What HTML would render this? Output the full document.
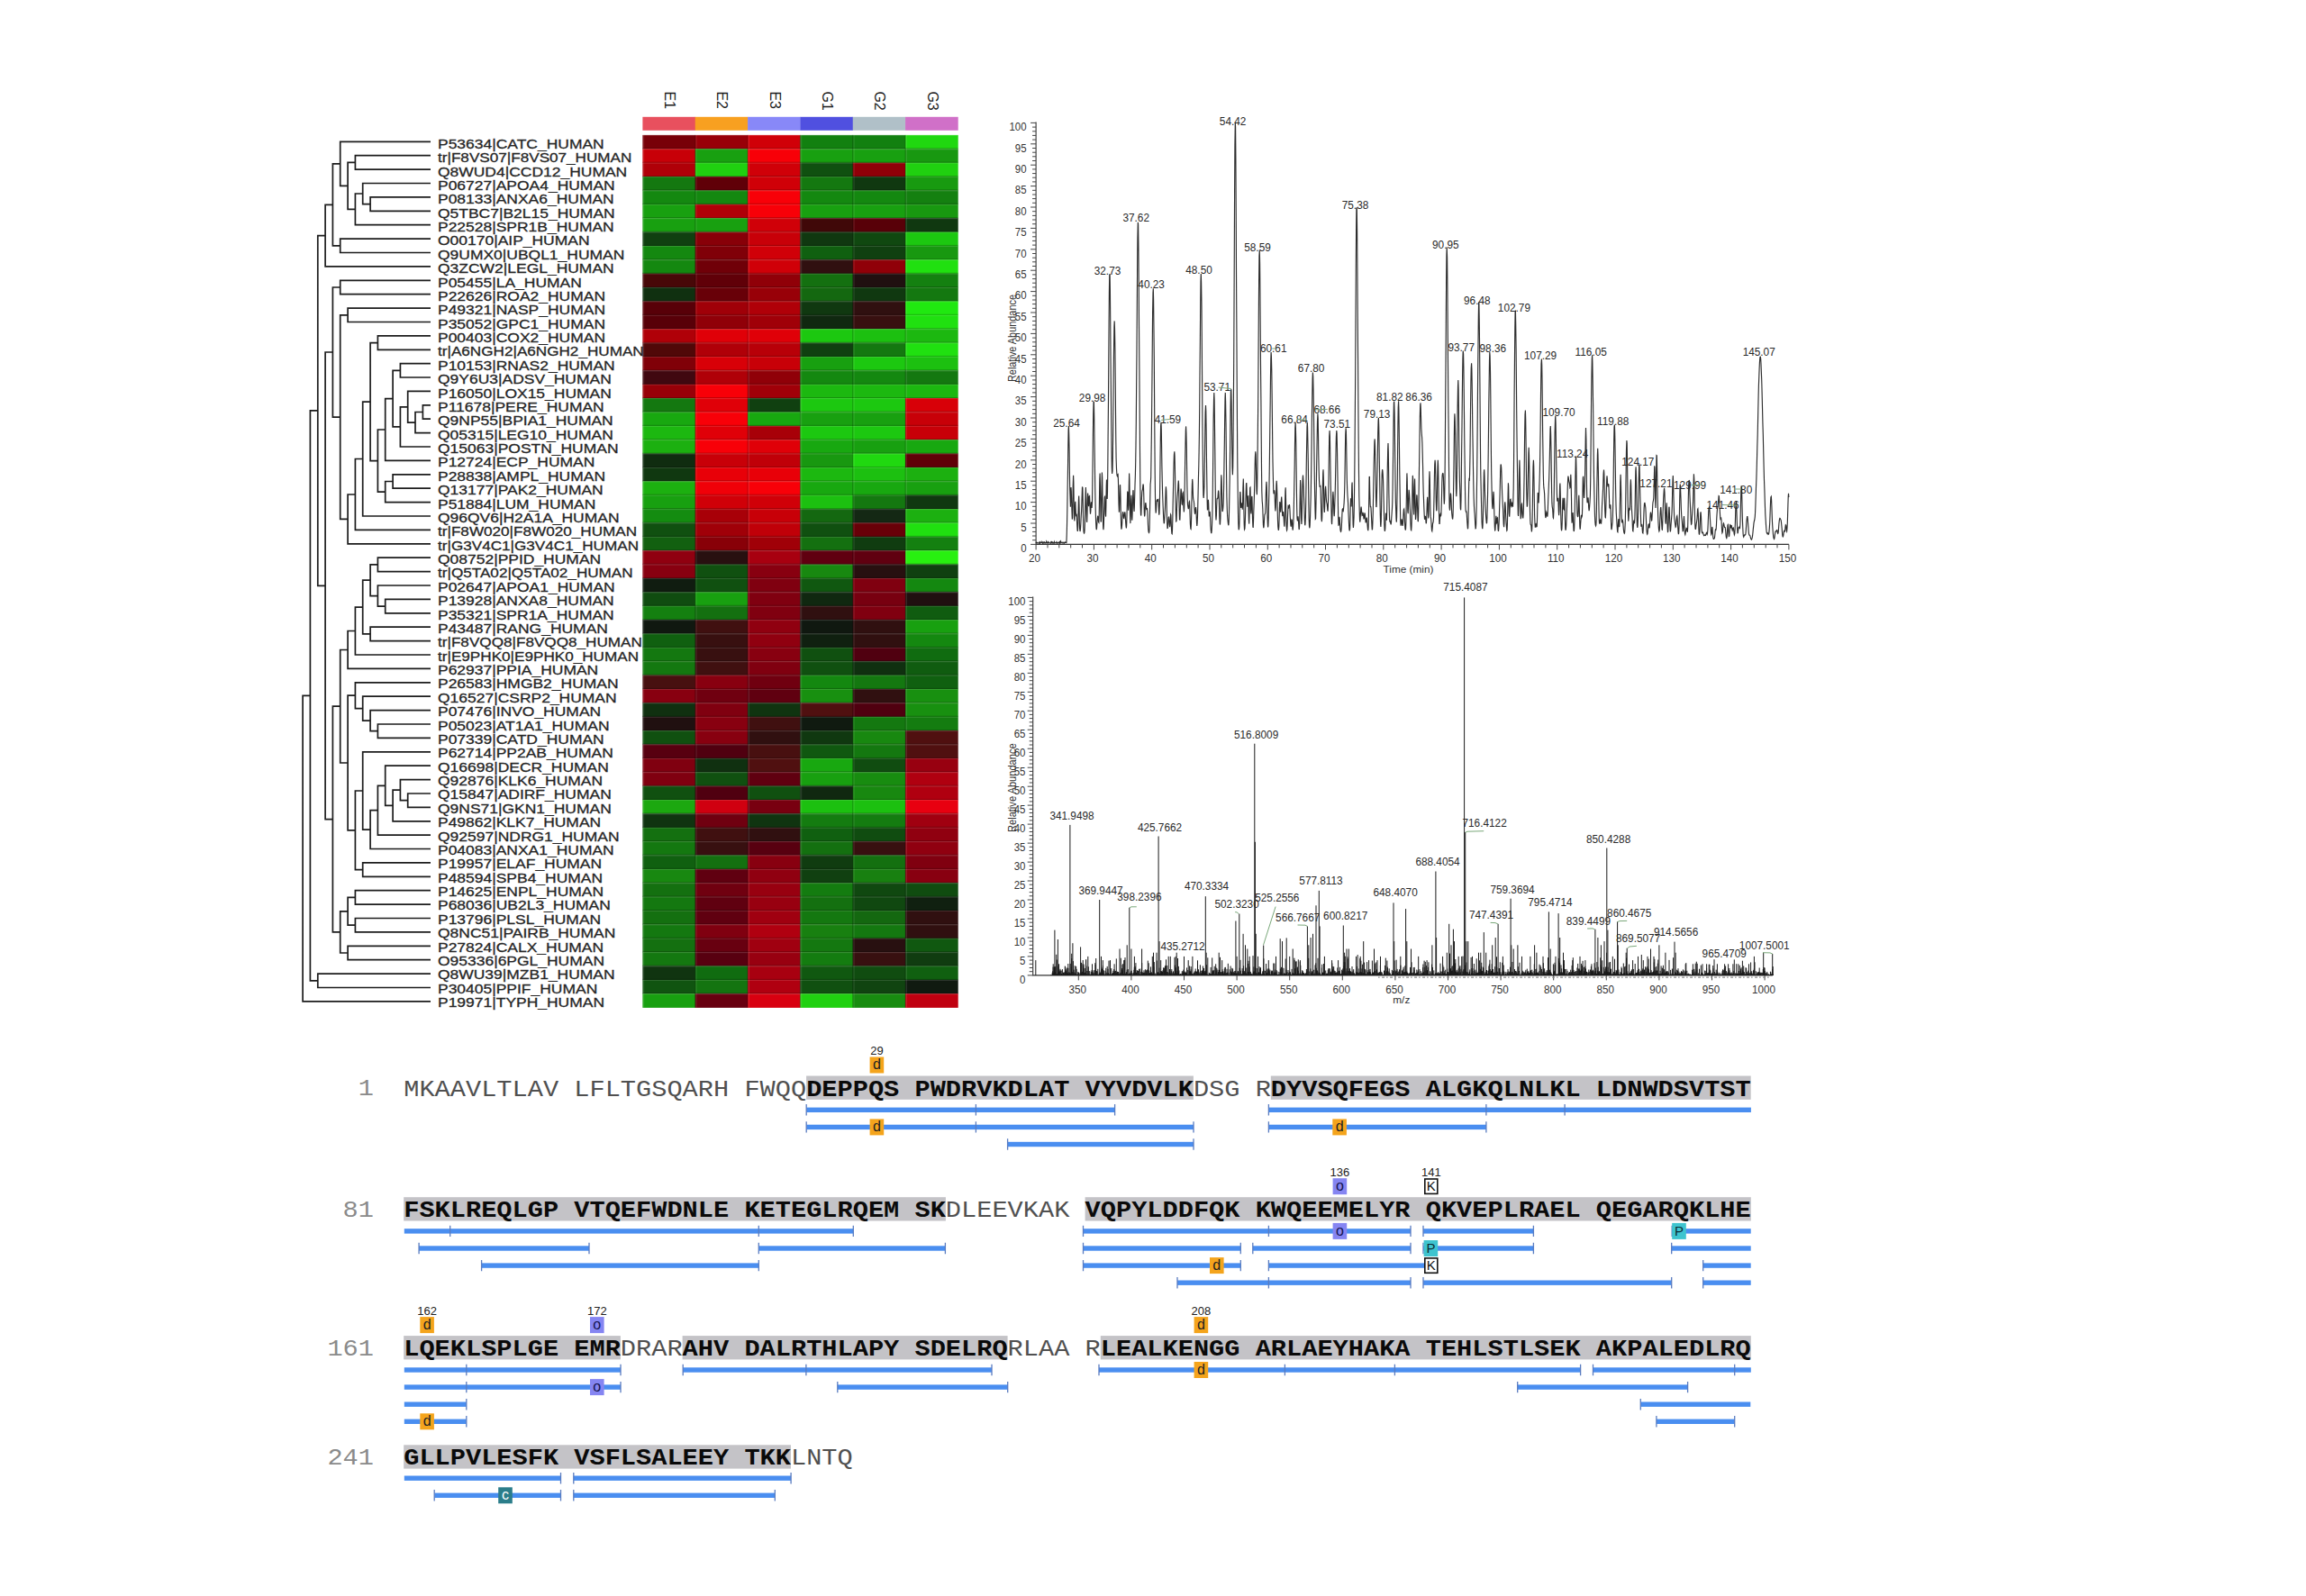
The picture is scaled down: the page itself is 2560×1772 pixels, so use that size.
<!DOCTYPE html>
<html><head><meta charset="utf-8"><title>Proteomics figure</title>
<style>html,body{margin:0;padding:0;background:#fff;}svg{display:block;}</style></head>
<body><svg width="2560" height="1772" viewBox="0 0 2560 1772">
<rect width="2560" height="1772" fill="#fff"/>
<rect x="713.40" y="129.8" width="58.63" height="15" fill="#e8505e"/>
<rect x="771.73" y="129.8" width="58.63" height="15" fill="#f8a020"/>
<rect x="830.07" y="129.8" width="58.63" height="15" fill="#8888f8"/>
<rect x="888.40" y="129.8" width="58.63" height="15" fill="#5050e0"/>
<rect x="946.73" y="129.8" width="58.63" height="15" fill="#b0c0c8"/>
<rect x="1005.07" y="129.8" width="58.63" height="15" fill="#d070c8"/>
<rect x="713.40" y="149.90" width="58.63" height="15.68" fill="#780008"/>
<rect x="771.73" y="149.90" width="58.63" height="15.68" fill="#980008"/>
<rect x="830.07" y="149.90" width="58.63" height="15.68" fill="#d00008"/>
<rect x="888.40" y="149.90" width="58.63" height="15.68" fill="#128010"/>
<rect x="946.73" y="149.90" width="58.63" height="15.68" fill="#128010"/>
<rect x="1005.07" y="149.90" width="58.63" height="15.68" fill="#20d810"/>
<rect x="713.40" y="165.28" width="58.63" height="15.68" fill="#c80008"/>
<rect x="771.73" y="165.28" width="58.63" height="15.68" fill="#18a010"/>
<rect x="830.07" y="165.28" width="58.63" height="15.68" fill="#f80008"/>
<rect x="888.40" y="165.28" width="58.63" height="15.68" fill="#18a010"/>
<rect x="946.73" y="165.28" width="58.63" height="15.68" fill="#18a010"/>
<rect x="1005.07" y="165.28" width="58.63" height="15.68" fill="#189810"/>
<rect x="713.40" y="180.65" width="58.63" height="15.68" fill="#b00008"/>
<rect x="771.73" y="180.65" width="58.63" height="15.68" fill="#20d010"/>
<rect x="830.07" y="180.65" width="58.63" height="15.68" fill="#d00008"/>
<rect x="888.40" y="180.65" width="58.63" height="15.68" fill="#105010"/>
<rect x="946.73" y="180.65" width="58.63" height="15.68" fill="#900008"/>
<rect x="1005.07" y="180.65" width="58.63" height="15.68" fill="#20d010"/>
<rect x="713.40" y="196.03" width="58.63" height="15.68" fill="#147810"/>
<rect x="771.73" y="196.03" width="58.63" height="15.68" fill="#600008"/>
<rect x="830.07" y="196.03" width="58.63" height="15.68" fill="#d00008"/>
<rect x="888.40" y="196.03" width="58.63" height="15.68" fill="#147810"/>
<rect x="946.73" y="196.03" width="58.63" height="15.68" fill="#103810"/>
<rect x="1005.07" y="196.03" width="58.63" height="15.68" fill="#189a10"/>
<rect x="713.40" y="211.40" width="58.63" height="15.68" fill="#148810"/>
<rect x="771.73" y="211.40" width="58.63" height="15.68" fill="#148810"/>
<rect x="830.07" y="211.40" width="58.63" height="15.68" fill="#f80008"/>
<rect x="888.40" y="211.40" width="58.63" height="15.68" fill="#148810"/>
<rect x="946.73" y="211.40" width="58.63" height="15.68" fill="#148810"/>
<rect x="1005.07" y="211.40" width="58.63" height="15.68" fill="#148010"/>
<rect x="713.40" y="226.78" width="58.63" height="15.68" fill="#18a010"/>
<rect x="771.73" y="226.78" width="58.63" height="15.68" fill="#b00008"/>
<rect x="830.07" y="226.78" width="58.63" height="15.68" fill="#f80008"/>
<rect x="888.40" y="226.78" width="58.63" height="15.68" fill="#18a010"/>
<rect x="946.73" y="226.78" width="58.63" height="15.68" fill="#18a010"/>
<rect x="1005.07" y="226.78" width="58.63" height="15.68" fill="#189810"/>
<rect x="713.40" y="242.16" width="58.63" height="15.68" fill="#18a010"/>
<rect x="771.73" y="242.16" width="58.63" height="15.68" fill="#18a010"/>
<rect x="830.07" y="242.16" width="58.63" height="15.68" fill="#d00008"/>
<rect x="888.40" y="242.16" width="58.63" height="15.68" fill="#400808"/>
<rect x="946.73" y="242.16" width="58.63" height="15.68" fill="#580008"/>
<rect x="1005.07" y="242.16" width="58.63" height="15.68" fill="#103810"/>
<rect x="713.40" y="257.53" width="58.63" height="15.68" fill="#104010"/>
<rect x="771.73" y="257.53" width="58.63" height="15.68" fill="#880008"/>
<rect x="830.07" y="257.53" width="58.63" height="15.68" fill="#c80008"/>
<rect x="888.40" y="257.53" width="58.63" height="15.68" fill="#103810"/>
<rect x="946.73" y="257.53" width="58.63" height="15.68" fill="#104810"/>
<rect x="1005.07" y="257.53" width="58.63" height="15.68" fill="#1cc810"/>
<rect x="713.40" y="272.91" width="58.63" height="15.68" fill="#148810"/>
<rect x="771.73" y="272.91" width="58.63" height="15.68" fill="#800008"/>
<rect x="830.07" y="272.91" width="58.63" height="15.68" fill="#d00008"/>
<rect x="888.40" y="272.91" width="58.63" height="15.68" fill="#106010"/>
<rect x="946.73" y="272.91" width="58.63" height="15.68" fill="#104010"/>
<rect x="1005.07" y="272.91" width="58.63" height="15.68" fill="#189810"/>
<rect x="713.40" y="288.29" width="58.63" height="15.68" fill="#148810"/>
<rect x="771.73" y="288.29" width="58.63" height="15.68" fill="#700008"/>
<rect x="830.07" y="288.29" width="58.63" height="15.68" fill="#d00008"/>
<rect x="888.40" y="288.29" width="58.63" height="15.68" fill="#301010"/>
<rect x="946.73" y="288.29" width="58.63" height="15.68" fill="#900008"/>
<rect x="1005.07" y="288.29" width="58.63" height="15.68" fill="#20e010"/>
<rect x="713.40" y="303.66" width="58.63" height="15.68" fill="#480808"/>
<rect x="771.73" y="303.66" width="58.63" height="15.68" fill="#600008"/>
<rect x="830.07" y="303.66" width="58.63" height="15.68" fill="#900008"/>
<rect x="888.40" y="303.66" width="58.63" height="15.68" fill="#147010"/>
<rect x="946.73" y="303.66" width="58.63" height="15.68" fill="#201010"/>
<rect x="1005.07" y="303.66" width="58.63" height="15.68" fill="#148010"/>
<rect x="713.40" y="319.04" width="58.63" height="15.68" fill="#103010"/>
<rect x="771.73" y="319.04" width="58.63" height="15.68" fill="#680008"/>
<rect x="830.07" y="319.04" width="58.63" height="15.68" fill="#980008"/>
<rect x="888.40" y="319.04" width="58.63" height="15.68" fill="#146810"/>
<rect x="946.73" y="319.04" width="58.63" height="15.68" fill="#103810"/>
<rect x="1005.07" y="319.04" width="58.63" height="15.68" fill="#147810"/>
<rect x="713.40" y="334.41" width="58.63" height="15.68" fill="#580008"/>
<rect x="771.73" y="334.41" width="58.63" height="15.68" fill="#a00008"/>
<rect x="830.07" y="334.41" width="58.63" height="15.68" fill="#b00008"/>
<rect x="888.40" y="334.41" width="58.63" height="15.68" fill="#103810"/>
<rect x="946.73" y="334.41" width="58.63" height="15.68" fill="#301010"/>
<rect x="1005.07" y="334.41" width="58.63" height="15.68" fill="#20e810"/>
<rect x="713.40" y="349.79" width="58.63" height="15.68" fill="#580008"/>
<rect x="771.73" y="349.79" width="58.63" height="15.68" fill="#900008"/>
<rect x="830.07" y="349.79" width="58.63" height="15.68" fill="#a00008"/>
<rect x="888.40" y="349.79" width="58.63" height="15.68" fill="#102810"/>
<rect x="946.73" y="349.79" width="58.63" height="15.68" fill="#381010"/>
<rect x="1005.07" y="349.79" width="58.63" height="15.68" fill="#20e010"/>
<rect x="713.40" y="365.17" width="58.63" height="15.68" fill="#b00008"/>
<rect x="771.73" y="365.17" width="58.63" height="15.68" fill="#e00008"/>
<rect x="830.07" y="365.17" width="58.63" height="15.68" fill="#e00008"/>
<rect x="888.40" y="365.17" width="58.63" height="15.68" fill="#1cc810"/>
<rect x="946.73" y="365.17" width="58.63" height="15.68" fill="#1cc010"/>
<rect x="1005.07" y="365.17" width="58.63" height="15.68" fill="#1cb810"/>
<rect x="713.40" y="380.54" width="58.63" height="15.68" fill="#500808"/>
<rect x="771.73" y="380.54" width="58.63" height="15.68" fill="#b00008"/>
<rect x="830.07" y="380.54" width="58.63" height="15.68" fill="#b80008"/>
<rect x="888.40" y="380.54" width="58.63" height="15.68" fill="#104010"/>
<rect x="946.73" y="380.54" width="58.63" height="15.68" fill="#147810"/>
<rect x="1005.07" y="380.54" width="58.63" height="15.68" fill="#20e010"/>
<rect x="713.40" y="395.92" width="58.63" height="15.68" fill="#800008"/>
<rect x="771.73" y="395.92" width="58.63" height="15.68" fill="#d80008"/>
<rect x="830.07" y="395.92" width="58.63" height="15.68" fill="#c80008"/>
<rect x="888.40" y="395.92" width="58.63" height="15.68" fill="#18a010"/>
<rect x="946.73" y="395.92" width="58.63" height="15.68" fill="#1cc810"/>
<rect x="1005.07" y="395.92" width="58.63" height="15.68" fill="#1cc010"/>
<rect x="713.40" y="411.30" width="58.63" height="15.68" fill="#400810"/>
<rect x="771.73" y="411.30" width="58.63" height="15.68" fill="#b00008"/>
<rect x="830.07" y="411.30" width="58.63" height="15.68" fill="#900008"/>
<rect x="888.40" y="411.30" width="58.63" height="15.68" fill="#148810"/>
<rect x="946.73" y="411.30" width="58.63" height="15.68" fill="#148810"/>
<rect x="1005.07" y="411.30" width="58.63" height="15.68" fill="#147810"/>
<rect x="713.40" y="426.67" width="58.63" height="15.68" fill="#980008"/>
<rect x="771.73" y="426.67" width="58.63" height="15.68" fill="#f80008"/>
<rect x="830.07" y="426.67" width="58.63" height="15.68" fill="#a00008"/>
<rect x="888.40" y="426.67" width="58.63" height="15.68" fill="#1cb810"/>
<rect x="946.73" y="426.67" width="58.63" height="15.68" fill="#1cb810"/>
<rect x="1005.07" y="426.67" width="58.63" height="15.68" fill="#1cb810"/>
<rect x="713.40" y="442.05" width="58.63" height="15.68" fill="#147810"/>
<rect x="771.73" y="442.05" width="58.63" height="15.68" fill="#e00008"/>
<rect x="830.07" y="442.05" width="58.63" height="15.68" fill="#104010"/>
<rect x="888.40" y="442.05" width="58.63" height="15.68" fill="#1cc810"/>
<rect x="946.73" y="442.05" width="58.63" height="15.68" fill="#1cc810"/>
<rect x="1005.07" y="442.05" width="58.63" height="15.68" fill="#d80008"/>
<rect x="713.40" y="457.42" width="58.63" height="15.68" fill="#18a810"/>
<rect x="771.73" y="457.42" width="58.63" height="15.68" fill="#f80008"/>
<rect x="830.07" y="457.42" width="58.63" height="15.68" fill="#18a810"/>
<rect x="888.40" y="457.42" width="58.63" height="15.68" fill="#18a010"/>
<rect x="946.73" y="457.42" width="58.63" height="15.68" fill="#18a010"/>
<rect x="1005.07" y="457.42" width="58.63" height="15.68" fill="#c80008"/>
<rect x="713.40" y="472.80" width="58.63" height="15.68" fill="#1cb810"/>
<rect x="771.73" y="472.80" width="58.63" height="15.68" fill="#e00008"/>
<rect x="830.07" y="472.80" width="58.63" height="15.68" fill="#a80008"/>
<rect x="888.40" y="472.80" width="58.63" height="15.68" fill="#1cc810"/>
<rect x="946.73" y="472.80" width="58.63" height="15.68" fill="#1cc810"/>
<rect x="1005.07" y="472.80" width="58.63" height="15.68" fill="#c80008"/>
<rect x="713.40" y="488.18" width="58.63" height="15.68" fill="#1cb010"/>
<rect x="771.73" y="488.18" width="58.63" height="15.68" fill="#f80008"/>
<rect x="830.07" y="488.18" width="58.63" height="15.68" fill="#e00008"/>
<rect x="888.40" y="488.18" width="58.63" height="15.68" fill="#18a810"/>
<rect x="946.73" y="488.18" width="58.63" height="15.68" fill="#18a010"/>
<rect x="1005.07" y="488.18" width="58.63" height="15.68" fill="#18a810"/>
<rect x="713.40" y="503.55" width="58.63" height="15.68" fill="#102c10"/>
<rect x="771.73" y="503.55" width="58.63" height="15.68" fill="#c80008"/>
<rect x="830.07" y="503.55" width="58.63" height="15.68" fill="#c00008"/>
<rect x="888.40" y="503.55" width="58.63" height="15.68" fill="#189810"/>
<rect x="946.73" y="503.55" width="58.63" height="15.68" fill="#20d810"/>
<rect x="1005.07" y="503.55" width="58.63" height="15.68" fill="#600008"/>
<rect x="713.40" y="518.93" width="58.63" height="15.68" fill="#103810"/>
<rect x="771.73" y="518.93" width="58.63" height="15.68" fill="#e80008"/>
<rect x="830.07" y="518.93" width="58.63" height="15.68" fill="#e80008"/>
<rect x="888.40" y="518.93" width="58.63" height="15.68" fill="#1cb810"/>
<rect x="946.73" y="518.93" width="58.63" height="15.68" fill="#1cc010"/>
<rect x="1005.07" y="518.93" width="58.63" height="15.68" fill="#1cb010"/>
<rect x="713.40" y="534.30" width="58.63" height="15.68" fill="#1cb010"/>
<rect x="771.73" y="534.30" width="58.63" height="15.68" fill="#f00008"/>
<rect x="830.07" y="534.30" width="58.63" height="15.68" fill="#f80008"/>
<rect x="888.40" y="534.30" width="58.63" height="15.68" fill="#18a810"/>
<rect x="946.73" y="534.30" width="58.63" height="15.68" fill="#18a810"/>
<rect x="1005.07" y="534.30" width="58.63" height="15.68" fill="#18a010"/>
<rect x="713.40" y="549.68" width="58.63" height="15.68" fill="#18a010"/>
<rect x="771.73" y="549.68" width="58.63" height="15.68" fill="#d00008"/>
<rect x="830.07" y="549.68" width="58.63" height="15.68" fill="#d00008"/>
<rect x="888.40" y="549.68" width="58.63" height="15.68" fill="#1cc010"/>
<rect x="946.73" y="549.68" width="58.63" height="15.68" fill="#147810"/>
<rect x="1005.07" y="549.68" width="58.63" height="15.68" fill="#103810"/>
<rect x="713.40" y="565.06" width="58.63" height="15.68" fill="#148c10"/>
<rect x="771.73" y="565.06" width="58.63" height="15.68" fill="#a80008"/>
<rect x="830.07" y="565.06" width="58.63" height="15.68" fill="#c80008"/>
<rect x="888.40" y="565.06" width="58.63" height="15.68" fill="#146810"/>
<rect x="946.73" y="565.06" width="58.63" height="15.68" fill="#142814"/>
<rect x="1005.07" y="565.06" width="58.63" height="15.68" fill="#1cb010"/>
<rect x="713.40" y="580.43" width="58.63" height="15.68" fill="#105010"/>
<rect x="771.73" y="580.43" width="58.63" height="15.68" fill="#a00008"/>
<rect x="830.07" y="580.43" width="58.63" height="15.68" fill="#c00008"/>
<rect x="888.40" y="580.43" width="58.63" height="15.68" fill="#105010"/>
<rect x="946.73" y="580.43" width="58.63" height="15.68" fill="#680008"/>
<rect x="1005.07" y="580.43" width="58.63" height="15.68" fill="#20e010"/>
<rect x="713.40" y="595.81" width="58.63" height="15.68" fill="#126010"/>
<rect x="771.73" y="595.81" width="58.63" height="15.68" fill="#880008"/>
<rect x="830.07" y="595.81" width="58.63" height="15.68" fill="#a00008"/>
<rect x="888.40" y="595.81" width="58.63" height="15.68" fill="#147010"/>
<rect x="946.73" y="595.81" width="58.63" height="15.68" fill="#103c10"/>
<rect x="1005.07" y="595.81" width="58.63" height="15.68" fill="#148010"/>
<rect x="713.40" y="611.19" width="58.63" height="15.68" fill="#900010"/>
<rect x="771.73" y="611.19" width="58.63" height="15.68" fill="#281010"/>
<rect x="830.07" y="611.19" width="58.63" height="15.68" fill="#a80010"/>
<rect x="888.40" y="611.19" width="58.63" height="15.68" fill="#600010"/>
<rect x="946.73" y="611.19" width="58.63" height="15.68" fill="#600010"/>
<rect x="1005.07" y="611.19" width="58.63" height="15.68" fill="#28f010"/>
<rect x="713.40" y="626.56" width="58.63" height="15.68" fill="#880010"/>
<rect x="771.73" y="626.56" width="58.63" height="15.68" fill="#105010"/>
<rect x="830.07" y="626.56" width="58.63" height="15.68" fill="#880010"/>
<rect x="888.40" y="626.56" width="58.63" height="15.68" fill="#188810"/>
<rect x="946.73" y="626.56" width="58.63" height="15.68" fill="#281010"/>
<rect x="1005.07" y="626.56" width="58.63" height="15.68" fill="#104010"/>
<rect x="713.40" y="641.94" width="58.63" height="15.68" fill="#101c10"/>
<rect x="771.73" y="641.94" width="58.63" height="15.68" fill="#105010"/>
<rect x="830.07" y="641.94" width="58.63" height="15.68" fill="#800010"/>
<rect x="888.40" y="641.94" width="58.63" height="15.68" fill="#105810"/>
<rect x="946.73" y="641.94" width="58.63" height="15.68" fill="#800010"/>
<rect x="1005.07" y="641.94" width="58.63" height="15.68" fill="#148810"/>
<rect x="713.40" y="657.31" width="58.63" height="15.68" fill="#104c10"/>
<rect x="771.73" y="657.31" width="58.63" height="15.68" fill="#18a010"/>
<rect x="830.07" y="657.31" width="58.63" height="15.68" fill="#800010"/>
<rect x="888.40" y="657.31" width="58.63" height="15.68" fill="#102810"/>
<rect x="946.73" y="657.31" width="58.63" height="15.68" fill="#780010"/>
<rect x="1005.07" y="657.31" width="58.63" height="15.68" fill="#201010"/>
<rect x="713.40" y="672.69" width="58.63" height="15.68" fill="#148010"/>
<rect x="771.73" y="672.69" width="58.63" height="15.68" fill="#147010"/>
<rect x="830.07" y="672.69" width="58.63" height="15.68" fill="#800010"/>
<rect x="888.40" y="672.69" width="58.63" height="15.68" fill="#301010"/>
<rect x="946.73" y="672.69" width="58.63" height="15.68" fill="#800010"/>
<rect x="1005.07" y="672.69" width="58.63" height="15.68" fill="#105c10"/>
<rect x="713.40" y="688.07" width="58.63" height="15.68" fill="#101810"/>
<rect x="771.73" y="688.07" width="58.63" height="15.68" fill="#401010"/>
<rect x="830.07" y="688.07" width="58.63" height="15.68" fill="#900010"/>
<rect x="888.40" y="688.07" width="58.63" height="15.68" fill="#101810"/>
<rect x="946.73" y="688.07" width="58.63" height="15.68" fill="#301010"/>
<rect x="1005.07" y="688.07" width="58.63" height="15.68" fill="#18a010"/>
<rect x="713.40" y="703.44" width="58.63" height="15.68" fill="#106010"/>
<rect x="771.73" y="703.44" width="58.63" height="15.68" fill="#381010"/>
<rect x="830.07" y="703.44" width="58.63" height="15.68" fill="#900010"/>
<rect x="888.40" y="703.44" width="58.63" height="15.68" fill="#102010"/>
<rect x="946.73" y="703.44" width="58.63" height="15.68" fill="#301010"/>
<rect x="1005.07" y="703.44" width="58.63" height="15.68" fill="#148810"/>
<rect x="713.40" y="718.82" width="58.63" height="15.68" fill="#147810"/>
<rect x="771.73" y="718.82" width="58.63" height="15.68" fill="#381010"/>
<rect x="830.07" y="718.82" width="58.63" height="15.68" fill="#880010"/>
<rect x="888.40" y="718.82" width="58.63" height="15.68" fill="#105010"/>
<rect x="946.73" y="718.82" width="58.63" height="15.68" fill="#500010"/>
<rect x="1005.07" y="718.82" width="58.63" height="15.68" fill="#106c10"/>
<rect x="713.40" y="734.20" width="58.63" height="15.68" fill="#147810"/>
<rect x="771.73" y="734.20" width="58.63" height="15.68" fill="#401010"/>
<rect x="830.07" y="734.20" width="58.63" height="15.68" fill="#800010"/>
<rect x="888.40" y="734.20" width="58.63" height="15.68" fill="#105010"/>
<rect x="946.73" y="734.20" width="58.63" height="15.68" fill="#103010"/>
<rect x="1005.07" y="734.20" width="58.63" height="15.68" fill="#105c10"/>
<rect x="713.40" y="749.57" width="58.63" height="15.68" fill="#481010"/>
<rect x="771.73" y="749.57" width="58.63" height="15.68" fill="#880010"/>
<rect x="830.07" y="749.57" width="58.63" height="15.68" fill="#700010"/>
<rect x="888.40" y="749.57" width="58.63" height="15.68" fill="#148810"/>
<rect x="946.73" y="749.57" width="58.63" height="15.68" fill="#147810"/>
<rect x="1005.07" y="749.57" width="58.63" height="15.68" fill="#106010"/>
<rect x="713.40" y="764.95" width="58.63" height="15.68" fill="#880010"/>
<rect x="771.73" y="764.95" width="58.63" height="15.68" fill="#700010"/>
<rect x="830.07" y="764.95" width="58.63" height="15.68" fill="#600010"/>
<rect x="888.40" y="764.95" width="58.63" height="15.68" fill="#189010"/>
<rect x="946.73" y="764.95" width="58.63" height="15.68" fill="#301010"/>
<rect x="1005.07" y="764.95" width="58.63" height="15.68" fill="#189010"/>
<rect x="713.40" y="780.32" width="58.63" height="15.68" fill="#103010"/>
<rect x="771.73" y="780.32" width="58.63" height="15.68" fill="#800010"/>
<rect x="830.07" y="780.32" width="58.63" height="15.68" fill="#103410"/>
<rect x="888.40" y="780.32" width="58.63" height="15.68" fill="#501010"/>
<rect x="946.73" y="780.32" width="58.63" height="15.68" fill="#500010"/>
<rect x="1005.07" y="780.32" width="58.63" height="15.68" fill="#189010"/>
<rect x="713.40" y="795.70" width="58.63" height="15.68" fill="#201010"/>
<rect x="771.73" y="795.70" width="58.63" height="15.68" fill="#880010"/>
<rect x="830.07" y="795.70" width="58.63" height="15.68" fill="#401010"/>
<rect x="888.40" y="795.70" width="58.63" height="15.68" fill="#101a10"/>
<rect x="946.73" y="795.70" width="58.63" height="15.68" fill="#147810"/>
<rect x="1005.07" y="795.70" width="58.63" height="15.68" fill="#147c10"/>
<rect x="713.40" y="811.08" width="58.63" height="15.68" fill="#105010"/>
<rect x="771.73" y="811.08" width="58.63" height="15.68" fill="#880010"/>
<rect x="830.07" y="811.08" width="58.63" height="15.68" fill="#301010"/>
<rect x="888.40" y="811.08" width="58.63" height="15.68" fill="#103810"/>
<rect x="946.73" y="811.08" width="58.63" height="15.68" fill="#188810"/>
<rect x="1005.07" y="811.08" width="58.63" height="15.68" fill="#501010"/>
<rect x="713.40" y="826.45" width="58.63" height="15.68" fill="#580010"/>
<rect x="771.73" y="826.45" width="58.63" height="15.68" fill="#500010"/>
<rect x="830.07" y="826.45" width="58.63" height="15.68" fill="#481010"/>
<rect x="888.40" y="826.45" width="58.63" height="15.68" fill="#105810"/>
<rect x="946.73" y="826.45" width="58.63" height="15.68" fill="#147810"/>
<rect x="1005.07" y="826.45" width="58.63" height="15.68" fill="#501010"/>
<rect x="713.40" y="841.83" width="58.63" height="15.68" fill="#800010"/>
<rect x="771.73" y="841.83" width="58.63" height="15.68" fill="#103010"/>
<rect x="830.07" y="841.83" width="58.63" height="15.68" fill="#501010"/>
<rect x="888.40" y="841.83" width="58.63" height="15.68" fill="#18a810"/>
<rect x="946.73" y="841.83" width="58.63" height="15.68" fill="#104c10"/>
<rect x="1005.07" y="841.83" width="58.63" height="15.68" fill="#980010"/>
<rect x="713.40" y="857.20" width="58.63" height="15.68" fill="#800010"/>
<rect x="771.73" y="857.20" width="58.63" height="15.68" fill="#105010"/>
<rect x="830.07" y="857.20" width="58.63" height="15.68" fill="#600010"/>
<rect x="888.40" y="857.20" width="58.63" height="15.68" fill="#18a010"/>
<rect x="946.73" y="857.20" width="58.63" height="15.68" fill="#188c10"/>
<rect x="1005.07" y="857.20" width="58.63" height="15.68" fill="#b00010"/>
<rect x="713.40" y="872.58" width="58.63" height="15.68" fill="#105010"/>
<rect x="771.73" y="872.58" width="58.63" height="15.68" fill="#500010"/>
<rect x="830.07" y="872.58" width="58.63" height="15.68" fill="#105010"/>
<rect x="888.40" y="872.58" width="58.63" height="15.68" fill="#102810"/>
<rect x="946.73" y="872.58" width="58.63" height="15.68" fill="#188810"/>
<rect x="1005.07" y="872.58" width="58.63" height="15.68" fill="#b00010"/>
<rect x="713.40" y="887.96" width="58.63" height="15.68" fill="#1ca810"/>
<rect x="771.73" y="887.96" width="58.63" height="15.68" fill="#d00010"/>
<rect x="830.07" y="887.96" width="58.63" height="15.68" fill="#780010"/>
<rect x="888.40" y="887.96" width="58.63" height="15.68" fill="#1cc010"/>
<rect x="946.73" y="887.96" width="58.63" height="15.68" fill="#1cc010"/>
<rect x="1005.07" y="887.96" width="58.63" height="15.68" fill="#e80010"/>
<rect x="713.40" y="903.33" width="58.63" height="15.68" fill="#103410"/>
<rect x="771.73" y="903.33" width="58.63" height="15.68" fill="#700010"/>
<rect x="830.07" y="903.33" width="58.63" height="15.68" fill="#103410"/>
<rect x="888.40" y="903.33" width="58.63" height="15.68" fill="#147c10"/>
<rect x="946.73" y="903.33" width="58.63" height="15.68" fill="#147c10"/>
<rect x="1005.07" y="903.33" width="58.63" height="15.68" fill="#a00010"/>
<rect x="713.40" y="918.71" width="58.63" height="15.68" fill="#147010"/>
<rect x="771.73" y="918.71" width="58.63" height="15.68" fill="#401010"/>
<rect x="830.07" y="918.71" width="58.63" height="15.68" fill="#301010"/>
<rect x="888.40" y="918.71" width="58.63" height="15.68" fill="#106010"/>
<rect x="946.73" y="918.71" width="58.63" height="15.68" fill="#104c10"/>
<rect x="1005.07" y="918.71" width="58.63" height="15.68" fill="#900010"/>
<rect x="713.40" y="934.09" width="58.63" height="15.68" fill="#147810"/>
<rect x="771.73" y="934.09" width="58.63" height="15.68" fill="#381010"/>
<rect x="830.07" y="934.09" width="58.63" height="15.68" fill="#580010"/>
<rect x="888.40" y="934.09" width="58.63" height="15.68" fill="#147010"/>
<rect x="946.73" y="934.09" width="58.63" height="15.68" fill="#381010"/>
<rect x="1005.07" y="934.09" width="58.63" height="15.68" fill="#900010"/>
<rect x="713.40" y="949.46" width="58.63" height="15.68" fill="#106010"/>
<rect x="771.73" y="949.46" width="58.63" height="15.68" fill="#147010"/>
<rect x="830.07" y="949.46" width="58.63" height="15.68" fill="#880010"/>
<rect x="888.40" y="949.46" width="58.63" height="15.68" fill="#103c10"/>
<rect x="946.73" y="949.46" width="58.63" height="15.68" fill="#147010"/>
<rect x="1005.07" y="949.46" width="58.63" height="15.68" fill="#800010"/>
<rect x="713.40" y="964.84" width="58.63" height="15.68" fill="#188810"/>
<rect x="771.73" y="964.84" width="58.63" height="15.68" fill="#600010"/>
<rect x="830.07" y="964.84" width="58.63" height="15.68" fill="#900010"/>
<rect x="888.40" y="964.84" width="58.63" height="15.68" fill="#104010"/>
<rect x="946.73" y="964.84" width="58.63" height="15.68" fill="#188010"/>
<rect x="1005.07" y="964.84" width="58.63" height="15.68" fill="#880010"/>
<rect x="713.40" y="980.21" width="58.63" height="15.68" fill="#147010"/>
<rect x="771.73" y="980.21" width="58.63" height="15.68" fill="#700010"/>
<rect x="830.07" y="980.21" width="58.63" height="15.68" fill="#980010"/>
<rect x="888.40" y="980.21" width="58.63" height="15.68" fill="#147c10"/>
<rect x="946.73" y="980.21" width="58.63" height="15.68" fill="#104810"/>
<rect x="1005.07" y="980.21" width="58.63" height="15.68" fill="#104c10"/>
<rect x="713.40" y="995.59" width="58.63" height="15.68" fill="#147810"/>
<rect x="771.73" y="995.59" width="58.63" height="15.68" fill="#600010"/>
<rect x="830.07" y="995.59" width="58.63" height="15.68" fill="#980010"/>
<rect x="888.40" y="995.59" width="58.63" height="15.68" fill="#147010"/>
<rect x="946.73" y="995.59" width="58.63" height="15.68" fill="#104810"/>
<rect x="1005.07" y="995.59" width="58.63" height="15.68" fill="#102010"/>
<rect x="713.40" y="1010.97" width="58.63" height="15.68" fill="#147010"/>
<rect x="771.73" y="1010.97" width="58.63" height="15.68" fill="#600010"/>
<rect x="830.07" y="1010.97" width="58.63" height="15.68" fill="#a00010"/>
<rect x="888.40" y="1010.97" width="58.63" height="15.68" fill="#147810"/>
<rect x="946.73" y="1010.97" width="58.63" height="15.68" fill="#146810"/>
<rect x="1005.07" y="1010.97" width="58.63" height="15.68" fill="#301010"/>
<rect x="713.40" y="1026.34" width="58.63" height="15.68" fill="#147810"/>
<rect x="771.73" y="1026.34" width="58.63" height="15.68" fill="#800010"/>
<rect x="830.07" y="1026.34" width="58.63" height="15.68" fill="#b00010"/>
<rect x="888.40" y="1026.34" width="58.63" height="15.68" fill="#188010"/>
<rect x="946.73" y="1026.34" width="58.63" height="15.68" fill="#147810"/>
<rect x="1005.07" y="1026.34" width="58.63" height="15.68" fill="#301010"/>
<rect x="713.40" y="1041.72" width="58.63" height="15.68" fill="#147010"/>
<rect x="771.73" y="1041.72" width="58.63" height="15.68" fill="#680010"/>
<rect x="830.07" y="1041.72" width="58.63" height="15.68" fill="#a00010"/>
<rect x="888.40" y="1041.72" width="58.63" height="15.68" fill="#147810"/>
<rect x="946.73" y="1041.72" width="58.63" height="15.68" fill="#281010"/>
<rect x="1005.07" y="1041.72" width="58.63" height="15.68" fill="#105810"/>
<rect x="713.40" y="1057.10" width="58.63" height="15.68" fill="#147810"/>
<rect x="771.73" y="1057.10" width="58.63" height="15.68" fill="#580010"/>
<rect x="830.07" y="1057.10" width="58.63" height="15.68" fill="#980010"/>
<rect x="888.40" y="1057.10" width="58.63" height="15.68" fill="#147c10"/>
<rect x="946.73" y="1057.10" width="58.63" height="15.68" fill="#381010"/>
<rect x="1005.07" y="1057.10" width="58.63" height="15.68" fill="#103c10"/>
<rect x="713.40" y="1072.47" width="58.63" height="15.68" fill="#103410"/>
<rect x="771.73" y="1072.47" width="58.63" height="15.68" fill="#106c10"/>
<rect x="830.07" y="1072.47" width="58.63" height="15.68" fill="#a80010"/>
<rect x="888.40" y="1072.47" width="58.63" height="15.68" fill="#105810"/>
<rect x="946.73" y="1072.47" width="58.63" height="15.68" fill="#104c10"/>
<rect x="1005.07" y="1072.47" width="58.63" height="15.68" fill="#106010"/>
<rect x="713.40" y="1087.85" width="58.63" height="15.68" fill="#105410"/>
<rect x="771.73" y="1087.85" width="58.63" height="15.68" fill="#147410"/>
<rect x="830.07" y="1087.85" width="58.63" height="15.68" fill="#b00010"/>
<rect x="888.40" y="1087.85" width="58.63" height="15.68" fill="#105010"/>
<rect x="946.73" y="1087.85" width="58.63" height="15.68" fill="#104410"/>
<rect x="1005.07" y="1087.85" width="58.63" height="15.68" fill="#101a10"/>
<rect x="713.40" y="1103.22" width="58.63" height="15.68" fill="#18a010"/>
<rect x="771.73" y="1103.22" width="58.63" height="15.68" fill="#680010"/>
<rect x="830.07" y="1103.22" width="58.63" height="15.68" fill="#d80010"/>
<rect x="888.40" y="1103.22" width="58.63" height="15.68" fill="#20d010"/>
<rect x="946.73" y="1103.22" width="58.63" height="15.68" fill="#188c10"/>
<rect x="1005.07" y="1103.22" width="58.63" height="15.68" fill="#c00010"/>
<path d="M713.4 150.50H1063.4M713.4 165.88H1063.4M713.4 181.25H1063.4M713.4 196.63H1063.4M713.4 212.00H1063.4M713.4 227.38H1063.4M713.4 242.76H1063.4M713.4 258.13H1063.4M713.4 273.51H1063.4M713.4 288.89H1063.4M713.4 304.26H1063.4M713.4 319.64H1063.4M713.4 335.01H1063.4M713.4 350.39H1063.4M713.4 365.77H1063.4M713.4 381.14H1063.4M713.4 396.52H1063.4M713.4 411.90H1063.4M713.4 427.27H1063.4M713.4 442.65H1063.4M713.4 458.02H1063.4M713.4 473.40H1063.4M713.4 488.78H1063.4M713.4 504.15H1063.4M713.4 519.53H1063.4M713.4 534.90H1063.4M713.4 550.28H1063.4M713.4 565.66H1063.4M713.4 581.03H1063.4M713.4 596.41H1063.4M713.4 611.79H1063.4M713.4 627.16H1063.4M713.4 642.54H1063.4M713.4 657.91H1063.4M713.4 673.29H1063.4M713.4 688.67H1063.4M713.4 704.04H1063.4M713.4 719.42H1063.4M713.4 734.80H1063.4M713.4 750.17H1063.4M713.4 765.55H1063.4M713.4 780.92H1063.4M713.4 796.30H1063.4M713.4 811.68H1063.4M713.4 827.05H1063.4M713.4 842.43H1063.4M713.4 857.80H1063.4M713.4 873.18H1063.4M713.4 888.56H1063.4M713.4 903.93H1063.4M713.4 919.31H1063.4M713.4 934.69H1063.4M713.4 950.06H1063.4M713.4 965.44H1063.4M713.4 980.81H1063.4M713.4 996.19H1063.4M713.4 1011.57H1063.4M713.4 1026.94H1063.4M713.4 1042.32H1063.4M713.4 1057.70H1063.4M713.4 1073.07H1063.4M713.4 1088.45H1063.4M713.4 1103.82H1063.4M714.70 149.9V1118.6M773.03 149.9V1118.6M831.37 149.9V1118.6M889.70 149.9V1118.6M948.03 149.9V1118.6M1006.37 149.9V1118.6" stroke="#fff" stroke-opacity="0.13" stroke-width="1" fill="none"/>
<path d="M771.73 149.9V1118.6M830.07 149.9V1118.6M888.40 149.9V1118.6M946.73 149.9V1118.6M1005.07 149.9V1118.6M713.4 164.78H1063.4M713.4 180.15H1063.4M713.4 195.53H1063.4M713.4 210.90H1063.4M713.4 226.28H1063.4M713.4 241.66H1063.4M713.4 257.03H1063.4M713.4 272.41H1063.4M713.4 287.79H1063.4M713.4 303.16H1063.4M713.4 318.54H1063.4M713.4 333.91H1063.4M713.4 349.29H1063.4M713.4 364.67H1063.4M713.4 380.04H1063.4M713.4 395.42H1063.4M713.4 410.80H1063.4M713.4 426.17H1063.4M713.4 441.55H1063.4M713.4 456.92H1063.4M713.4 472.30H1063.4M713.4 487.68H1063.4M713.4 503.05H1063.4M713.4 518.43H1063.4M713.4 533.80H1063.4M713.4 549.18H1063.4M713.4 564.56H1063.4M713.4 579.93H1063.4M713.4 595.31H1063.4M713.4 610.69H1063.4M713.4 626.06H1063.4M713.4 641.44H1063.4M713.4 656.81H1063.4M713.4 672.19H1063.4M713.4 687.57H1063.4M713.4 702.94H1063.4M713.4 718.32H1063.4M713.4 733.70H1063.4M713.4 749.07H1063.4M713.4 764.45H1063.4M713.4 779.82H1063.4M713.4 795.20H1063.4M713.4 810.58H1063.4M713.4 825.95H1063.4M713.4 841.33H1063.4M713.4 856.70H1063.4M713.4 872.08H1063.4M713.4 887.46H1063.4M713.4 902.83H1063.4M713.4 918.21H1063.4M713.4 933.59H1063.4M713.4 948.96H1063.4M713.4 964.34H1063.4M713.4 979.71H1063.4M713.4 995.09H1063.4M713.4 1010.47H1063.4M713.4 1025.84H1063.4M713.4 1041.22H1063.4M713.4 1056.60H1063.4M713.4 1071.97H1063.4M713.4 1087.35H1063.4M713.4 1102.72H1063.4" stroke="#000" stroke-opacity="0.22" stroke-width="1" fill="none"/>
<text transform="translate(738.0,101.4) rotate(90)" font-family="'Liberation Sans', Arial, sans-serif" font-size="16" fill="#1a1a1a">E1</text>
<text transform="translate(796.3,101.4) rotate(90)" font-family="'Liberation Sans', Arial, sans-serif" font-size="16" fill="#1a1a1a">E2</text>
<text transform="translate(854.6,101.4) rotate(90)" font-family="'Liberation Sans', Arial, sans-serif" font-size="16" fill="#1a1a1a">E3</text>
<text transform="translate(913.0,101.4) rotate(90)" font-family="'Liberation Sans', Arial, sans-serif" font-size="16" fill="#1a1a1a">G1</text>
<text transform="translate(971.3,101.4) rotate(90)" font-family="'Liberation Sans', Arial, sans-serif" font-size="16" fill="#1a1a1a">G2</text>
<text transform="translate(1029.6,101.4) rotate(90)" font-family="'Liberation Sans', Arial, sans-serif" font-size="16" fill="#1a1a1a">G3</text>
<text transform="translate(486,164.79) scale(1.15,1)" font-family="'Liberation Sans', Arial, sans-serif" font-size="15.2" fill="#262626" stroke="#262626" stroke-width="0.3">P53634|CATC_HUMAN</text>
<text transform="translate(486,180.16) scale(1.127,1)" font-family="'Liberation Sans', Arial, sans-serif" font-size="15.2" fill="#262626" stroke="#262626" stroke-width="0.3">tr|F8VS07|F8VS07_HUMAN</text>
<text transform="translate(486,195.54) scale(1.15,1)" font-family="'Liberation Sans', Arial, sans-serif" font-size="15.2" fill="#262626" stroke="#262626" stroke-width="0.3">Q8WUD4|CCD12_HUMAN</text>
<text transform="translate(486,210.92) scale(1.15,1)" font-family="'Liberation Sans', Arial, sans-serif" font-size="15.2" fill="#262626" stroke="#262626" stroke-width="0.3">P06727|APOA4_HUMAN</text>
<text transform="translate(486,226.29) scale(1.15,1)" font-family="'Liberation Sans', Arial, sans-serif" font-size="15.2" fill="#262626" stroke="#262626" stroke-width="0.3">P08133|ANXA6_HUMAN</text>
<text transform="translate(486,241.67) scale(1.15,1)" font-family="'Liberation Sans', Arial, sans-serif" font-size="15.2" fill="#262626" stroke="#262626" stroke-width="0.3">Q5TBC7|B2L15_HUMAN</text>
<text transform="translate(486,257.05) scale(1.15,1)" font-family="'Liberation Sans', Arial, sans-serif" font-size="15.2" fill="#262626" stroke="#262626" stroke-width="0.3">P22528|SPR1B_HUMAN</text>
<text transform="translate(486,272.42) scale(1.15,1)" font-family="'Liberation Sans', Arial, sans-serif" font-size="15.2" fill="#262626" stroke="#262626" stroke-width="0.3">O00170|AIP_HUMAN</text>
<text transform="translate(486,287.80) scale(1.15,1)" font-family="'Liberation Sans', Arial, sans-serif" font-size="15.2" fill="#262626" stroke="#262626" stroke-width="0.3">Q9UMX0|UBQL1_HUMAN</text>
<text transform="translate(486,303.17) scale(1.15,1)" font-family="'Liberation Sans', Arial, sans-serif" font-size="15.2" fill="#262626" stroke="#262626" stroke-width="0.3">Q3ZCW2|LEGL_HUMAN</text>
<text transform="translate(486,318.55) scale(1.15,1)" font-family="'Liberation Sans', Arial, sans-serif" font-size="15.2" fill="#262626" stroke="#262626" stroke-width="0.3">P05455|LA_HUMAN</text>
<text transform="translate(486,333.93) scale(1.15,1)" font-family="'Liberation Sans', Arial, sans-serif" font-size="15.2" fill="#262626" stroke="#262626" stroke-width="0.3">P22626|ROA2_HUMAN</text>
<text transform="translate(486,349.30) scale(1.15,1)" font-family="'Liberation Sans', Arial, sans-serif" font-size="15.2" fill="#262626" stroke="#262626" stroke-width="0.3">P49321|NASP_HUMAN</text>
<text transform="translate(486,364.68) scale(1.15,1)" font-family="'Liberation Sans', Arial, sans-serif" font-size="15.2" fill="#262626" stroke="#262626" stroke-width="0.3">P35052|GPC1_HUMAN</text>
<text transform="translate(486,380.05) scale(1.15,1)" font-family="'Liberation Sans', Arial, sans-serif" font-size="15.2" fill="#262626" stroke="#262626" stroke-width="0.3">P00403|COX2_HUMAN</text>
<text transform="translate(486,395.43) scale(1.127,1)" font-family="'Liberation Sans', Arial, sans-serif" font-size="15.2" fill="#262626" stroke="#262626" stroke-width="0.3">tr|A6NGH2|A6NGH2_HUMAN</text>
<text transform="translate(486,410.81) scale(1.15,1)" font-family="'Liberation Sans', Arial, sans-serif" font-size="15.2" fill="#262626" stroke="#262626" stroke-width="0.3">P10153|RNAS2_HUMAN</text>
<text transform="translate(486,426.18) scale(1.15,1)" font-family="'Liberation Sans', Arial, sans-serif" font-size="15.2" fill="#262626" stroke="#262626" stroke-width="0.3">Q9Y6U3|ADSV_HUMAN</text>
<text transform="translate(486,441.56) scale(1.15,1)" font-family="'Liberation Sans', Arial, sans-serif" font-size="15.2" fill="#262626" stroke="#262626" stroke-width="0.3">P16050|LOX15_HUMAN</text>
<text transform="translate(486,456.94) scale(1.15,1)" font-family="'Liberation Sans', Arial, sans-serif" font-size="15.2" fill="#262626" stroke="#262626" stroke-width="0.3">P11678|PERE_HUMAN</text>
<text transform="translate(486,472.31) scale(1.15,1)" font-family="'Liberation Sans', Arial, sans-serif" font-size="15.2" fill="#262626" stroke="#262626" stroke-width="0.3">Q9NP55|BPIA1_HUMAN</text>
<text transform="translate(486,487.69) scale(1.15,1)" font-family="'Liberation Sans', Arial, sans-serif" font-size="15.2" fill="#262626" stroke="#262626" stroke-width="0.3">Q05315|LEG10_HUMAN</text>
<text transform="translate(486,503.06) scale(1.15,1)" font-family="'Liberation Sans', Arial, sans-serif" font-size="15.2" fill="#262626" stroke="#262626" stroke-width="0.3">Q15063|POSTN_HUMAN</text>
<text transform="translate(486,518.44) scale(1.15,1)" font-family="'Liberation Sans', Arial, sans-serif" font-size="15.2" fill="#262626" stroke="#262626" stroke-width="0.3">P12724|ECP_HUMAN</text>
<text transform="translate(486,533.82) scale(1.15,1)" font-family="'Liberation Sans', Arial, sans-serif" font-size="15.2" fill="#262626" stroke="#262626" stroke-width="0.3">P28838|AMPL_HUMAN</text>
<text transform="translate(486,549.19) scale(1.15,1)" font-family="'Liberation Sans', Arial, sans-serif" font-size="15.2" fill="#262626" stroke="#262626" stroke-width="0.3">Q13177|PAK2_HUMAN</text>
<text transform="translate(486,564.57) scale(1.15,1)" font-family="'Liberation Sans', Arial, sans-serif" font-size="15.2" fill="#262626" stroke="#262626" stroke-width="0.3">P51884|LUM_HUMAN</text>
<text transform="translate(486,579.95) scale(1.15,1)" font-family="'Liberation Sans', Arial, sans-serif" font-size="15.2" fill="#262626" stroke="#262626" stroke-width="0.3">Q96QV6|H2A1A_HUMAN</text>
<text transform="translate(486,595.32) scale(1.127,1)" font-family="'Liberation Sans', Arial, sans-serif" font-size="15.2" fill="#262626" stroke="#262626" stroke-width="0.3">tr|F8W020|F8W020_HUMAN</text>
<text transform="translate(486,610.70) scale(1.127,1)" font-family="'Liberation Sans', Arial, sans-serif" font-size="15.2" fill="#262626" stroke="#262626" stroke-width="0.3">tr|G3V4C1|G3V4C1_HUMAN</text>
<text transform="translate(486,626.07) scale(1.15,1)" font-family="'Liberation Sans', Arial, sans-serif" font-size="15.2" fill="#262626" stroke="#262626" stroke-width="0.3">Q08752|PPID_HUMAN</text>
<text transform="translate(486,641.45) scale(1.127,1)" font-family="'Liberation Sans', Arial, sans-serif" font-size="15.2" fill="#262626" stroke="#262626" stroke-width="0.3">tr|Q5TA02|Q5TA02_HUMAN</text>
<text transform="translate(486,656.83) scale(1.15,1)" font-family="'Liberation Sans', Arial, sans-serif" font-size="15.2" fill="#262626" stroke="#262626" stroke-width="0.3">P02647|APOA1_HUMAN</text>
<text transform="translate(486,672.20) scale(1.15,1)" font-family="'Liberation Sans', Arial, sans-serif" font-size="15.2" fill="#262626" stroke="#262626" stroke-width="0.3">P13928|ANXA8_HUMAN</text>
<text transform="translate(486,687.58) scale(1.15,1)" font-family="'Liberation Sans', Arial, sans-serif" font-size="15.2" fill="#262626" stroke="#262626" stroke-width="0.3">P35321|SPR1A_HUMAN</text>
<text transform="translate(486,702.95) scale(1.15,1)" font-family="'Liberation Sans', Arial, sans-serif" font-size="15.2" fill="#262626" stroke="#262626" stroke-width="0.3">P43487|RANG_HUMAN</text>
<text transform="translate(486,718.33) scale(1.127,1)" font-family="'Liberation Sans', Arial, sans-serif" font-size="15.2" fill="#262626" stroke="#262626" stroke-width="0.3">tr|F8VQQ8|F8VQQ8_HUMAN</text>
<text transform="translate(486,733.71) scale(1.127,1)" font-family="'Liberation Sans', Arial, sans-serif" font-size="15.2" fill="#262626" stroke="#262626" stroke-width="0.3">tr|E9PHK0|E9PHK0_HUMAN</text>
<text transform="translate(486,749.08) scale(1.15,1)" font-family="'Liberation Sans', Arial, sans-serif" font-size="15.2" fill="#262626" stroke="#262626" stroke-width="0.3">P62937|PPIA_HUMAN</text>
<text transform="translate(486,764.46) scale(1.15,1)" font-family="'Liberation Sans', Arial, sans-serif" font-size="15.2" fill="#262626" stroke="#262626" stroke-width="0.3">P26583|HMGB2_HUMAN</text>
<text transform="translate(486,779.84) scale(1.15,1)" font-family="'Liberation Sans', Arial, sans-serif" font-size="15.2" fill="#262626" stroke="#262626" stroke-width="0.3">Q16527|CSRP2_HUMAN</text>
<text transform="translate(486,795.21) scale(1.15,1)" font-family="'Liberation Sans', Arial, sans-serif" font-size="15.2" fill="#262626" stroke="#262626" stroke-width="0.3">P07476|INVO_HUMAN</text>
<text transform="translate(486,810.59) scale(1.15,1)" font-family="'Liberation Sans', Arial, sans-serif" font-size="15.2" fill="#262626" stroke="#262626" stroke-width="0.3">P05023|AT1A1_HUMAN</text>
<text transform="translate(486,825.96) scale(1.15,1)" font-family="'Liberation Sans', Arial, sans-serif" font-size="15.2" fill="#262626" stroke="#262626" stroke-width="0.3">P07339|CATD_HUMAN</text>
<text transform="translate(486,841.34) scale(1.15,1)" font-family="'Liberation Sans', Arial, sans-serif" font-size="15.2" fill="#262626" stroke="#262626" stroke-width="0.3">P62714|PP2AB_HUMAN</text>
<text transform="translate(486,856.72) scale(1.15,1)" font-family="'Liberation Sans', Arial, sans-serif" font-size="15.2" fill="#262626" stroke="#262626" stroke-width="0.3">Q16698|DECR_HUMAN</text>
<text transform="translate(486,872.09) scale(1.15,1)" font-family="'Liberation Sans', Arial, sans-serif" font-size="15.2" fill="#262626" stroke="#262626" stroke-width="0.3">Q92876|KLK6_HUMAN</text>
<text transform="translate(486,887.47) scale(1.15,1)" font-family="'Liberation Sans', Arial, sans-serif" font-size="15.2" fill="#262626" stroke="#262626" stroke-width="0.3">Q15847|ADIRF_HUMAN</text>
<text transform="translate(486,902.85) scale(1.15,1)" font-family="'Liberation Sans', Arial, sans-serif" font-size="15.2" fill="#262626" stroke="#262626" stroke-width="0.3">Q9NS71|GKN1_HUMAN</text>
<text transform="translate(486,918.22) scale(1.15,1)" font-family="'Liberation Sans', Arial, sans-serif" font-size="15.2" fill="#262626" stroke="#262626" stroke-width="0.3">P49862|KLK7_HUMAN</text>
<text transform="translate(486,933.60) scale(1.15,1)" font-family="'Liberation Sans', Arial, sans-serif" font-size="15.2" fill="#262626" stroke="#262626" stroke-width="0.3">Q92597|NDRG1_HUMAN</text>
<text transform="translate(486,948.97) scale(1.15,1)" font-family="'Liberation Sans', Arial, sans-serif" font-size="15.2" fill="#262626" stroke="#262626" stroke-width="0.3">P04083|ANXA1_HUMAN</text>
<text transform="translate(486,964.35) scale(1.15,1)" font-family="'Liberation Sans', Arial, sans-serif" font-size="15.2" fill="#262626" stroke="#262626" stroke-width="0.3">P19957|ELAF_HUMAN</text>
<text transform="translate(486,979.73) scale(1.15,1)" font-family="'Liberation Sans', Arial, sans-serif" font-size="15.2" fill="#262626" stroke="#262626" stroke-width="0.3">P48594|SPB4_HUMAN</text>
<text transform="translate(486,995.10) scale(1.15,1)" font-family="'Liberation Sans', Arial, sans-serif" font-size="15.2" fill="#262626" stroke="#262626" stroke-width="0.3">P14625|ENPL_HUMAN</text>
<text transform="translate(486,1010.48) scale(1.15,1)" font-family="'Liberation Sans', Arial, sans-serif" font-size="15.2" fill="#262626" stroke="#262626" stroke-width="0.3">P68036|UB2L3_HUMAN</text>
<text transform="translate(486,1025.85) scale(1.15,1)" font-family="'Liberation Sans', Arial, sans-serif" font-size="15.2" fill="#262626" stroke="#262626" stroke-width="0.3">P13796|PLSL_HUMAN</text>
<text transform="translate(486,1041.23) scale(1.15,1)" font-family="'Liberation Sans', Arial, sans-serif" font-size="15.2" fill="#262626" stroke="#262626" stroke-width="0.3">Q8NC51|PAIRB_HUMAN</text>
<text transform="translate(486,1056.61) scale(1.15,1)" font-family="'Liberation Sans', Arial, sans-serif" font-size="15.2" fill="#262626" stroke="#262626" stroke-width="0.3">P27824|CALX_HUMAN</text>
<text transform="translate(486,1071.98) scale(1.15,1)" font-family="'Liberation Sans', Arial, sans-serif" font-size="15.2" fill="#262626" stroke="#262626" stroke-width="0.3">O95336|6PGL_HUMAN</text>
<text transform="translate(486,1087.36) scale(1.15,1)" font-family="'Liberation Sans', Arial, sans-serif" font-size="15.2" fill="#262626" stroke="#262626" stroke-width="0.3">Q8WU39|MZB1_HUMAN</text>
<text transform="translate(486,1102.74) scale(1.15,1)" font-family="'Liberation Sans', Arial, sans-serif" font-size="15.2" fill="#262626" stroke="#262626" stroke-width="0.3">P30405|PPIF_HUMAN</text>
<text transform="translate(486,1118.11) scale(1.15,1)" font-family="'Liberation Sans', Arial, sans-serif" font-size="15.2" fill="#262626" stroke="#262626" stroke-width="0.3">P19971|TYPH_HUMAN</text>
<path d="M478.0 172.7H394.4V188.1H478.0 M478.0 218.9H411.1V234.3H478.0 M478.0 203.5H402.7V226.6H411.1 M402.7 215.0H394.4V249.7H478.0 M394.4 180.4H386.1V232.4H394.4 M478.0 157.3H377.7V206.4H386.1 M478.0 265.1H377.7V280.5H478.0 M377.7 181.8H369.4V272.8H377.7 M369.4 227.3H361.1V295.9H478.0 M478.0 311.3H377.7V326.7H478.0 M478.0 342.1H386.1V357.5H478.0 M478.0 372.9H419.4V388.3H478.0 M478.0 403.7H444.4V419.0H478.0 M478.0 449.8H469.4V465.2H478.0 M469.4 457.5H461.0V480.6H478.0 M478.0 434.4H452.7V469.1H461.0 M452.7 451.8H444.4V496.0H478.0 M444.4 411.4H436.1V473.9H444.4 M436.1 442.6H427.7V511.4H478.0 M478.0 526.8H436.1V542.2H478.0 M436.1 534.5H427.7V557.6H478.0 M427.7 477.0H419.4V546.1H427.7 M419.4 380.6H411.1V511.6H419.4 M411.1 446.1H402.7V573.0H478.0 M402.7 509.5H394.4V588.4H478.0 M394.4 549.0H386.1V603.8H478.0 M386.1 349.8H377.7V576.4H386.1 M377.7 319.0H369.4V463.1H377.7 M478.0 619.2H419.4V634.6H478.0 M478.0 665.4H427.7V680.8H478.0 M478.0 650.0H419.4V673.1H427.7 M419.4 626.9H411.1V661.6H419.4 M478.0 696.2H411.1V711.6H478.0 M411.1 644.2H402.7V703.9H411.1 M402.7 674.1H394.4V727.0H478.0 M394.4 700.5H386.1V742.4H478.0 M478.0 804.0H419.4V819.4H478.0 M478.0 788.6H411.1V811.7H419.4 M478.0 773.2H402.7V800.1H411.1 M478.0 757.8H394.4V786.7H402.7 M478.0 881.0H452.7V896.4H478.0 M478.0 865.6H444.4V888.7H452.7 M444.4 877.1H436.1V911.8H478.0 M478.0 850.2H427.7V894.4H436.1 M427.7 872.3H419.4V927.2H478.0 M419.4 899.7H411.1V942.5H478.0 M478.0 834.8H402.7V921.1H411.1 M478.0 957.9H402.7V973.3H478.0 M402.7 878.0H394.4V965.6H402.7 M394.4 772.2H386.1V921.8H394.4 M386.1 721.5H377.7V847.0H386.1 M478.0 988.7H394.4V1004.1H478.0 M478.0 1019.5H394.4V1034.9H478.0 M394.4 996.4H386.1V1027.2H394.4 M478.0 1050.3H386.1V1065.7H478.0 M386.1 1011.8H377.7V1058.0H386.1 M377.7 784.2H369.4V1034.9H377.7 M369.4 391.0H361.1V909.6H369.4 M361.1 261.6H352.8V650.3H361.1 M478.0 1081.1H352.8V1096.5H478.0 M352.8 455.9H344.4V1088.8H352.8 M344.4 772.4H336.1V1111.9H478.0" fill="none" stroke="#1c1c1c" stroke-width="1.7"/>
<path d="M1150.1 135.4V604.4H1985.9" fill="none" stroke="#333" stroke-width="1.1"/>
<path d="M1144.1 604.4H1150.1M1146.1 599.7H1150.1M1146.1 595.0H1150.1M1146.1 590.4H1150.1M1146.1 585.7H1150.1M1144.1 581.0H1150.1M1146.1 576.3H1150.1M1146.1 571.6H1150.1M1146.1 567.0H1150.1M1146.1 562.3H1150.1M1144.1 557.6H1150.1M1146.1 552.9H1150.1M1146.1 548.2H1150.1M1146.1 543.6H1150.1M1146.1 538.9H1150.1M1144.1 534.2H1150.1M1146.1 529.5H1150.1M1146.1 524.8H1150.1M1146.1 520.2H1150.1M1146.1 515.5H1150.1M1144.1 510.8H1150.1M1146.1 506.1H1150.1M1146.1 501.4H1150.1M1146.1 496.8H1150.1M1146.1 492.1H1150.1M1144.1 487.4H1150.1M1146.1 482.7H1150.1M1146.1 478.0H1150.1M1146.1 473.4H1150.1M1146.1 468.7H1150.1M1144.1 464.0H1150.1M1146.1 459.3H1150.1M1146.1 454.6H1150.1M1146.1 450.0H1150.1M1146.1 445.3H1150.1M1144.1 440.6H1150.1M1146.1 435.9H1150.1M1146.1 431.2H1150.1M1146.1 426.6H1150.1M1146.1 421.9H1150.1M1144.1 417.2H1150.1M1146.1 412.5H1150.1M1146.1 407.8H1150.1M1146.1 403.2H1150.1M1146.1 398.5H1150.1M1144.1 393.8H1150.1M1146.1 389.1H1150.1M1146.1 384.4H1150.1M1146.1 379.8H1150.1M1146.1 375.1H1150.1M1144.1 370.4H1150.1M1146.1 365.7H1150.1M1146.1 361.0H1150.1M1146.1 356.4H1150.1M1146.1 351.7H1150.1M1144.1 347.0H1150.1M1146.1 342.3H1150.1M1146.1 337.6H1150.1M1146.1 333.0H1150.1M1146.1 328.3H1150.1M1144.1 323.6H1150.1M1146.1 318.9H1150.1M1146.1 314.2H1150.1M1146.1 309.6H1150.1M1146.1 304.9H1150.1M1144.1 300.2H1150.1M1146.1 295.5H1150.1M1146.1 290.8H1150.1M1146.1 286.2H1150.1M1146.1 281.5H1150.1M1144.1 276.8H1150.1M1146.1 272.1H1150.1M1146.1 267.4H1150.1M1146.1 262.8H1150.1M1146.1 258.1H1150.1M1144.1 253.4H1150.1M1146.1 248.7H1150.1M1146.1 244.0H1150.1M1146.1 239.4H1150.1M1146.1 234.7H1150.1M1144.1 230.0H1150.1M1146.1 225.3H1150.1M1146.1 220.6H1150.1M1146.1 216.0H1150.1M1146.1 211.3H1150.1M1144.1 206.6H1150.1M1146.1 201.9H1150.1M1146.1 197.2H1150.1M1146.1 192.6H1150.1M1146.1 187.9H1150.1M1144.1 183.2H1150.1M1146.1 178.5H1150.1M1146.1 173.8H1150.1M1146.1 169.2H1150.1M1146.1 164.5H1150.1M1144.1 159.8H1150.1M1146.1 155.1H1150.1M1146.1 150.4H1150.1M1146.1 145.8H1150.1M1146.1 141.1H1150.1M1144.1 136.4H1150.1M1150.1 604.4v6M1163.0 604.4v4M1175.8 604.4v4M1188.7 604.4v4M1201.5 604.4v4M1214.4 604.4v6M1227.2 604.4v4M1240.1 604.4v4M1253.0 604.4v4M1265.8 604.4v4M1278.7 604.4v6M1291.5 604.4v4M1304.4 604.4v4M1317.3 604.4v4M1330.1 604.4v4M1343.0 604.4v6M1355.8 604.4v4M1368.7 604.4v4M1381.5 604.4v4M1394.4 604.4v4M1407.3 604.4v6M1420.1 604.4v4M1433.0 604.4v4M1445.8 604.4v4M1458.7 604.4v4M1471.5 604.4v6M1484.4 604.4v4M1497.3 604.4v4M1510.1 604.4v4M1523.0 604.4v4M1535.8 604.4v6M1548.7 604.4v4M1561.6 604.4v4M1574.4 604.4v4M1587.3 604.4v4M1600.1 604.4v6M1613.0 604.4v4M1625.8 604.4v4M1638.7 604.4v4M1651.6 604.4v4M1664.4 604.4v6M1677.3 604.4v4M1690.1 604.4v4M1703.0 604.4v4M1715.9 604.4v4M1728.7 604.4v6M1741.6 604.4v4M1754.4 604.4v4M1767.3 604.4v4M1780.1 604.4v4M1793.0 604.4v6M1805.9 604.4v4M1818.7 604.4v4M1831.6 604.4v4M1844.4 604.4v4M1857.3 604.4v6M1870.1 604.4v4M1883.0 604.4v4M1895.9 604.4v4M1908.7 604.4v4M1921.6 604.4v6M1934.4 604.4v4M1947.3 604.4v4M1960.2 604.4v4M1973.0 604.4v4M1985.9 604.4v6" stroke="#444" stroke-width="1" fill="none"/>
<text transform="translate(1139.5,613.2) scale(0.93,1)" font-family="'Liberation Sans', Arial, sans-serif" font-size="12.3" text-anchor="end" fill="#333">0</text>
<text transform="translate(1139.5,589.8) scale(0.93,1)" font-family="'Liberation Sans', Arial, sans-serif" font-size="12.3" text-anchor="end" fill="#333">5</text>
<text transform="translate(1139.5,566.4) scale(0.93,1)" font-family="'Liberation Sans', Arial, sans-serif" font-size="12.3" text-anchor="end" fill="#333">10</text>
<text transform="translate(1139.5,543.0) scale(0.93,1)" font-family="'Liberation Sans', Arial, sans-serif" font-size="12.3" text-anchor="end" fill="#333">15</text>
<text transform="translate(1139.5,519.6) scale(0.93,1)" font-family="'Liberation Sans', Arial, sans-serif" font-size="12.3" text-anchor="end" fill="#333">20</text>
<text transform="translate(1139.5,496.2) scale(0.93,1)" font-family="'Liberation Sans', Arial, sans-serif" font-size="12.3" text-anchor="end" fill="#333">25</text>
<text transform="translate(1139.5,472.8) scale(0.93,1)" font-family="'Liberation Sans', Arial, sans-serif" font-size="12.3" text-anchor="end" fill="#333">30</text>
<text transform="translate(1139.5,449.4) scale(0.93,1)" font-family="'Liberation Sans', Arial, sans-serif" font-size="12.3" text-anchor="end" fill="#333">35</text>
<text transform="translate(1139.5,426.0) scale(0.93,1)" font-family="'Liberation Sans', Arial, sans-serif" font-size="12.3" text-anchor="end" fill="#333">40</text>
<text transform="translate(1139.5,402.6) scale(0.93,1)" font-family="'Liberation Sans', Arial, sans-serif" font-size="12.3" text-anchor="end" fill="#333">45</text>
<text transform="translate(1139.5,379.2) scale(0.93,1)" font-family="'Liberation Sans', Arial, sans-serif" font-size="12.3" text-anchor="end" fill="#333">50</text>
<text transform="translate(1139.5,355.8) scale(0.93,1)" font-family="'Liberation Sans', Arial, sans-serif" font-size="12.3" text-anchor="end" fill="#333">55</text>
<text transform="translate(1139.5,332.4) scale(0.93,1)" font-family="'Liberation Sans', Arial, sans-serif" font-size="12.3" text-anchor="end" fill="#333">60</text>
<text transform="translate(1139.5,309.0) scale(0.93,1)" font-family="'Liberation Sans', Arial, sans-serif" font-size="12.3" text-anchor="end" fill="#333">65</text>
<text transform="translate(1139.5,285.6) scale(0.93,1)" font-family="'Liberation Sans', Arial, sans-serif" font-size="12.3" text-anchor="end" fill="#333">70</text>
<text transform="translate(1139.5,262.2) scale(0.93,1)" font-family="'Liberation Sans', Arial, sans-serif" font-size="12.3" text-anchor="end" fill="#333">75</text>
<text transform="translate(1139.5,238.8) scale(0.93,1)" font-family="'Liberation Sans', Arial, sans-serif" font-size="12.3" text-anchor="end" fill="#333">80</text>
<text transform="translate(1139.5,215.4) scale(0.93,1)" font-family="'Liberation Sans', Arial, sans-serif" font-size="12.3" text-anchor="end" fill="#333">85</text>
<text transform="translate(1139.5,192.0) scale(0.93,1)" font-family="'Liberation Sans', Arial, sans-serif" font-size="12.3" text-anchor="end" fill="#333">90</text>
<text transform="translate(1139.5,168.6) scale(0.93,1)" font-family="'Liberation Sans', Arial, sans-serif" font-size="12.3" text-anchor="end" fill="#333">95</text>
<text transform="translate(1139.5,145.2) scale(0.93,1)" font-family="'Liberation Sans', Arial, sans-serif" font-size="12.3" text-anchor="end" fill="#333">100</text>
<text transform="translate(1148.6,623.9) scale(0.95,1)" font-family="'Liberation Sans', Arial, sans-serif" font-size="12.3" text-anchor="middle" fill="#333">20</text>
<text transform="translate(1212.9,623.9) scale(0.95,1)" font-family="'Liberation Sans', Arial, sans-serif" font-size="12.3" text-anchor="middle" fill="#333">30</text>
<text transform="translate(1277.2,623.9) scale(0.95,1)" font-family="'Liberation Sans', Arial, sans-serif" font-size="12.3" text-anchor="middle" fill="#333">40</text>
<text transform="translate(1341.5,623.9) scale(0.95,1)" font-family="'Liberation Sans', Arial, sans-serif" font-size="12.3" text-anchor="middle" fill="#333">50</text>
<text transform="translate(1405.8,623.9) scale(0.95,1)" font-family="'Liberation Sans', Arial, sans-serif" font-size="12.3" text-anchor="middle" fill="#333">60</text>
<text transform="translate(1470.0,623.9) scale(0.95,1)" font-family="'Liberation Sans', Arial, sans-serif" font-size="12.3" text-anchor="middle" fill="#333">70</text>
<text transform="translate(1534.3,623.9) scale(0.95,1)" font-family="'Liberation Sans', Arial, sans-serif" font-size="12.3" text-anchor="middle" fill="#333">80</text>
<text transform="translate(1598.6,623.9) scale(0.95,1)" font-family="'Liberation Sans', Arial, sans-serif" font-size="12.3" text-anchor="middle" fill="#333">90</text>
<text transform="translate(1662.9,623.9) scale(0.95,1)" font-family="'Liberation Sans', Arial, sans-serif" font-size="12.3" text-anchor="middle" fill="#333">100</text>
<text transform="translate(1727.2,623.9) scale(0.95,1)" font-family="'Liberation Sans', Arial, sans-serif" font-size="12.3" text-anchor="middle" fill="#333">110</text>
<text transform="translate(1791.5,623.9) scale(0.95,1)" font-family="'Liberation Sans', Arial, sans-serif" font-size="12.3" text-anchor="middle" fill="#333">120</text>
<text transform="translate(1855.8,623.9) scale(0.95,1)" font-family="'Liberation Sans', Arial, sans-serif" font-size="12.3" text-anchor="middle" fill="#333">130</text>
<text transform="translate(1920.1,623.9) scale(0.95,1)" font-family="'Liberation Sans', Arial, sans-serif" font-size="12.3" text-anchor="middle" fill="#333">140</text>
<text transform="translate(1984.4,623.9) scale(0.95,1)" font-family="'Liberation Sans', Arial, sans-serif" font-size="12.3" text-anchor="middle" fill="#333">150</text>
<text x="1563.5" y="636" font-family="'Liberation Sans', Arial, sans-serif" font-size="11.8" text-anchor="middle" fill="#333">Time (min)</text>
<text transform="translate(1127.5,424) rotate(-90)" font-family="'Liberation Sans', Arial, sans-serif" font-size="12" textLength="97" lengthAdjust="spacingAndGlyphs" fill="#333">Relative Abundance</text>
<polyline points="1150.1,603.0 1150.4,602.3 1150.7,602.9 1151.1,602.9 1151.4,602.7 1151.7,602.4 1152.0,603.0 1152.4,603.0 1152.7,603.0 1153.0,603.0 1153.3,603.0 1153.6,601.6 1154.0,603.0 1154.3,602.2 1154.6,603.0 1154.9,602.4 1155.2,602.7 1155.6,602.6 1155.9,602.2 1156.2,601.5 1156.5,602.4 1156.9,602.5 1157.2,603.0 1157.5,602.2 1157.8,602.7 1158.1,602.1 1158.5,602.6 1158.8,601.6 1159.1,603.0 1159.4,602.7 1159.7,602.0 1160.1,602.7 1160.4,603.0 1160.7,602.7 1161.0,603.0 1161.4,602.5 1161.7,601.2 1162.0,601.9 1162.3,603.0 1162.6,603.0 1163.0,602.8 1163.3,602.0 1163.6,603.0 1163.9,602.9 1164.2,602.0 1164.6,602.0 1164.9,602.7 1165.2,603.0 1165.5,603.0 1165.9,602.9 1166.2,603.0 1166.5,602.1 1166.8,602.9 1167.1,602.3 1167.5,601.5 1167.8,601.9 1168.1,603.0 1168.4,602.0 1168.7,601.9 1169.1,602.9 1169.4,603.0 1169.7,602.6 1170.0,603.0 1170.4,601.7 1170.7,603.0 1171.0,603.0 1171.3,602.7 1171.6,602.7 1172.0,602.4 1172.3,602.4 1172.6,602.6 1172.9,601.9 1173.2,603.0 1173.6,602.5 1173.9,602.9 1174.2,602.5 1174.5,602.4 1174.9,603.0 1175.2,602.9 1175.5,602.1 1175.8,602.3 1176.1,602.9 1176.5,601.4 1176.8,601.2 1177.1,603.0 1177.4,602.4 1177.7,601.1 1178.1,602.1 1178.4,602.4 1178.7,602.6 1179.0,602.8 1179.4,602.6 1179.7,602.8 1180.0,602.1 1180.3,602.8 1180.6,602.8 1181.0,603.0 1181.3,602.6 1181.6,603.0 1181.9,602.6 1182.2,601.9 1182.6,602.3 1182.9,602.2 1183.2,602.3 1183.5,602.5 1183.9,602.6 1184.2,594.4 1184.5,583.8 1184.8,567.4 1185.1,545.0 1185.5,519.1 1185.8,494.5 1186.1,477.6 1186.4,473.1 1186.7,482.4 1187.1,501.8 1187.4,524.4 1187.7,542.7 1188.0,551.4 1188.4,562.8 1188.7,544.2 1189.0,541.1 1189.3,545.2 1189.6,555.9 1190.0,568.3 1190.3,576.6 1190.6,575.2 1190.9,561.0 1191.2,539.8 1191.6,527.7 1191.9,535.8 1192.2,557.0 1192.5,574.4 1192.9,578.4 1193.2,570.4 1193.5,559.5 1193.8,556.7 1194.1,564.0 1194.5,572.3 1194.8,573.2 1195.1,570.6 1195.4,573.8 1195.7,582.2 1196.1,588.8 1196.4,589.9 1196.7,584.7 1197.0,571.7 1197.4,556.1 1197.7,550.5 1198.0,560.6 1198.3,576.5 1198.6,586.8 1199.0,590.0 1199.3,589.0 1199.6,585.5 1199.9,580.1 1200.2,573.8 1200.6,567.3 1200.9,559.7 1201.2,549.5 1201.5,540.5 1201.9,541.5 1202.2,555.5 1202.5,573.4 1202.8,585.6 1203.1,590.7 1203.5,592.1 1203.8,591.7 1204.1,588.8 1204.4,580.6 1204.7,565.2 1205.1,548.1 1205.4,540.9 1205.7,549.7 1206.0,566.6 1206.4,578.9 1206.7,579.7 1207.0,569.6 1207.3,555.4 1207.6,547.5 1208.0,551.0 1208.3,559.4 1208.6,562.3 1208.9,557.4 1209.2,551.2 1209.6,550.7 1209.9,557.5 1210.2,566.5 1210.5,570.6 1210.9,567.0 1211.2,560.1 1211.5,557.4 1211.8,561.0 1212.1,564.0 1212.5,557.9 1212.8,540.0 1213.1,513.6 1213.4,484.7 1213.7,460.3 1214.1,446.1 1214.4,446.3 1214.7,461.5 1215.0,487.4 1215.4,516.1 1215.7,539.7 1216.0,556.1 1216.3,568.8 1216.6,579.7 1217.0,586.7 1217.3,588.2 1217.6,585.6 1217.9,580.8 1218.2,576.1 1218.6,573.2 1218.9,573.3 1219.2,576.0 1219.5,579.5 1219.9,580.1 1220.2,572.2 1220.5,553.5 1220.8,532.3 1221.1,525.6 1221.5,540.0 1221.8,563.1 1222.1,578.8 1222.4,579.6 1222.7,564.9 1223.1,541.0 1223.4,524.6 1223.7,530.4 1224.0,553.1 1224.4,575.0 1224.7,586.2 1225.0,588.2 1225.3,583.6 1225.6,573.9 1226.0,561.4 1226.3,551.9 1226.6,551.4 1226.9,559.9 1227.2,570.8 1227.6,573.6 1227.9,560.7 1228.2,539.7 1228.5,532.5 1228.9,544.3 1229.2,554.1 1229.5,545.6 1229.8,520.2 1230.1,484.6 1230.5,443.6 1230.8,400.6 1231.1,359.4 1231.4,325.7 1231.7,305.7 1232.1,304.1 1232.4,321.5 1232.7,353.9 1233.0,394.1 1233.4,435.1 1233.7,471.7 1234.0,500.3 1234.3,518.5 1234.6,525.9 1235.0,522.9 1235.3,508.6 1235.6,483.2 1235.9,449.4 1236.2,413.6 1236.6,382.7 1236.9,362.4 1237.2,356.4 1237.5,365.8 1237.9,389.3 1238.2,422.2 1238.5,457.3 1238.8,487.8 1239.1,508.8 1239.5,520.2 1239.8,525.5 1240.1,528.1 1240.4,528.6 1240.7,527.0 1241.1,526.6 1241.4,532.2 1241.7,544.8 1242.0,559.7 1242.4,568.8 1242.7,566.1 1243.0,552.7 1243.3,539.1 1243.6,538.3 1244.0,552.2 1244.3,570.5 1244.6,583.0 1244.9,587.7 1245.2,586.7 1245.6,582.3 1245.9,576.4 1246.2,570.9 1246.5,568.2 1246.9,569.2 1247.2,572.4 1247.5,575.2 1247.8,575.4 1248.1,572.9 1248.5,569.8 1248.8,568.4 1249.1,570.3 1249.4,574.9 1249.7,580.4 1250.1,584.9 1250.4,586.4 1250.7,582.8 1251.0,572.1 1251.4,556.8 1251.7,545.6 1252.0,546.7 1252.3,558.1 1252.6,566.8 1253.0,560.6 1253.3,540.7 1253.6,525.6 1253.9,532.9 1254.2,556.3 1254.6,576.1 1254.9,581.1 1255.2,571.5 1255.5,555.9 1255.9,549.8 1256.2,559.6 1256.5,573.5 1256.8,577.7 1257.1,570.0 1257.5,556.1 1257.8,545.1 1258.1,544.2 1258.4,553.4 1258.8,564.4 1259.1,568.0 1259.4,561.7 1259.7,550.3 1260.0,538.7 1260.4,527.0 1260.7,512.9 1261.0,494.1 1261.3,468.2 1261.6,433.3 1262.0,390.6 1262.3,344.2 1262.6,300.0 1262.9,265.2 1263.3,246.8 1263.6,249.3 1263.9,272.4 1264.2,311.4 1264.5,359.4 1264.9,410.4 1265.2,459.5 1265.5,502.6 1265.8,536.7 1266.1,559.9 1266.5,571.7 1266.8,572.4 1267.1,564.4 1267.4,553.5 1267.8,546.4 1268.1,544.5 1268.4,543.8 1268.7,540.8 1269.0,537.5 1269.4,539.0 1269.7,547.1 1270.0,558.9 1270.3,569.0 1270.6,573.4 1271.0,571.1 1271.3,564.8 1271.6,559.2 1271.9,558.1 1272.3,561.3 1272.6,565.0 1272.9,566.0 1273.2,564.6 1273.5,564.5 1273.9,568.4 1274.2,575.6 1274.5,582.9 1274.8,588.0 1275.1,590.6 1275.5,591.5 1275.8,590.9 1276.1,586.4 1276.4,573.4 1276.8,552.8 1277.1,537.4 1277.4,534.7 1277.7,529.8 1278.0,508.3 1278.4,478.0 1278.7,448.5 1279.0,416.3 1279.3,379.7 1279.6,346.4 1280.0,325.1 1280.3,320.3 1280.6,332.4 1280.9,359.5 1281.3,398.4 1281.6,444.0 1281.9,488.7 1282.2,525.7 1282.5,551.3 1282.9,565.5 1283.2,569.6 1283.5,566.4 1283.8,560.3 1284.1,555.9 1284.5,555.2 1284.8,556.4 1285.1,556.3 1285.4,554.6 1285.8,554.4 1286.1,558.7 1286.4,566.1 1286.7,571.6 1287.0,570.1 1287.4,558.9 1287.7,538.7 1288.0,513.5 1288.3,489.4 1288.6,472.9 1289.0,468.7 1289.3,477.6 1289.6,496.0 1289.9,517.3 1290.3,535.4 1290.6,547.7 1290.9,556.1 1291.2,563.4 1291.5,570.9 1291.9,577.6 1292.2,581.2 1292.5,580.5 1292.8,576.2 1293.1,570.2 1293.5,563.2 1293.8,554.4 1294.1,545.1 1294.4,540.4 1294.8,544.7 1295.1,557.1 1295.4,571.2 1295.7,581.7 1296.0,586.4 1296.4,586.3 1296.7,582.8 1297.0,578.0 1297.3,574.3 1297.6,574.1 1298.0,577.4 1298.3,582.2 1298.6,585.2 1298.9,583.7 1299.3,577.4 1299.6,571.3 1299.9,571.9 1300.2,579.4 1300.5,587.8 1300.9,592.5 1301.2,592.8 1301.5,588.4 1301.8,577.8 1302.1,561.3 1302.5,543.4 1302.8,527.9 1303.1,515.2 1303.4,505.4 1303.8,501.4 1304.1,506.0 1304.4,518.8 1304.7,536.6 1305.0,555.3 1305.4,570.5 1305.7,578.8 1306.0,578.5 1306.3,570.5 1306.6,559.7 1307.0,551.8 1307.3,548.1 1307.6,544.5 1307.9,538.1 1308.3,533.6 1308.6,538.3 1308.9,552.3 1309.2,567.8 1309.5,577.0 1309.9,577.1 1310.2,569.5 1310.5,557.9 1310.8,547.4 1311.1,542.6 1311.5,545.5 1311.8,553.2 1312.1,559.8 1312.4,560.1 1312.8,554.3 1313.1,547.7 1313.4,547.1 1313.7,554.1 1314.0,563.8 1314.4,568.4 1314.7,563.9 1315.0,551.2 1315.3,533.5 1315.6,513.5 1316.0,493.7 1316.3,478.6 1316.6,473.4 1316.9,480.5 1317.3,498.2 1317.6,520.5 1317.9,540.6 1318.2,554.0 1318.5,560.5 1318.9,563.1 1319.2,564.7 1319.5,564.7 1319.8,561.7 1320.1,557.4 1320.5,556.7 1320.8,562.7 1321.1,572.8 1321.4,581.9 1321.8,587.0 1322.1,587.4 1322.4,582.5 1322.7,571.3 1323.0,554.9 1323.4,539.1 1323.7,531.9 1324.0,535.8 1324.3,545.4 1324.6,552.9 1325.0,555.4 1325.3,556.1 1325.6,558.8 1325.9,564.0 1326.3,569.0 1326.6,570.8 1326.9,568.5 1327.2,564.7 1327.5,563.0 1327.9,566.2 1328.2,573.2 1328.5,580.6 1328.8,584.0 1329.1,581.1 1329.5,572.6 1329.8,560.8 1330.1,547.4 1330.4,532.6 1330.8,517.2 1331.1,501.2 1331.4,481.4 1331.7,453.5 1332.0,415.9 1332.4,374.2 1332.7,337.6 1333.0,312.8 1333.3,304.0 1333.6,313.2 1334.0,339.2 1334.3,378.1 1334.6,423.5 1334.9,468.9 1335.3,507.8 1335.6,535.3 1335.9,549.8 1336.2,553.0 1336.5,548.9 1336.9,539.9 1337.2,524.9 1337.5,503.1 1337.8,478.2 1338.1,458.2 1338.5,450.0 1338.8,456.6 1339.1,476.3 1339.4,504.1 1339.8,532.9 1340.1,555.3 1340.4,566.4 1340.7,565.6 1341.0,558.6 1341.4,554.8 1341.7,559.4 1342.0,568.4 1342.3,573.5 1342.6,571.8 1343.0,568.0 1343.3,569.1 1343.6,575.9 1343.9,584.0 1344.3,589.3 1344.6,591.6 1344.9,591.6 1345.2,589.3 1345.5,582.9 1345.9,570.3 1346.2,550.5 1346.5,524.5 1346.8,494.9 1347.1,466.1 1347.5,444.3 1347.8,435.9 1348.1,444.0 1348.4,467.1 1348.8,499.4 1349.1,531.9 1349.4,557.6 1349.7,573.0 1350.0,577.4 1350.4,572.0 1350.7,561.7 1351.0,554.0 1351.3,552.8 1351.6,554.1 1352.0,552.6 1352.3,548.0 1352.6,544.6 1352.9,546.6 1353.3,554.4 1353.6,565.1 1353.9,575.1 1354.2,581.6 1354.5,582.5 1354.9,575.2 1355.2,558.9 1355.5,539.0 1355.8,527.3 1356.1,531.7 1356.5,547.4 1356.8,561.9 1357.1,568.0 1357.4,567.3 1357.8,563.8 1358.1,558.7 1358.4,549.9 1358.7,534.7 1359.0,513.0 1359.4,487.0 1359.7,461.4 1360.0,442.3 1360.3,435.9 1360.6,445.6 1361.0,469.2 1361.3,499.8 1361.6,529.3 1361.9,551.8 1362.3,565.5 1362.6,572.4 1362.9,576.1 1363.2,579.2 1363.5,582.2 1363.9,583.2 1364.2,579.4 1364.5,569.1 1364.8,552.8 1365.2,531.7 1365.5,506.6 1365.8,478.6 1366.1,452.0 1366.4,434.5 1366.8,432.2 1367.1,445.6 1367.4,469.8 1367.7,497.0 1368.0,518.7 1368.4,527.3 1368.7,518.5 1369.0,493.3 1369.3,454.5 1369.7,404.1 1370.0,343.2 1370.3,276.0 1370.6,211.7 1370.9,161.8 1371.3,136.4 1371.6,140.9 1371.9,174.9 1372.2,231.4 1372.5,298.9 1372.9,365.4 1373.2,423.5 1373.5,472.6 1373.8,514.2 1374.2,547.0 1374.5,569.2 1374.8,581.5 1375.1,587.1 1375.4,588.3 1375.8,584.6 1376.1,573.9 1376.4,557.8 1376.7,545.9 1377.0,547.1 1377.4,557.0 1377.7,563.9 1378.0,563.1 1378.3,559.5 1378.7,559.0 1379.0,562.8 1379.3,565.8 1379.6,558.9 1379.9,541.7 1380.3,531.5 1380.6,543.2 1380.9,566.3 1381.2,582.5 1381.5,587.9 1381.9,587.1 1382.2,582.4 1382.5,573.5 1382.8,560.8 1383.2,547.1 1383.5,537.4 1383.8,536.0 1384.1,543.4 1384.4,555.0 1384.8,562.7 1385.1,559.8 1385.4,551.1 1385.7,550.9 1386.0,563.8 1386.4,577.7 1386.7,581.6 1387.0,573.1 1387.3,556.1 1387.7,541.5 1388.0,541.1 1388.3,554.4 1388.6,568.0 1388.9,570.5 1389.3,561.9 1389.6,551.9 1389.9,551.0 1390.2,561.2 1390.5,575.4 1390.9,584.9 1391.2,585.9 1391.5,579.0 1391.8,568.1 1392.2,557.5 1392.5,547.8 1392.8,535.7 1393.1,520.9 1393.4,507.7 1393.8,501.4 1394.1,504.6 1394.4,516.0 1394.7,531.5 1395.0,544.9 1395.4,549.3 1395.7,539.6 1396.0,516.1 1396.3,483.2 1396.7,444.2 1397.0,399.5 1397.3,352.6 1397.6,311.4 1397.9,284.5 1398.3,277.7 1398.6,292.2 1398.9,323.8 1399.2,364.1 1399.5,405.0 1399.9,444.1 1400.2,483.1 1400.5,519.4 1400.8,545.0 1401.2,556.2 1401.5,559.5 1401.8,564.6 1402.1,573.8 1402.4,582.4 1402.8,586.1 1403.1,584.5 1403.4,579.6 1403.7,574.2 1404.0,571.3 1404.4,570.8 1404.7,569.0 1405.0,561.9 1405.3,549.9 1405.7,538.6 1406.0,534.8 1406.3,541.5 1406.6,555.4 1406.9,570.1 1407.3,580.7 1407.6,585.4 1407.9,583.8 1408.2,575.2 1408.5,560.6 1408.9,543.1 1409.2,524.5 1409.5,502.2 1409.8,474.9 1410.2,445.5 1410.5,418.7 1410.8,399.3 1411.1,391.0 1411.4,395.5 1411.8,411.8 1412.1,436.2 1412.4,463.7 1412.7,490.0 1413.0,513.0 1413.4,531.3 1413.7,543.6 1414.0,548.3 1414.3,546.7 1414.7,544.2 1415.0,546.5 1415.3,554.6 1415.6,563.8 1415.9,567.4 1416.3,562.3 1416.6,550.6 1416.9,538.7 1417.2,533.7 1417.5,538.8 1417.9,551.5 1418.2,566.2 1418.5,577.9 1418.8,585.0 1419.2,588.2 1419.5,588.3 1419.8,584.8 1420.1,576.3 1420.4,564.7 1420.8,557.0 1421.1,558.5 1421.4,565.5 1421.7,568.6 1422.0,563.7 1422.4,555.3 1422.7,551.5 1423.0,556.0 1423.3,565.2 1423.7,572.2 1424.0,573.1 1424.3,569.9 1424.6,568.1 1424.9,570.8 1425.3,577.1 1425.6,583.0 1425.9,584.7 1426.2,578.5 1426.5,562.9 1426.9,545.4 1427.2,541.3 1427.5,554.8 1427.8,573.3 1428.2,584.9 1428.5,588.9 1428.8,588.3 1429.1,583.9 1429.4,575.6 1429.8,566.5 1430.1,561.9 1430.4,562.3 1430.7,563.1 1431.0,561.6 1431.4,560.1 1431.7,561.7 1432.0,566.8 1432.3,573.7 1432.7,580.1 1433.0,584.1 1433.3,584.2 1433.6,580.8 1433.9,577.0 1434.3,577.1 1434.6,581.7 1434.9,586.8 1435.2,588.6 1435.5,585.9 1435.9,579.0 1436.2,568.4 1436.5,554.6 1436.8,537.2 1437.2,515.9 1437.5,493.3 1437.8,475.6 1438.1,468.7 1438.4,475.3 1438.8,493.6 1439.1,518.5 1439.4,543.6 1439.7,563.7 1440.0,575.5 1440.4,578.5 1440.7,575.7 1441.0,573.2 1441.3,575.8 1441.7,581.7 1442.0,586.8 1442.3,588.0 1442.6,583.1 1442.9,569.1 1443.3,548.0 1443.6,533.1 1443.9,537.7 1444.2,557.1 1444.5,575.1 1444.9,581.9 1445.2,577.0 1445.5,563.1 1445.8,545.1 1446.2,531.3 1446.5,527.5 1446.8,532.4 1447.1,540.6 1447.4,549.5 1447.8,559.4 1448.1,569.9 1448.4,578.7 1448.7,583.3 1449.0,582.0 1449.4,574.1 1449.7,559.1 1450.0,537.9 1450.3,513.3 1450.7,490.2 1451.0,474.0 1451.3,468.7 1451.6,474.7 1451.9,490.5 1452.3,513.1 1452.6,538.1 1452.9,560.4 1453.2,576.2 1453.5,584.4 1453.9,586.3 1454.2,583.0 1454.5,575.6 1454.8,565.0 1455.2,551.9 1455.5,535.8 1455.8,515.3 1456.1,490.3 1456.4,463.0 1456.8,438.1 1457.1,420.5 1457.4,413.5 1457.7,417.7 1458.0,432.1 1458.4,454.1 1458.7,480.2 1459.0,506.8 1459.3,531.2 1459.7,551.9 1460.0,567.4 1460.3,576.3 1460.6,575.9 1460.9,563.5 1461.3,541.5 1461.6,519.4 1461.9,501.8 1462.2,484.5 1462.5,468.0 1462.9,459.3 1463.2,464.1 1463.5,481.4 1463.8,504.4 1464.2,523.3 1464.5,533.2 1464.8,537.6 1465.1,539.9 1465.4,539.7 1465.8,539.5 1466.1,544.3 1466.4,554.7 1466.7,566.8 1467.0,576.1 1467.4,579.3 1467.7,574.3 1468.0,560.8 1468.3,542.0 1468.7,525.9 1469.0,521.3 1469.3,530.6 1469.6,547.9 1469.9,563.1 1470.3,569.0 1470.6,564.5 1470.9,553.7 1471.2,543.5 1471.6,539.9 1471.9,543.6 1472.2,550.6 1472.5,555.8 1472.8,557.9 1473.2,559.5 1473.5,562.7 1473.8,566.7 1474.1,567.7 1474.4,561.8 1474.8,547.2 1475.1,525.5 1475.4,502.2 1475.7,484.5 1476.1,478.0 1476.4,484.8 1476.7,501.9 1477.0,522.2 1477.3,539.0 1477.7,553.1 1478.0,567.9 1478.3,579.6 1478.6,582.1 1478.9,575.0 1479.3,562.4 1479.6,550.6 1479.9,545.9 1480.2,550.6 1480.6,561.0 1480.9,570.3 1481.2,573.3 1481.5,568.9 1481.8,559.5 1482.2,547.3 1482.5,533.2 1482.8,516.9 1483.1,499.4 1483.4,484.9 1483.8,478.0 1484.1,481.0 1484.4,492.7 1484.7,511.7 1485.1,535.7 1485.4,558.8 1485.7,575.3 1486.0,583.1 1486.3,582.9 1486.7,577.7 1487.0,573.9 1487.3,576.3 1487.6,582.6 1487.9,587.7 1488.3,590.0 1488.6,590.3 1488.9,589.2 1489.2,585.8 1489.6,579.2 1489.9,570.9 1490.2,565.4 1490.5,565.1 1490.8,567.3 1491.2,567.6 1491.5,565.2 1491.8,562.1 1492.1,558.6 1492.4,552.3 1492.8,540.1 1493.1,521.6 1493.4,500.6 1493.7,483.3 1494.1,475.2 1494.4,479.2 1494.7,493.7 1495.0,513.6 1495.3,532.0 1495.7,544.2 1496.0,550.2 1496.3,554.0 1496.6,559.5 1496.9,567.7 1497.3,576.5 1497.6,583.6 1497.9,587.8 1498.2,589.3 1498.6,586.8 1498.9,577.3 1499.2,562.1 1499.5,553.3 1499.8,557.9 1500.2,562.4 1500.5,553.4 1500.8,538.6 1501.1,535.5 1501.4,549.4 1501.8,568.9 1502.1,582.1 1502.4,585.9 1502.7,582.6 1503.1,573.5 1503.4,558.2 1503.7,535.5 1504.0,504.5 1504.3,464.2 1504.7,414.2 1505.0,357.3 1505.3,300.8 1505.6,255.7 1505.9,231.0 1506.3,230.9 1506.6,254.6 1506.9,296.9 1507.2,349.5 1507.6,403.6 1507.9,452.8 1508.2,493.9 1508.5,526.2 1508.8,550.4 1509.2,567.1 1509.5,576.8 1509.8,579.7 1510.1,576.8 1510.4,570.5 1510.8,564.7 1511.1,562.6 1511.4,565.0 1511.7,569.4 1512.1,572.4 1512.4,572.2 1512.7,570.2 1513.0,568.9 1513.3,570.1 1513.7,573.3 1514.0,576.0 1514.3,575.9 1514.6,572.9 1514.9,569.9 1515.3,570.0 1515.6,573.7 1515.9,578.3 1516.2,580.4 1516.6,579.1 1516.9,576.1 1517.2,574.6 1517.5,576.3 1517.8,580.5 1518.2,585.0 1518.5,588.1 1518.8,589.1 1519.1,585.8 1519.4,573.7 1519.8,550.6 1520.1,529.6 1520.4,528.9 1520.7,545.6 1521.1,559.8 1521.4,563.2 1521.7,562.2 1522.0,564.0 1522.3,570.1 1522.7,578.0 1523.0,584.7 1523.3,588.4 1523.6,587.5 1523.9,580.7 1524.3,567.4 1524.6,550.3 1524.9,532.8 1525.2,516.3 1525.6,501.2 1525.9,490.2 1526.2,487.4 1526.5,495.1 1526.8,511.9 1527.2,533.1 1527.5,552.1 1527.8,563.1 1528.1,562.5 1528.4,551.7 1528.8,536.2 1529.1,519.3 1529.4,500.3 1529.7,480.8 1530.1,466.8 1530.4,464.0 1530.7,473.0 1531.0,490.4 1531.3,511.7 1531.7,534.0 1532.0,554.9 1532.3,571.8 1532.6,582.3 1532.9,584.9 1533.3,578.3 1533.6,562.5 1533.9,542.2 1534.2,526.7 1534.6,521.2 1534.9,522.7 1535.2,526.1 1535.5,531.9 1535.8,542.7 1536.2,557.5 1536.5,571.9 1536.8,582.3 1537.1,588.1 1537.4,589.9 1537.8,587.0 1538.1,578.8 1538.4,570.4 1538.7,570.7 1539.1,577.1 1539.4,577.1 1539.7,564.8 1540.0,543.0 1540.3,518.3 1540.7,498.8 1541.0,492.1 1541.3,501.4 1541.6,523.1 1541.9,548.0 1542.3,567.1 1542.6,576.7 1542.9,578.9 1543.2,578.5 1543.6,579.4 1543.9,581.5 1544.2,582.4 1544.5,579.8 1544.8,574.4 1545.2,569.0 1545.5,564.5 1545.8,557.2 1546.1,542.1 1546.4,518.1 1546.8,489.2 1547.1,462.9 1547.4,447.0 1547.7,445.6 1548.1,458.5 1548.4,481.9 1548.7,509.8 1549.0,535.2 1549.3,553.9 1549.7,567.1 1550.0,576.3 1550.3,579.6 1550.6,573.8 1550.9,557.8 1551.3,532.5 1551.6,502.2 1551.9,473.2 1552.2,452.5 1552.6,445.3 1552.9,453.7 1553.2,474.3 1553.5,500.0 1553.8,524.9 1554.2,547.6 1554.5,566.7 1554.8,579.4 1555.1,583.7 1555.4,581.7 1555.8,577.9 1556.1,576.3 1556.4,578.4 1556.7,582.1 1557.1,584.0 1557.4,582.3 1557.7,577.2 1558.0,570.7 1558.3,565.9 1558.7,565.2 1559.0,569.2 1559.3,575.7 1559.6,582.1 1559.9,586.6 1560.3,588.6 1560.6,586.9 1560.9,578.9 1561.2,561.5 1561.6,539.0 1561.9,525.4 1562.2,531.4 1562.5,550.8 1562.8,567.2 1563.2,570.3 1563.5,561.9 1563.8,550.1 1564.1,543.7 1564.4,546.0 1564.8,552.6 1565.1,559.1 1565.4,566.4 1565.7,575.6 1566.1,584.0 1566.4,588.4 1566.7,588.8 1567.0,585.0 1567.3,575.3 1567.7,558.7 1568.0,539.7 1568.3,527.9 1568.6,531.1 1568.9,546.8 1569.3,564.3 1569.6,571.4 1569.9,561.3 1570.2,540.7 1570.6,531.4 1570.9,545.0 1571.2,566.3 1571.5,576.9 1571.8,574.8 1572.2,565.7 1572.5,555.6 1572.8,549.4 1573.1,550.4 1573.4,558.3 1573.8,569.4 1574.1,578.1 1574.4,579.2 1574.7,568.7 1575.1,548.3 1575.4,526.9 1575.7,507.5 1576.0,485.8 1576.3,464.0 1576.7,449.8 1577.0,447.2 1577.3,454.3 1577.6,465.8 1577.9,476.0 1578.3,482.0 1578.6,485.8 1578.9,491.7 1579.2,502.9 1579.6,519.1 1579.9,535.6 1580.2,547.3 1580.5,554.5 1580.8,562.9 1581.2,572.3 1581.5,576.8 1581.8,575.5 1582.1,573.2 1582.5,573.5 1582.8,576.8 1583.1,580.5 1583.4,581.2 1583.7,576.1 1584.1,565.7 1584.4,555.3 1584.7,551.8 1585.0,557.9 1585.3,568.6 1585.7,575.5 1586.0,571.4 1586.3,554.8 1586.6,533.8 1587.0,523.3 1587.3,531.7 1587.6,550.9 1587.9,566.6 1588.2,573.4 1588.6,576.0 1588.9,579.7 1589.2,584.9 1589.5,589.1 1589.8,589.7 1590.2,586.3 1590.5,581.9 1590.8,580.3 1591.1,579.9 1591.5,574.9 1591.8,563.1 1592.1,546.5 1592.4,529.4 1592.7,516.2 1593.1,510.8 1593.4,514.6 1593.7,526.4 1594.0,542.4 1594.3,557.8 1594.7,567.2 1595.0,566.4 1595.3,554.5 1595.6,535.7 1596.0,518.2 1596.3,510.8 1596.6,517.1 1596.9,534.2 1597.2,555.2 1597.6,572.4 1597.9,581.3 1598.2,581.3 1598.5,576.1 1598.8,571.2 1599.2,570.4 1599.5,572.5 1599.8,572.0 1600.1,564.5 1600.5,550.7 1600.8,536.6 1601.1,528.3 1601.4,525.9 1601.7,525.6 1602.1,525.9 1602.4,530.3 1602.7,541.0 1603.0,553.5 1603.3,559.8 1603.7,554.1 1604.0,534.9 1604.3,503.1 1604.6,460.4 1605.0,410.4 1605.3,359.1 1605.6,314.6 1605.9,284.6 1606.2,274.5 1606.6,286.0 1606.9,316.7 1607.2,359.5 1607.5,404.8 1607.8,445.9 1608.2,483.3 1608.5,518.6 1608.8,547.4 1609.1,563.7 1609.5,566.8 1609.8,561.0 1610.1,552.6 1610.4,547.6 1610.7,549.3 1611.1,556.3 1611.4,564.2 1611.7,569.7 1612.0,572.8 1612.3,575.3 1612.7,576.5 1613.0,573.3 1613.3,562.4 1613.6,542.9 1614.0,516.9 1614.3,489.8 1614.6,468.6 1614.9,459.3 1615.2,464.2 1615.6,481.2 1615.9,504.8 1616.2,528.2 1616.5,545.5 1616.8,551.3 1617.2,542.1 1617.5,518.3 1617.8,485.7 1618.1,453.2 1618.5,429.8 1618.8,421.9 1619.1,431.8 1619.4,457.0 1619.7,489.4 1620.1,517.6 1620.4,534.0 1620.7,542.5 1621.0,553.2 1621.3,564.4 1621.7,566.3 1622.0,554.7 1622.3,532.4 1622.6,503.6 1623.0,472.3 1623.3,442.4 1623.6,416.9 1623.9,398.4 1624.2,389.6 1624.6,392.7 1624.9,407.8 1625.2,431.7 1625.5,460.2 1625.8,490.1 1626.2,518.9 1626.5,543.2 1626.8,559.3 1627.1,566.7 1627.5,568.3 1627.8,567.9 1628.1,569.0 1628.4,572.8 1628.7,578.3 1629.1,583.7 1629.4,587.2 1629.7,586.4 1630.0,576.9 1630.3,556.6 1630.7,536.2 1631.0,530.9 1631.3,534.0 1631.6,526.0 1632.0,503.2 1632.3,474.8 1632.6,448.0 1632.9,425.3 1633.2,409.1 1633.6,403.2 1633.9,409.5 1634.2,426.6 1634.5,450.5 1634.8,476.1 1635.2,499.7 1635.5,520.0 1635.8,537.4 1636.1,552.1 1636.5,562.4 1636.8,567.5 1637.1,570.5 1637.4,575.6 1637.7,582.3 1638.1,586.8 1638.4,586.6 1638.7,581.4 1639.0,569.9 1639.3,550.7 1639.7,523.9 1640.0,491.4 1640.3,455.7 1640.6,418.3 1641.0,382.0 1641.3,352.6 1641.6,336.1 1641.9,336.3 1642.2,353.7 1642.6,385.0 1642.9,424.4 1643.2,464.6 1643.5,499.6 1643.8,525.6 1644.2,543.6 1644.5,557.4 1644.8,569.7 1645.1,579.9 1645.5,585.9 1645.8,587.1 1646.1,583.1 1646.4,573.2 1646.7,557.5 1647.1,539.4 1647.4,525.3 1647.7,521.3 1648.0,528.2 1648.3,541.1 1648.7,553.4 1649.0,562.0 1649.3,567.9 1649.6,573.0 1650.0,578.0 1650.3,581.3 1650.6,580.6 1650.9,574.7 1651.2,563.3 1651.6,547.3 1651.9,527.5 1652.2,504.2 1652.5,477.5 1652.8,448.6 1653.2,421.2 1653.5,400.4 1653.8,391.0 1654.1,395.1 1654.5,412.2 1654.8,439.1 1655.1,470.6 1655.4,501.0 1655.7,525.8 1656.1,543.4 1656.4,555.1 1656.7,562.8 1657.0,565.3 1657.3,560.7 1657.7,551.6 1658.0,545.7 1658.3,549.3 1658.6,561.2 1659.0,574.8 1659.3,584.4 1659.6,588.9 1659.9,588.7 1660.2,584.0 1660.6,576.8 1660.9,572.8 1661.2,575.6 1661.5,580.6 1661.8,580.0 1662.2,575.2 1662.5,574.9 1662.8,581.4 1663.1,588.1 1663.5,589.9 1663.8,587.1 1664.1,581.2 1664.4,572.7 1664.7,561.7 1665.1,548.8 1665.4,535.2 1665.7,523.7 1666.0,516.7 1666.3,515.5 1666.7,519.3 1667.0,527.1 1667.3,537.0 1667.6,546.8 1668.0,554.7 1668.3,560.4 1668.6,566.3 1668.9,573.9 1669.2,581.7 1669.6,585.2 1669.9,581.1 1670.2,570.5 1670.5,560.0 1670.8,557.3 1671.2,562.2 1671.5,569.2 1671.8,575.3 1672.1,580.9 1672.5,586.0 1672.8,589.1 1673.1,588.7 1673.4,582.6 1673.7,568.3 1674.1,548.9 1674.4,536.3 1674.7,540.4 1675.0,556.4 1675.3,570.3 1675.7,573.7 1676.0,568.4 1676.3,560.2 1676.6,554.6 1677.0,554.3 1677.3,557.9 1677.6,561.5 1677.9,562.2 1678.2,560.3 1678.6,558.5 1678.9,559.3 1679.2,561.9 1679.5,562.6 1679.8,557.1 1680.2,542.2 1680.5,516.6 1680.8,480.8 1681.1,438.5 1681.5,396.9 1681.8,364.4 1682.1,346.3 1682.4,344.6 1682.7,359.1 1683.1,386.7 1683.4,421.5 1683.7,456.2 1684.0,485.3 1684.3,509.8 1684.7,534.0 1685.0,556.8 1685.3,571.1 1685.6,572.9 1686.0,562.0 1686.3,541.4 1686.6,519.8 1686.9,510.8 1687.2,521.5 1687.6,544.8 1687.9,566.4 1688.2,576.2 1688.5,574.1 1688.9,566.3 1689.2,559.9 1689.5,559.4 1689.8,564.3 1690.1,570.9 1690.5,575.0 1690.8,575.0 1691.1,571.5 1691.4,563.9 1691.7,549.9 1692.1,527.9 1692.4,501.2 1692.7,476.8 1693.0,460.3 1693.4,455.6 1693.7,464.7 1694.0,485.6 1694.3,512.5 1694.6,537.7 1695.0,555.2 1695.3,562.7 1695.6,561.3 1695.9,553.1 1696.2,538.8 1696.6,520.1 1696.9,503.2 1697.2,496.8 1697.5,505.4 1697.9,525.6 1698.2,548.5 1698.5,567.0 1698.8,578.0 1699.1,582.1 1699.5,582.3 1699.8,583.6 1700.1,587.8 1700.4,590.5 1700.7,587.3 1701.1,576.3 1701.4,558.3 1701.7,536.6 1702.0,518.3 1702.4,510.8 1702.7,517.1 1703.0,534.1 1703.3,554.5 1703.6,571.6 1704.0,581.9 1704.3,585.6 1704.6,584.9 1704.9,582.9 1705.2,581.9 1705.6,582.8 1705.9,584.7 1706.2,584.4 1706.5,576.9 1706.9,560.8 1707.2,547.0 1707.5,547.9 1707.8,556.9 1708.1,558.4 1708.5,550.5 1708.8,541.0 1709.1,533.0 1709.4,522.1 1709.7,503.3 1710.1,477.0 1710.4,447.7 1710.7,421.6 1711.0,404.1 1711.4,398.5 1711.7,405.3 1712.0,423.1 1712.3,448.7 1712.6,478.0 1713.0,505.5 1713.3,526.0 1713.6,537.4 1713.9,541.7 1714.2,543.8 1714.6,548.1 1714.9,555.9 1715.2,565.0 1715.5,572.2 1715.9,575.0 1716.2,573.7 1716.5,570.6 1716.8,568.6 1717.1,569.4 1717.5,572.0 1717.8,573.6 1718.1,571.2 1718.4,564.3 1718.7,554.8 1719.1,545.6 1719.4,537.9 1719.7,530.1 1720.0,519.6 1720.4,505.1 1720.7,489.0 1721.0,476.4 1721.3,473.0 1721.6,481.8 1722.0,501.5 1722.3,525.8 1722.6,546.5 1722.9,558.4 1723.2,562.6 1723.6,564.8 1723.9,569.2 1724.2,574.5 1724.5,575.1 1724.9,567.4 1725.2,550.9 1725.5,528.4 1725.8,503.8 1726.1,481.5 1726.5,466.2 1726.8,461.7 1727.1,469.8 1727.4,488.3 1727.7,511.5 1728.1,532.7 1728.4,547.8 1728.7,555.6 1729.0,556.7 1729.4,553.9 1729.7,552.8 1730.0,557.8 1730.3,566.9 1730.6,572.1 1731.0,567.3 1731.3,553.6 1731.6,539.9 1731.9,536.6 1732.2,546.5 1732.6,563.2 1732.9,577.9 1733.2,586.5 1733.5,589.3 1733.9,587.4 1734.2,580.6 1734.5,569.0 1734.8,557.4 1735.1,552.7 1735.5,557.5 1735.8,565.1 1736.1,565.5 1736.4,557.6 1736.7,552.8 1737.1,560.2 1737.4,574.4 1737.7,585.1 1738.0,588.7 1738.4,587.5 1738.7,583.4 1739.0,577.2 1739.3,569.5 1739.6,560.6 1740.0,550.7 1740.3,540.6 1740.6,532.3 1740.9,528.6 1741.2,529.8 1741.6,533.0 1741.9,535.1 1742.2,536.0 1742.5,538.2 1742.9,541.6 1743.2,541.1 1743.5,533.4 1743.8,526.7 1744.1,533.5 1744.5,553.3 1744.8,572.5 1745.1,580.8 1745.4,578.1 1745.7,571.5 1746.1,569.1 1746.4,574.2 1746.7,582.9 1747.0,589.0 1747.4,590.0 1747.7,586.1 1748.0,577.6 1748.3,564.0 1748.6,545.5 1749.0,525.2 1749.3,509.8 1749.6,506.6 1749.9,517.7 1750.2,537.8 1750.6,557.5 1750.9,569.2 1751.2,572.9 1751.5,573.6 1751.9,573.2 1752.2,567.4 1752.5,556.0 1752.8,549.7 1753.1,557.3 1753.5,572.6 1753.8,584.1 1754.1,587.8 1754.4,586.0 1754.7,581.3 1755.1,576.0 1755.4,572.6 1755.7,572.3 1756.0,574.0 1756.4,572.9 1756.7,563.6 1757.0,546.4 1757.3,531.1 1757.6,528.8 1758.0,538.9 1758.3,550.0 1758.6,552.9 1758.9,547.7 1759.2,538.2 1759.6,526.0 1759.9,508.5 1760.2,486.6 1760.5,475.0 1760.9,488.1 1761.2,516.6 1761.5,540.9 1761.8,554.0 1762.1,558.3 1762.5,556.8 1762.8,553.3 1763.1,552.6 1763.4,557.1 1763.7,563.7 1764.1,567.1 1764.4,565.5 1764.7,561.7 1765.0,557.5 1765.4,549.8 1765.7,533.7 1766.0,507.9 1766.3,475.9 1766.6,443.3 1767.0,416.2 1767.3,399.0 1767.6,394.3 1767.9,402.7 1768.2,422.7 1768.6,450.1 1768.9,479.8 1769.2,507.3 1769.5,530.4 1769.9,548.9 1770.2,563.1 1770.5,573.2 1770.8,579.3 1771.1,582.5 1771.5,583.9 1771.8,583.1 1772.1,578.0 1772.4,566.2 1772.7,547.1 1773.1,524.4 1773.4,505.4 1773.7,497.7 1774.0,504.5 1774.4,523.2 1774.7,546.3 1775.0,566.0 1775.3,577.7 1775.6,581.6 1776.0,580.5 1776.3,578.2 1776.6,577.4 1776.9,578.8 1777.2,580.9 1777.6,581.1 1777.9,577.4 1778.2,570.0 1778.5,561.4 1778.9,554.6 1779.2,549.5 1779.5,543.7 1779.8,535.1 1780.1,526.0 1780.5,521.6 1780.8,525.8 1781.1,537.9 1781.4,553.4 1781.7,566.8 1782.1,574.3 1782.4,574.6 1782.7,568.1 1783.0,556.4 1783.4,542.9 1783.7,532.2 1784.0,528.3 1784.3,531.3 1784.6,537.0 1785.0,540.4 1785.3,539.4 1785.6,537.1 1785.9,538.3 1786.2,545.8 1786.6,556.4 1786.9,563.9 1787.2,564.3 1787.5,560.7 1787.9,560.9 1788.2,568.5 1788.5,579.3 1788.8,586.8 1789.1,588.1 1789.5,585.1 1789.8,582.2 1790.1,579.9 1790.4,573.5 1790.7,559.0 1791.1,537.2 1791.4,512.0 1791.7,488.9 1792.0,474.1 1792.4,471.5 1792.7,480.4 1793.0,497.3 1793.3,519.3 1793.6,542.6 1794.0,560.7 1794.3,570.1 1794.6,574.8 1794.9,580.0 1795.3,586.0 1795.6,590.3 1795.9,590.7 1796.2,586.2 1796.5,579.1 1796.9,576.0 1797.2,580.0 1797.5,585.2 1797.8,584.1 1798.1,573.7 1798.5,555.1 1798.8,535.7 1799.1,526.8 1799.4,534.4 1799.8,552.7 1800.1,569.9 1800.4,579.0 1800.7,580.5 1801.0,578.8 1801.4,577.9 1801.7,579.4 1802.0,583.0 1802.3,586.9 1802.6,590.0 1803.0,591.8 1803.3,592.3 1803.6,591.5 1803.9,587.9 1804.3,579.5 1804.6,564.4 1804.9,543.4 1805.2,520.1 1805.5,499.9 1805.9,489.0 1806.2,492.1 1806.5,508.7 1806.8,532.5 1807.1,555.6 1807.5,572.1 1807.8,578.6 1808.1,574.9 1808.4,566.9 1808.8,563.8 1809.1,566.6 1809.4,565.4 1809.7,554.1 1810.0,539.3 1810.4,532.4 1810.7,538.7 1811.0,552.1 1811.3,562.4 1811.6,567.7 1812.0,574.1 1812.3,583.0 1812.6,589.3 1812.9,589.7 1813.3,585.0 1813.6,579.0 1813.9,577.6 1814.2,580.6 1814.5,581.3 1814.9,574.3 1815.2,559.4 1815.5,539.6 1815.8,522.8 1816.1,518.3 1816.5,530.1 1816.8,551.7 1817.1,571.8 1817.4,583.3 1817.8,586.0 1818.1,583.1 1818.4,575.6 1818.7,562.2 1819.0,544.1 1819.4,526.3 1819.7,515.6 1820.0,516.2 1820.3,527.2 1820.6,542.7 1821.0,557.3 1821.3,569.1 1821.6,578.6 1821.9,584.3 1822.3,584.4 1822.6,582.0 1822.9,583.0 1823.2,587.7 1823.5,591.5 1823.9,591.9 1824.2,588.7 1824.5,582.3 1824.8,573.5 1825.1,564.9 1825.5,559.4 1825.8,558.0 1826.1,559.0 1826.4,560.8 1826.8,563.5 1827.1,568.5 1827.4,575.7 1827.7,583.1 1828.0,588.8 1828.4,592.1 1828.7,593.2 1829.0,592.6 1829.3,590.1 1829.6,586.0 1830.0,582.5 1830.3,582.1 1830.6,584.4 1830.9,586.3 1831.3,585.1 1831.6,580.8 1831.9,575.1 1832.2,570.4 1832.5,568.7 1832.9,570.5 1833.2,574.5 1833.5,577.9 1833.8,577.7 1834.1,573.0 1834.5,565.8 1834.8,559.7 1835.1,557.1 1835.4,556.2 1835.8,552.9 1836.1,543.8 1836.4,529.5 1836.7,517.3 1837.0,519.0 1837.4,537.1 1837.7,557.5 1838.0,564.0 1838.3,550.3 1838.6,524.4 1839.0,505.5 1839.3,505.7 1839.6,520.9 1839.9,541.1 1840.3,558.9 1840.6,571.2 1840.9,578.8 1841.2,584.0 1841.5,587.9 1841.9,589.9 1842.2,589.2 1842.5,585.1 1842.8,578.2 1843.1,570.1 1843.5,564.2 1843.8,563.1 1844.1,567.5 1844.4,575.2 1844.8,583.0 1845.1,588.0 1845.4,588.2 1845.7,582.2 1846.0,571.4 1846.4,560.7 1846.7,553.8 1847.0,548.9 1847.3,544.0 1847.6,541.9 1848.0,546.3 1848.3,556.9 1848.6,569.5 1848.9,579.1 1849.3,581.6 1849.6,575.4 1849.9,564.4 1850.2,558.4 1850.5,563.6 1850.9,576.0 1851.2,586.7 1851.5,591.2 1851.8,589.4 1852.1,582.2 1852.5,571.8 1852.8,563.4 1853.1,562.8 1853.4,570.3 1853.8,580.7 1854.1,588.2 1854.4,590.5 1854.7,588.3 1855.0,583.3 1855.4,578.0 1855.7,574.2 1856.0,570.2 1856.3,561.9 1856.6,547.8 1857.0,533.5 1857.3,528.0 1857.6,535.0 1857.9,549.5 1858.3,563.3 1858.6,572.0 1858.9,576.0 1859.2,578.2 1859.5,580.5 1859.9,583.3 1860.2,585.3 1860.5,584.9 1860.8,581.7 1861.1,577.1 1861.5,573.4 1861.8,572.8 1862.1,575.9 1862.4,581.2 1862.8,586.8 1863.1,591.1 1863.4,593.1 1863.7,591.7 1864.0,584.9 1864.4,571.5 1864.7,554.5 1865.0,541.3 1865.3,537.6 1865.6,543.0 1866.0,553.0 1866.3,562.9 1866.6,570.2 1866.9,574.8 1867.3,578.5 1867.6,582.4 1867.9,586.6 1868.2,589.7 1868.5,589.6 1868.9,584.2 1869.2,576.1 1869.5,573.0 1869.8,578.7 1870.1,587.5 1870.5,592.7 1870.8,593.6 1871.1,592.1 1871.4,589.8 1871.8,587.6 1872.1,586.3 1872.4,586.5 1872.7,588.0 1873.0,590.0 1873.4,590.2 1873.7,584.9 1874.0,571.2 1874.3,553.3 1874.6,539.9 1875.0,533.6 1875.3,533.5 1875.6,539.3 1875.9,549.0 1876.3,558.1 1876.6,565.3 1876.9,572.0 1877.2,578.3 1877.5,582.1 1877.9,581.7 1878.2,577.7 1878.5,572.3 1878.8,567.3 1879.1,563.2 1879.5,558.2 1879.8,548.6 1880.1,535.0 1880.4,526.3 1880.8,532.6 1881.1,551.0 1881.4,569.4 1881.7,581.2 1882.0,586.8 1882.4,587.9 1882.7,585.9 1883.0,582.8 1883.3,580.7 1883.6,579.2 1884.0,576.1 1884.3,570.6 1884.6,565.4 1884.9,564.9 1885.3,570.4 1885.6,579.3 1885.9,587.5 1886.2,592.6 1886.5,593.7 1886.9,590.8 1887.2,584.3 1887.5,575.9 1887.8,569.3 1888.1,568.3 1888.5,573.3 1888.8,581.1 1889.1,587.8 1889.4,591.1 1889.8,591.7 1890.1,591.2 1890.4,591.0 1890.7,591.7 1891.0,593.1 1891.4,594.3 1891.7,594.8 1892.0,594.6 1892.3,594.2 1892.6,594.0 1893.0,594.3 1893.3,594.5 1893.6,594.2 1893.9,593.0 1894.3,591.7 1894.6,591.4 1894.9,592.4 1895.2,593.3 1895.5,592.4 1895.9,588.3 1896.2,581.5 1896.5,573.7 1896.8,567.4 1897.1,563.9 1897.5,563.1 1897.8,565.1 1898.1,569.4 1898.4,575.3 1898.8,581.4 1899.1,586.7 1899.4,591.0 1899.7,593.5 1900.0,592.9 1900.4,588.9 1900.7,585.0 1901.0,586.0 1901.3,591.1 1901.7,595.7 1902.0,597.8 1902.3,598.3 1902.6,598.3 1902.9,598.1 1903.3,597.6 1903.6,596.0 1903.9,592.7 1904.2,589.1 1904.5,587.9 1904.9,588.3 1905.2,586.9 1905.5,581.9 1905.8,574.8 1906.2,568.5 1906.5,564.9 1906.8,563.6 1907.1,562.1 1907.4,558.9 1907.8,554.2 1908.1,550.5 1908.4,550.7 1908.7,555.5 1909.0,562.6 1909.4,569.3 1909.7,574.2 1910.0,576.6 1910.3,576.3 1910.7,575.5 1911.0,577.7 1911.3,583.5 1911.6,589.2 1911.9,591.7 1912.3,590.8 1912.6,587.7 1912.9,584.1 1913.2,581.5 1913.5,581.0 1913.9,582.4 1914.2,584.3 1914.5,585.4 1914.8,585.4 1915.2,585.6 1915.5,587.5 1915.8,590.9 1916.1,594.4 1916.4,596.8 1916.8,597.5 1917.1,596.5 1917.4,593.1 1917.7,587.6 1918.0,583.0 1918.4,582.5 1918.7,586.7 1919.0,592.1 1919.3,595.4 1919.7,595.1 1920.0,591.5 1920.3,586.2 1920.6,582.7 1920.9,583.0 1921.3,585.2 1921.6,585.7 1921.9,584.0 1922.2,583.0 1922.5,584.8 1922.9,587.6 1923.2,588.9 1923.5,588.0 1923.8,586.5 1924.2,586.0 1924.5,587.2 1924.8,589.7 1925.1,592.3 1925.4,593.7 1925.8,592.5 1926.1,587.8 1926.4,579.4 1926.7,569.1 1927.0,560.3 1927.4,556.8 1927.7,560.3 1928.0,569.1 1928.3,579.4 1928.7,587.6 1929.0,591.8 1929.3,591.7 1929.6,589.1 1929.9,586.5 1930.3,585.4 1930.6,585.2 1930.9,585.3 1931.2,586.1 1931.5,586.4 1931.9,582.2 1932.2,571.9 1932.5,557.8 1932.8,545.2 1933.2,539.2 1933.5,542.1 1933.8,552.2 1934.1,565.2 1934.4,577.3 1934.8,586.5 1935.1,592.5 1935.4,595.4 1935.7,596.2 1936.0,595.5 1936.4,594.5 1936.7,593.8 1937.0,593.8 1937.3,594.1 1937.7,593.8 1938.0,592.0 1938.3,588.6 1938.6,584.0 1938.9,579.4 1939.3,575.7 1939.6,573.5 1939.9,573.5 1940.2,575.8 1940.5,580.0 1940.9,585.1 1941.2,589.7 1941.5,592.6 1941.8,593.9 1942.2,594.1 1942.5,594.2 1942.8,594.7 1943.1,595.8 1943.4,597.1 1943.8,598.2 1944.1,598.9 1944.4,599.1 1944.7,598.7 1945.0,597.7 1945.4,596.1 1945.7,593.8 1946.0,590.9 1946.3,587.4 1946.7,583.9 1947.0,580.9 1947.3,579.1 1947.6,578.0 1947.9,576.6 1948.3,573.7 1948.6,568.5 1948.9,560.8 1949.2,551.2 1949.5,541.0 1949.9,530.9 1950.2,520.6 1950.5,509.2 1950.8,496.5 1951.2,482.9 1951.5,468.8 1951.8,454.6 1952.1,440.8 1952.4,428.3 1952.8,417.8 1953.1,409.4 1953.4,403.0 1953.7,398.5 1954.0,396.2 1954.4,396.1 1954.7,398.8 1955.0,404.1 1955.3,411.8 1955.7,421.3 1956.0,432.1 1956.3,443.9 1956.6,456.3 1956.9,469.1 1957.3,482.1 1957.6,495.4 1957.9,508.7 1958.2,521.4 1958.5,533.1 1958.9,543.8 1959.2,553.9 1959.5,563.3 1959.8,571.2 1960.2,577.5 1960.5,582.6 1960.8,586.7 1961.1,589.9 1961.4,591.8 1961.8,592.4 1962.1,591.9 1962.4,591.8 1962.7,592.6 1963.0,593.4 1963.4,593.2 1963.7,592.1 1964.0,590.0 1964.3,586.4 1964.7,580.5 1965.0,572.5 1965.3,563.9 1965.6,556.4 1965.9,551.9 1966.3,551.3 1966.6,555.1 1966.9,562.5 1967.2,571.5 1967.5,579.8 1967.9,585.9 1968.2,590.3 1968.5,593.6 1968.8,596.1 1969.2,597.8 1969.5,598.5 1969.8,598.0 1970.1,596.2 1970.4,593.6 1970.8,591.2 1971.1,590.1 1971.4,590.2 1971.7,590.2 1972.0,589.5 1972.4,588.7 1972.7,588.6 1973.0,589.7 1973.3,591.4 1973.7,592.4 1974.0,592.0 1974.3,589.6 1974.6,585.8 1974.9,581.5 1975.3,577.9 1975.6,575.9 1975.9,575.4 1976.2,575.7 1976.5,576.3 1976.9,576.9 1977.2,577.9 1977.5,579.9 1977.8,583.0 1978.2,586.9 1978.5,590.9 1978.8,594.1 1979.1,595.9 1979.4,596.0 1979.8,594.4 1980.1,591.9 1980.4,589.9 1980.7,589.4 1981.0,590.1 1981.4,590.1 1981.7,588.2 1982.0,585.0 1982.3,582.8 1982.7,583.3 1983.0,586.2 1983.3,589.4 1983.6,590.1 1983.9,587.2 1984.3,581.0 1984.6,572.1 1984.9,561.2 1985.2,551.5 1985.5,547.7 1985.9,552.1" fill="none" stroke="#2e2e2e" stroke-width="1.15"/>
<text transform="translate(1184.0,473.7) scale(0.96,1)" font-family="'Liberation Sans', Arial, sans-serif" font-size="12.3" text-anchor="middle" fill="#2a2a2a">25.64</text>
<text transform="translate(1212.6,445.8) scale(0.96,1)" font-family="'Liberation Sans', Arial, sans-serif" font-size="12.3" text-anchor="middle" fill="#2a2a2a">29.98</text>
<text transform="translate(1229.5,304.6) scale(0.96,1)" font-family="'Liberation Sans', Arial, sans-serif" font-size="12.3" text-anchor="middle" fill="#2a2a2a">32.73</text>
<text transform="translate(1261.2,246.3) scale(0.96,1)" font-family="'Liberation Sans', Arial, sans-serif" font-size="12.3" text-anchor="middle" fill="#2a2a2a">37.62</text>
<text transform="translate(1278.1,320.1) scale(0.96,1)" font-family="'Liberation Sans', Arial, sans-serif" font-size="12.3" text-anchor="middle" fill="#2a2a2a">40.23</text>
<text transform="translate(1296.4,470.1) scale(0.96,1)" font-family="'Liberation Sans', Arial, sans-serif" font-size="12.3" text-anchor="middle" fill="#2a2a2a">41.59</text>
<text transform="translate(1331.0,303.9) scale(0.96,1)" font-family="'Liberation Sans', Arial, sans-serif" font-size="12.3" text-anchor="middle" fill="#2a2a2a">48.50</text>
<text transform="translate(1351.2,434.4) scale(0.96,1)" font-family="'Liberation Sans', Arial, sans-serif" font-size="12.3" text-anchor="middle" fill="#2a2a2a">53.71</text>
<text transform="translate(1368.6,138.7) scale(0.96,1)" font-family="'Liberation Sans', Arial, sans-serif" font-size="12.3" text-anchor="middle" fill="#2a2a2a">54.42</text>
<text transform="translate(1396.0,279.0) scale(0.96,1)" font-family="'Liberation Sans', Arial, sans-serif" font-size="12.3" text-anchor="middle" fill="#2a2a2a">58.59</text>
<text transform="translate(1413.7,391.0) scale(0.96,1)" font-family="'Liberation Sans', Arial, sans-serif" font-size="12.3" text-anchor="middle" fill="#2a2a2a">60.61</text>
<text transform="translate(1437.1,470.4) scale(0.96,1)" font-family="'Liberation Sans', Arial, sans-serif" font-size="12.3" text-anchor="middle" fill="#2a2a2a">66.84</text>
<text transform="translate(1455.6,413.3) scale(0.96,1)" font-family="'Liberation Sans', Arial, sans-serif" font-size="12.3" text-anchor="middle" fill="#2a2a2a">67.80</text>
<text transform="translate(1473.2,459.2) scale(0.96,1)" font-family="'Liberation Sans', Arial, sans-serif" font-size="12.3" text-anchor="middle" fill="#2a2a2a">68.66</text>
<text transform="translate(1484.3,475.2) scale(0.96,1)" font-family="'Liberation Sans', Arial, sans-serif" font-size="12.3" text-anchor="middle" fill="#2a2a2a">73.51</text>
<text transform="translate(1504.5,232.3) scale(0.96,1)" font-family="'Liberation Sans', Arial, sans-serif" font-size="12.3" text-anchor="middle" fill="#2a2a2a">75.38</text>
<text transform="translate(1528.6,463.8) scale(0.96,1)" font-family="'Liberation Sans', Arial, sans-serif" font-size="12.3" text-anchor="middle" fill="#2a2a2a">79.13</text>
<text transform="translate(1542.8,445.4) scale(0.96,1)" font-family="'Liberation Sans', Arial, sans-serif" font-size="12.3" text-anchor="middle" fill="#2a2a2a">81.82</text>
<text transform="translate(1575.1,444.8) scale(0.96,1)" font-family="'Liberation Sans', Arial, sans-serif" font-size="12.3" text-anchor="middle" fill="#2a2a2a">86.36</text>
<text transform="translate(1604.8,275.7) scale(0.96,1)" font-family="'Liberation Sans', Arial, sans-serif" font-size="12.3" text-anchor="middle" fill="#2a2a2a">90.95</text>
<text transform="translate(1622.2,389.6) scale(0.96,1)" font-family="'Liberation Sans', Arial, sans-serif" font-size="12.3" text-anchor="middle" fill="#2a2a2a">93.77</text>
<text transform="translate(1639.8,337.7) scale(0.96,1)" font-family="'Liberation Sans', Arial, sans-serif" font-size="12.3" text-anchor="middle" fill="#2a2a2a">96.48</text>
<text transform="translate(1657.3,391.0) scale(0.96,1)" font-family="'Liberation Sans', Arial, sans-serif" font-size="12.3" text-anchor="middle" fill="#2a2a2a">98.36</text>
<text transform="translate(1680.9,345.7) scale(0.96,1)" font-family="'Liberation Sans', Arial, sans-serif" font-size="12.3" text-anchor="middle" fill="#2a2a2a">102.79</text>
<text transform="translate(1710.1,398.6) scale(0.96,1)" font-family="'Liberation Sans', Arial, sans-serif" font-size="12.3" text-anchor="middle" fill="#2a2a2a">107.29</text>
<text transform="translate(1730.5,461.8) scale(0.96,1)" font-family="'Liberation Sans', Arial, sans-serif" font-size="12.3" text-anchor="middle" fill="#2a2a2a">109.70</text>
<text transform="translate(1745.6,508.3) scale(0.96,1)" font-family="'Liberation Sans', Arial, sans-serif" font-size="12.3" text-anchor="middle" fill="#2a2a2a">113.24</text>
<text transform="translate(1766.2,395.0) scale(0.96,1)" font-family="'Liberation Sans', Arial, sans-serif" font-size="12.3" text-anchor="middle" fill="#2a2a2a">116.05</text>
<text transform="translate(1790.7,471.8) scale(0.96,1)" font-family="'Liberation Sans', Arial, sans-serif" font-size="12.3" text-anchor="middle" fill="#2a2a2a">119.88</text>
<text transform="translate(1818.3,517.3) scale(0.96,1)" font-family="'Liberation Sans', Arial, sans-serif" font-size="12.3" text-anchor="middle" fill="#2a2a2a">124.17</text>
<text transform="translate(1838.4,540.6) scale(0.96,1)" font-family="'Liberation Sans', Arial, sans-serif" font-size="12.3" text-anchor="middle" fill="#2a2a2a">127.21</text>
<text transform="translate(1876.1,542.6) scale(0.96,1)" font-family="'Liberation Sans', Arial, sans-serif" font-size="12.3" text-anchor="middle" fill="#2a2a2a">129.99</text>
<text transform="translate(1912.6,565.1) scale(0.96,1)" font-family="'Liberation Sans', Arial, sans-serif" font-size="12.3" text-anchor="middle" fill="#2a2a2a">141.46</text>
<text transform="translate(1927.2,548.0) scale(0.96,1)" font-family="'Liberation Sans', Arial, sans-serif" font-size="12.3" text-anchor="middle" fill="#2a2a2a">141.80</text>
<text transform="translate(1952.7,394.6) scale(0.96,1)" font-family="'Liberation Sans', Arial, sans-serif" font-size="12.3" text-anchor="middle" fill="#2a2a2a">145.07</text>
<path d="M1289.1 466.4L1299.1 465.4M1352.5 430.1L1366.8 431.5M1412.2 387.0L1416.5 387.0M1439.4 465.4L1450.8 466.4M1459.4 454.9L1473.7 454.4M1878.0 538.5L1890.0 538.0M1912.0 560.5L1928.0 561.0M1925.0 543.0L1933.0 543.0" stroke="#7fa87f" stroke-width="1" fill="none"/>
<path d="M1146.7 662.4V1082.9H1967.9" fill="none" stroke="#333" stroke-width="1.1"/>
<path d="M1140.7 1082.9H1146.7M1142.7 1078.7H1146.7M1142.7 1074.5H1146.7M1142.7 1070.3H1146.7M1142.7 1066.1H1146.7M1140.7 1061.9H1146.7M1142.7 1057.7H1146.7M1142.7 1053.5H1146.7M1142.7 1049.3H1146.7M1142.7 1045.1H1146.7M1140.7 1041.0H1146.7M1142.7 1036.8H1146.7M1142.7 1032.6H1146.7M1142.7 1028.4H1146.7M1142.7 1024.2H1146.7M1140.7 1020.0H1146.7M1142.7 1015.8H1146.7M1142.7 1011.6H1146.7M1142.7 1007.4H1146.7M1142.7 1003.2H1146.7M1140.7 999.0H1146.7M1142.7 994.8H1146.7M1142.7 990.6H1146.7M1142.7 986.4H1146.7M1142.7 982.2H1146.7M1140.7 978.0H1146.7M1142.7 973.8H1146.7M1142.7 969.6H1146.7M1142.7 965.4H1146.7M1142.7 961.2H1146.7M1140.7 957.1H1146.7M1142.7 952.9H1146.7M1142.7 948.7H1146.7M1142.7 944.5H1146.7M1142.7 940.3H1146.7M1140.7 936.1H1146.7M1142.7 931.9H1146.7M1142.7 927.7H1146.7M1142.7 923.5H1146.7M1142.7 919.3H1146.7M1140.7 915.1H1146.7M1142.7 910.9H1146.7M1142.7 906.7H1146.7M1142.7 902.5H1146.7M1142.7 898.3H1146.7M1140.7 894.1H1146.7M1142.7 889.9H1146.7M1142.7 885.7H1146.7M1142.7 881.5H1146.7M1142.7 877.3H1146.7M1140.7 873.2H1146.7M1142.7 869.0H1146.7M1142.7 864.8H1146.7M1142.7 860.6H1146.7M1142.7 856.4H1146.7M1140.7 852.2H1146.7M1142.7 848.0H1146.7M1142.7 843.8H1146.7M1142.7 839.6H1146.7M1142.7 835.4H1146.7M1140.7 831.2H1146.7M1142.7 827.0H1146.7M1142.7 822.8H1146.7M1142.7 818.6H1146.7M1142.7 814.4H1146.7M1140.7 810.2H1146.7M1142.7 806.0H1146.7M1142.7 801.8H1146.7M1142.7 797.6H1146.7M1142.7 793.4H1146.7M1140.7 789.2H1146.7M1142.7 785.1H1146.7M1142.7 780.9H1146.7M1142.7 776.7H1146.7M1142.7 772.5H1146.7M1140.7 768.3H1146.7M1142.7 764.1H1146.7M1142.7 759.9H1146.7M1142.7 755.7H1146.7M1142.7 751.5H1146.7M1140.7 747.3H1146.7M1142.7 743.1H1146.7M1142.7 738.9H1146.7M1142.7 734.7H1146.7M1142.7 730.5H1146.7M1140.7 726.3H1146.7M1142.7 722.1H1146.7M1142.7 717.9H1146.7M1142.7 713.7H1146.7M1142.7 709.5H1146.7M1140.7 705.4H1146.7M1142.7 701.2H1146.7M1142.7 697.0H1146.7M1142.7 692.8H1146.7M1142.7 688.6H1146.7M1140.7 684.4H1146.7M1142.7 680.2H1146.7M1142.7 676.0H1146.7M1142.7 671.8H1146.7M1142.7 667.6H1146.7M1140.7 663.4H1146.7M1197.3 1082.9v5.5M1255.9 1082.9v5.5M1314.5 1082.9v5.5M1373.1 1082.9v5.5M1431.7 1082.9v5.5M1490.3 1082.9v5.5M1548.9 1082.9v5.5M1607.5 1082.9v5.5M1666.1 1082.9v5.5M1724.7 1082.9v5.5M1783.3 1082.9v5.5M1841.9 1082.9v5.5M1900.5 1082.9v5.5M1959.1 1082.9v5.5" stroke="#444" stroke-width="1" fill="none"/>
<text transform="translate(1138.4,1091.7) scale(0.93,1)" font-family="'Liberation Sans', Arial, sans-serif" font-size="12.3" text-anchor="end" fill="#333">0</text>
<text transform="translate(1138.4,1070.7) scale(0.93,1)" font-family="'Liberation Sans', Arial, sans-serif" font-size="12.3" text-anchor="end" fill="#333">5</text>
<text transform="translate(1138.4,1049.8) scale(0.93,1)" font-family="'Liberation Sans', Arial, sans-serif" font-size="12.3" text-anchor="end" fill="#333">10</text>
<text transform="translate(1138.4,1028.8) scale(0.93,1)" font-family="'Liberation Sans', Arial, sans-serif" font-size="12.3" text-anchor="end" fill="#333">15</text>
<text transform="translate(1138.4,1007.8) scale(0.93,1)" font-family="'Liberation Sans', Arial, sans-serif" font-size="12.3" text-anchor="end" fill="#333">20</text>
<text transform="translate(1138.4,986.8) scale(0.93,1)" font-family="'Liberation Sans', Arial, sans-serif" font-size="12.3" text-anchor="end" fill="#333">25</text>
<text transform="translate(1138.4,965.9) scale(0.93,1)" font-family="'Liberation Sans', Arial, sans-serif" font-size="12.3" text-anchor="end" fill="#333">30</text>
<text transform="translate(1138.4,944.9) scale(0.93,1)" font-family="'Liberation Sans', Arial, sans-serif" font-size="12.3" text-anchor="end" fill="#333">35</text>
<text transform="translate(1138.4,923.9) scale(0.93,1)" font-family="'Liberation Sans', Arial, sans-serif" font-size="12.3" text-anchor="end" fill="#333">40</text>
<text transform="translate(1138.4,902.9) scale(0.93,1)" font-family="'Liberation Sans', Arial, sans-serif" font-size="12.3" text-anchor="end" fill="#333">45</text>
<text transform="translate(1138.4,882.0) scale(0.93,1)" font-family="'Liberation Sans', Arial, sans-serif" font-size="12.3" text-anchor="end" fill="#333">50</text>
<text transform="translate(1138.4,861.0) scale(0.93,1)" font-family="'Liberation Sans', Arial, sans-serif" font-size="12.3" text-anchor="end" fill="#333">55</text>
<text transform="translate(1138.4,840.0) scale(0.93,1)" font-family="'Liberation Sans', Arial, sans-serif" font-size="12.3" text-anchor="end" fill="#333">60</text>
<text transform="translate(1138.4,819.0) scale(0.93,1)" font-family="'Liberation Sans', Arial, sans-serif" font-size="12.3" text-anchor="end" fill="#333">65</text>
<text transform="translate(1138.4,798.0) scale(0.93,1)" font-family="'Liberation Sans', Arial, sans-serif" font-size="12.3" text-anchor="end" fill="#333">70</text>
<text transform="translate(1138.4,777.1) scale(0.93,1)" font-family="'Liberation Sans', Arial, sans-serif" font-size="12.3" text-anchor="end" fill="#333">75</text>
<text transform="translate(1138.4,756.1) scale(0.93,1)" font-family="'Liberation Sans', Arial, sans-serif" font-size="12.3" text-anchor="end" fill="#333">80</text>
<text transform="translate(1138.4,735.1) scale(0.93,1)" font-family="'Liberation Sans', Arial, sans-serif" font-size="12.3" text-anchor="end" fill="#333">85</text>
<text transform="translate(1138.4,714.2) scale(0.93,1)" font-family="'Liberation Sans', Arial, sans-serif" font-size="12.3" text-anchor="end" fill="#333">90</text>
<text transform="translate(1138.4,693.2) scale(0.93,1)" font-family="'Liberation Sans', Arial, sans-serif" font-size="12.3" text-anchor="end" fill="#333">95</text>
<text transform="translate(1138.4,672.2) scale(0.93,1)" font-family="'Liberation Sans', Arial, sans-serif" font-size="12.3" text-anchor="end" fill="#333">100</text>
<text transform="translate(1196.3,1102.7) scale(0.95,1)" font-family="'Liberation Sans', Arial, sans-serif" font-size="12.3" text-anchor="middle" fill="#333">350</text>
<text transform="translate(1254.9,1102.7) scale(0.95,1)" font-family="'Liberation Sans', Arial, sans-serif" font-size="12.3" text-anchor="middle" fill="#333">400</text>
<text transform="translate(1313.5,1102.7) scale(0.95,1)" font-family="'Liberation Sans', Arial, sans-serif" font-size="12.3" text-anchor="middle" fill="#333">450</text>
<text transform="translate(1372.1,1102.7) scale(0.95,1)" font-family="'Liberation Sans', Arial, sans-serif" font-size="12.3" text-anchor="middle" fill="#333">500</text>
<text transform="translate(1430.7,1102.7) scale(0.95,1)" font-family="'Liberation Sans', Arial, sans-serif" font-size="12.3" text-anchor="middle" fill="#333">550</text>
<text transform="translate(1489.3,1102.7) scale(0.95,1)" font-family="'Liberation Sans', Arial, sans-serif" font-size="12.3" text-anchor="middle" fill="#333">600</text>
<text transform="translate(1547.9,1102.7) scale(0.95,1)" font-family="'Liberation Sans', Arial, sans-serif" font-size="12.3" text-anchor="middle" fill="#333">650</text>
<text transform="translate(1606.5,1102.7) scale(0.95,1)" font-family="'Liberation Sans', Arial, sans-serif" font-size="12.3" text-anchor="middle" fill="#333">700</text>
<text transform="translate(1665.1,1102.7) scale(0.95,1)" font-family="'Liberation Sans', Arial, sans-serif" font-size="12.3" text-anchor="middle" fill="#333">750</text>
<text transform="translate(1723.7,1102.7) scale(0.95,1)" font-family="'Liberation Sans', Arial, sans-serif" font-size="12.3" text-anchor="middle" fill="#333">800</text>
<text transform="translate(1782.3,1102.7) scale(0.95,1)" font-family="'Liberation Sans', Arial, sans-serif" font-size="12.3" text-anchor="middle" fill="#333">850</text>
<text transform="translate(1840.9,1102.7) scale(0.95,1)" font-family="'Liberation Sans', Arial, sans-serif" font-size="12.3" text-anchor="middle" fill="#333">900</text>
<text transform="translate(1899.5,1102.7) scale(0.95,1)" font-family="'Liberation Sans', Arial, sans-serif" font-size="12.3" text-anchor="middle" fill="#333">950</text>
<text transform="translate(1958.1,1102.7) scale(0.95,1)" font-family="'Liberation Sans', Arial, sans-serif" font-size="12.3" text-anchor="middle" fill="#333">1000</text>
<text x="1555.8" y="1114" font-family="'Liberation Sans', Arial, sans-serif" font-size="11.8" text-anchor="middle" fill="#333">m/z</text>
<text transform="translate(1127.5,924) rotate(-90)" font-family="'Liberation Sans', Arial, sans-serif" font-size="12" textLength="98.6" lengthAdjust="spacingAndGlyphs" fill="#333">Relative Abundance</text>
<path d="M1530.1 1085.1H1965.0" stroke="#8a8a8a" stroke-width="1.2" stroke-dasharray="1.5 2.5 3 2" fill="none"/>
<path d="M1166.8 1082.9V1082.2M1167.2 1082.9V1082.8M1167.7 1082.9V1082.7M1168.2 1082.9V1079.9M1168.5 1082.9V1080.3M1168.7 1082.9V1078.3M1169.1 1082.9V1073.6M1169.6 1082.9V1081.2M1169.9 1082.9V1080.0M1170.2 1082.9V1078.7M1170.3 1082.9V1081.3M1170.5 1082.9V1073.3M1170.7 1082.9V1079.0M1171.2 1082.9V1073.6M1171.5 1082.9V1079.3M1171.9 1082.9V1072.9M1172.4 1082.9V1082.2M1172.6 1082.9V1082.9M1172.9 1082.9V1081.1M1173.1 1082.9V1065.5M1173.4 1082.9V1081.3M1173.7 1082.9V1082.0M1174.1 1082.9V1082.6M1174.4 1082.9V1072.9M1174.8 1082.9V1079.9M1175.0 1082.9V1081.9M1175.5 1082.9V1079.2M1175.8 1082.9V1082.3M1176.0 1082.9V1082.3M1176.2 1082.9V1077.4M1176.6 1082.9V1078.6M1177.0 1082.9V1075.8M1177.4 1082.9V1081.9M1177.9 1082.9V1077.3M1178.0 1082.9V1078.0M1178.5 1082.9V1081.0M1178.8 1082.9V1082.6M1179.2 1082.9V1081.7M1179.4 1082.9V1076.1M1179.5 1082.9V1082.5M1179.9 1082.9V1082.3M1180.2 1082.9V1082.2M1180.5 1082.9V1080.0M1180.7 1082.9V1082.2M1181.1 1082.9V1079.1M1181.6 1082.9V1080.3M1181.9 1082.9V1082.7M1182.3 1082.9V1072.6M1182.6 1082.9V1073.2M1182.8 1082.9V1078.9M1183.0 1082.9V1075.8M1183.3 1082.9V1077.5M1183.7 1082.9V1082.1M1184.0 1082.9V1079.7M1184.3 1082.9V1081.2M1184.5 1082.9V1080.9M1184.7 1082.9V1080.4M1185.1 1082.9V1080.3M1185.5 1082.9V1080.8M1185.8 1082.9V1070.0M1186.0 1082.9V1074.8M1186.4 1082.9V1080.8M1186.8 1082.9V1079.1M1187.1 1082.9V1081.1M1187.6 1082.9V1080.1M1187.7 1082.9V1081.9M1187.9 1082.9V1081.4M1188.2 1082.9V1069.9M1188.6 1082.9V1080.5M1188.9 1082.9V1082.2M1189.4 1082.9V1073.6M1189.7 1082.9V1058.8M1190.1 1082.9V1082.2M1190.3 1082.9V1079.0M1190.5 1082.9V1082.5M1191.0 1082.9V1080.7M1191.4 1082.9V1067.1M1191.6 1082.9V1081.6M1191.8 1082.9V1082.8M1192.1 1082.9V1076.6M1192.2 1082.9V1082.5M1192.7 1082.9V1079.4M1193.2 1082.9V1072.2M1193.6 1082.9V1080.7M1194.0 1082.9V1082.6M1194.4 1082.9V1080.9M1194.6 1082.9V1072.8M1195.1 1082.9V1075.8M1195.4 1082.9V1082.3M1195.8 1082.9V1082.0M1196.2 1082.9V1081.7M1196.4 1082.9V1081.8M1196.9 1082.9V1079.0M1197.1 1082.9V1079.7M1197.3 1082.9V1082.9M1197.6 1082.9V1080.0M1198.1 1082.9V1080.3M1198.5 1082.9V1082.2M1198.8 1082.9V1082.7M1199.0 1082.9V1082.9M1199.4 1082.9V1082.0M1199.8 1082.9V1068.8M1200.2 1082.9V1080.3M1200.6 1082.9V1068.9M1200.8 1082.9V1082.9M1201.1 1082.9V1080.6M1201.6 1082.9V1078.8M1202.0 1082.9V1082.9M1202.2 1082.9V1066.0M1202.6 1082.9V1072.8M1202.9 1082.9V1075.4M1203.1 1082.9V1070.6M1203.6 1082.9V1080.0M1203.8 1082.9V1082.8M1204.1 1082.9V1074.9M1204.4 1082.9V1079.7M1204.8 1082.9V1082.5M1205.3 1082.9V1081.8M1205.5 1082.9V1077.9M1205.7 1082.9V1065.1M1205.9 1082.9V1072.4M1206.1 1082.9V1078.0M1206.4 1082.9V1082.8M1206.6 1082.9V1082.3M1206.8 1082.9V1081.2M1207.3 1082.9V1082.7M1207.7 1082.9V1082.0M1207.9 1082.9V1078.0M1208.3 1082.9V1073.3M1208.6 1082.9V1082.1M1209.0 1082.9V1081.3M1209.3 1082.9V1082.4M1209.7 1082.9V1078.1M1210.1 1082.9V1082.2M1210.6 1082.9V1082.2M1210.8 1082.9V1081.5M1211.3 1082.9V1078.7M1211.6 1082.9V1081.5M1212.1 1082.9V1076.9M1212.3 1082.9V1080.7M1212.7 1082.9V1079.5M1213.0 1082.9V1079.3M1213.4 1082.9V1080.7M1213.7 1082.9V1082.2M1214.0 1082.9V1077.3M1214.5 1082.9V1082.1M1214.9 1082.9V1080.0M1215.3 1082.9V1077.1M1215.6 1082.9V1082.8M1215.9 1082.9V1069.1M1216.3 1082.9V1071.0M1216.5 1082.9V1082.0M1216.7 1082.9V1064.0M1217.0 1082.9V1081.2M1217.4 1082.9V1078.1M1217.8 1082.9V1082.1M1218.0 1082.9V1078.6M1218.4 1082.9V1082.0M1218.8 1082.9V1075.8M1219.3 1082.9V1082.3M1219.8 1082.9V1082.2M1220.1 1082.9V1080.7M1220.5 1082.9V1082.4M1220.7 1082.9V1081.3M1221.2 1082.9V1079.4M1221.6 1082.9V1080.3M1222.0 1082.9V1081.8M1222.3 1082.9V1077.5M1222.5 1082.9V1078.7M1222.9 1082.9V1074.2M1223.3 1082.9V1080.3M1223.7 1082.9V1075.7M1224.0 1082.9V1076.2M1224.4 1082.9V1071.9M1224.6 1082.9V1082.3M1225.0 1082.9V1079.8M1225.3 1082.9V1077.4M1225.7 1082.9V1082.0M1225.9 1082.9V1081.6M1226.4 1082.9V1082.7M1226.9 1082.9V1082.5M1227.1 1082.9V1077.8M1227.3 1082.9V1080.5M1227.8 1082.9V1074.8M1228.4 1082.9V1081.8M1228.8 1082.9V1079.7M1229.2 1082.9V1072.9M1229.5 1082.9V1081.2M1230.0 1082.9V1075.8M1230.4 1082.9V1080.0M1230.6 1082.9V1080.8M1231.0 1082.9V1066.6M1231.3 1082.9V1081.7M1231.6 1082.9V1082.7M1231.8 1082.9V1081.5M1232.3 1082.9V1082.7M1232.5 1082.9V1078.8M1232.7 1082.9V1082.3M1233.0 1082.9V1081.9M1233.2 1082.9V1082.4M1233.4 1082.9V1082.7M1233.8 1082.9V1075.1M1234.2 1082.9V1082.3M1234.3 1082.9V1082.6M1234.7 1082.9V1081.0M1234.9 1082.9V1080.8M1235.2 1082.9V1080.3M1235.6 1082.9V1080.0M1235.9 1082.9V1082.1M1236.0 1082.9V1077.9M1236.5 1082.9V1079.6M1236.7 1082.9V1076.0M1237.1 1082.9V1077.8M1237.5 1082.9V1082.6M1237.7 1082.9V1078.9M1238.0 1082.9V1081.1M1238.3 1082.9V1082.1M1238.6 1082.9V1077.9M1238.9 1082.9V1080.4M1239.1 1082.9V1082.7M1239.3 1082.9V1064.4M1239.8 1082.9V1079.8M1240.2 1082.9V1081.3M1240.4 1082.9V1078.7M1240.6 1082.9V1079.2M1241.1 1082.9V1082.5M1241.3 1082.9V1080.7M1241.6 1082.9V1079.0M1242.0 1082.9V1081.9M1242.3 1082.9V1081.4M1242.7 1082.9V1082.7M1243.2 1082.9V1079.8M1243.4 1082.9V1081.1M1243.6 1082.9V1082.5M1243.9 1082.9V1082.2M1244.3 1082.9V1063.7M1244.7 1082.9V1080.3M1245.2 1082.9V1076.9M1245.7 1082.9V1075.1M1245.9 1082.9V1079.3M1246.1 1082.9V1071.1M1246.4 1082.9V1077.3M1246.7 1082.9V1070.1M1247.0 1082.9V1082.6M1247.2 1082.9V1082.2M1247.5 1082.9V1081.1M1247.9 1082.9V1081.8M1248.2 1082.9V1082.0M1248.6 1082.9V1065.8M1249.0 1082.9V1063.1M1249.2 1082.9V1080.6M1249.7 1082.9V1081.2M1249.9 1082.9V1081.1M1250.3 1082.9V1079.0M1250.5 1082.9V1080.7M1250.9 1082.9V1080.0M1251.2 1082.9V1076.6M1251.5 1082.9V1082.0M1251.6 1082.9V1082.4M1252.0 1082.9V1082.6M1252.2 1082.9V1076.1M1252.6 1082.9V1081.7M1252.9 1082.9V1081.3M1253.3 1082.9V1082.2M1253.5 1082.9V1080.9M1253.8 1082.9V1082.0M1254.2 1082.9V1082.8M1254.6 1082.9V1081.2M1254.9 1082.9V1080.2M1255.3 1082.9V1078.9M1255.6 1082.9V1081.4M1255.7 1082.9V1078.0M1256.0 1082.9V1077.6M1256.5 1082.9V1082.8M1256.8 1082.9V1080.1M1257.1 1082.9V1082.9M1257.4 1082.9V1082.4M1257.7 1082.9V1081.8M1258.1 1082.9V1080.2M1258.6 1082.9V1079.8M1258.9 1082.9V1076.8M1259.3 1082.9V1073.7M1259.7 1082.9V1080.1M1260.2 1082.9V1072.8M1260.4 1082.9V1074.5M1260.9 1082.9V1069.1M1261.5 1082.9V1079.7M1261.7 1082.9V1082.9M1262.2 1082.9V1077.0M1262.6 1082.9V1077.9M1263.1 1082.9V1082.1M1263.2 1082.9V1082.8M1263.4 1082.9V1077.9M1263.8 1082.9V1082.2M1264.1 1082.9V1080.1M1264.5 1082.9V1075.8M1264.8 1082.9V1082.4M1265.3 1082.9V1081.9M1265.5 1082.9V1081.5M1265.8 1082.9V1075.5M1266.2 1082.9V1082.7M1266.5 1082.9V1082.1M1266.9 1082.9V1078.8M1267.0 1082.9V1079.4M1267.4 1082.9V1082.1M1267.7 1082.9V1069.1M1268.0 1082.9V1079.0M1268.2 1082.9V1080.3M1268.5 1082.9V1081.6M1269.0 1082.9V1079.7M1269.5 1082.9V1080.1M1270.0 1082.9V1077.3M1270.4 1082.9V1080.9M1270.6 1082.9V1079.6M1270.9 1082.9V1082.0M1271.4 1082.9V1076.2M1271.8 1082.9V1081.9M1272.0 1082.9V1079.8M1272.3 1082.9V1081.1M1272.6 1082.9V1077.3M1273.0 1082.9V1080.5M1273.4 1082.9V1076.5M1273.8 1082.9V1081.4M1274.3 1082.9V1066.6M1274.8 1082.9V1076.9M1275.2 1082.9V1069.3M1275.6 1082.9V1080.6M1275.9 1082.9V1077.6M1276.2 1082.9V1081.2M1276.4 1082.9V1080.1M1276.7 1082.9V1081.6M1277.1 1082.9V1080.7M1277.5 1082.9V1073.4M1277.7 1082.9V1080.6M1277.9 1082.9V1079.4M1278.1 1082.9V1082.8M1278.4 1082.9V1079.5M1278.6 1082.9V1081.8M1278.9 1082.9V1081.8M1279.4 1082.9V1081.0M1279.6 1082.9V1081.5M1279.9 1082.9V1082.6M1280.1 1082.9V1082.0M1280.3 1082.9V1079.4M1280.8 1082.9V1079.0M1281.0 1082.9V1073.6M1281.3 1082.9V1068.1M1281.7 1082.9V1082.9M1282.2 1082.9V1082.7M1282.3 1082.9V1080.6M1282.8 1082.9V1082.3M1283.3 1082.9V1082.8M1283.6 1082.9V1082.9M1284.0 1082.9V1080.6M1284.4 1082.9V1066.5M1284.7 1082.9V1080.7M1285.0 1082.9V1081.1M1285.2 1082.9V1079.3M1285.7 1082.9V1079.7M1286.0 1082.9V1082.4M1286.5 1082.9V1081.3M1286.6 1082.9V1081.6M1286.9 1082.9V1074.6M1287.3 1082.9V1081.1M1287.8 1082.9V1080.9M1288.0 1082.9V1080.4M1288.4 1082.9V1078.0M1288.6 1082.9V1081.6M1289.0 1082.9V1080.7M1289.5 1082.9V1078.2M1289.9 1082.9V1080.6M1290.2 1082.9V1082.6M1290.5 1082.9V1078.8M1290.9 1082.9V1077.4M1291.1 1082.9V1082.8M1291.6 1082.9V1074.4M1292.0 1082.9V1081.5M1292.4 1082.9V1074.6M1292.8 1082.9V1078.0M1293.0 1082.9V1077.5M1293.2 1082.9V1081.0M1293.4 1082.9V1073.0M1293.8 1082.9V1071.8M1294.1 1082.9V1082.3M1294.5 1082.9V1065.3M1294.9 1082.9V1082.7M1295.3 1082.9V1079.0M1295.5 1082.9V1081.6M1295.8 1082.9V1072.0M1296.0 1082.9V1082.0M1296.4 1082.9V1079.2M1296.7 1082.9V1082.4M1297.1 1082.9V1079.9M1297.5 1082.9V1082.5M1297.9 1082.9V1082.5M1298.3 1082.9V1081.7M1298.5 1082.9V1076.0M1298.9 1082.9V1081.3M1299.1 1082.9V1080.2M1299.6 1082.9V1082.0M1300.0 1082.9V1081.3M1300.3 1082.9V1078.1M1300.8 1082.9V1076.1M1301.3 1082.9V1080.4M1301.8 1082.9V1082.3M1302.2 1082.9V1078.9M1302.6 1082.9V1078.4M1303.1 1082.9V1082.4M1303.6 1082.9V1080.6M1304.0 1082.9V1063.1M1304.4 1082.9V1071.6M1304.8 1082.9V1077.8M1305.1 1082.9V1078.1M1305.3 1082.9V1082.5M1305.5 1082.9V1074.2M1305.8 1082.9V1082.7M1306.2 1082.9V1057.7M1306.5 1082.9V1082.6M1306.7 1082.9V1080.3M1307.0 1082.9V1078.0M1307.2 1082.9V1082.2M1307.6 1082.9V1076.4M1307.7 1082.9V1081.0M1308.1 1082.9V1079.0M1308.3 1082.9V1072.9M1308.5 1082.9V1080.5M1308.9 1082.9V1077.5M1309.3 1082.9V1081.7M1309.5 1082.9V1081.8M1309.7 1082.9V1082.0M1310.0 1082.9V1082.8M1310.3 1082.9V1081.4M1310.7 1082.9V1081.1M1310.9 1082.9V1081.5M1311.2 1082.9V1082.3M1311.5 1082.9V1082.8M1312.0 1082.9V1080.7M1312.3 1082.9V1078.3M1312.8 1082.9V1081.2M1313.2 1082.9V1078.3M1313.6 1082.9V1079.6M1313.9 1082.9V1076.6M1314.1 1082.9V1080.2M1314.4 1082.9V1079.0M1314.7 1082.9V1079.8M1315.2 1082.9V1081.3M1315.6 1082.9V1079.9M1315.8 1082.9V1078.6M1316.0 1082.9V1081.2M1316.5 1082.9V1079.7M1316.7 1082.9V1081.6M1317.2 1082.9V1082.7M1317.4 1082.9V1080.5M1317.6 1082.9V1074.4M1318.0 1082.9V1082.6M1318.4 1082.9V1082.1M1318.8 1082.9V1077.0M1319.0 1082.9V1082.1M1319.3 1082.9V1082.5M1319.7 1082.9V1082.3M1319.9 1082.9V1081.5M1320.3 1082.9V1078.2M1320.6 1082.9V1072.4M1321.0 1082.9V1081.3M1321.5 1082.9V1078.3M1321.9 1082.9V1082.7M1322.1 1082.9V1076.3M1322.2 1082.9V1073.1M1322.4 1082.9V1078.5M1322.9 1082.9V1080.8M1323.3 1082.9V1081.8M1323.6 1082.9V1081.0M1323.8 1082.9V1081.9M1324.1 1082.9V1082.1M1324.4 1082.9V1081.3M1324.9 1082.9V1082.2M1325.4 1082.9V1079.9M1325.6 1082.9V1082.4M1325.8 1082.9V1081.1M1326.2 1082.9V1078.7M1326.7 1082.9V1078.7M1327.0 1082.9V1078.2M1327.2 1082.9V1075.5M1327.6 1082.9V1082.8M1328.0 1082.9V1078.9M1328.3 1082.9V1079.3M1328.7 1082.9V1078.5M1329.0 1082.9V1079.1M1329.5 1082.9V1066.3M1329.8 1082.9V1082.0M1330.2 1082.9V1076.7M1330.5 1082.9V1076.3M1330.6 1082.9V1082.6M1331.0 1082.9V1078.9M1331.3 1082.9V1080.4M1331.6 1082.9V1082.8M1331.9 1082.9V1081.1M1332.4 1082.9V1071.3M1332.8 1082.9V1082.2M1333.2 1082.9V1077.9M1333.6 1082.9V1080.5M1334.0 1082.9V1082.0M1334.1 1082.9V1080.7M1334.5 1082.9V1077.4M1334.9 1082.9V1079.8M1335.2 1082.9V1081.6M1335.4 1082.9V1072.5M1335.6 1082.9V1078.6M1336.1 1082.9V1078.9M1336.5 1082.9V1074.9M1336.8 1082.9V1082.4M1337.3 1082.9V1078.1M1337.6 1082.9V1079.7M1337.9 1082.9V1081.8M1338.2 1082.9V1081.2M1338.5 1082.9V1077.3M1338.7 1082.9V1081.0M1339.0 1082.9V1082.1M1339.4 1082.9V1071.2M1339.9 1082.9V1081.2M1340.4 1082.9V1082.1M1340.8 1082.9V1063.3M1341.3 1082.9V1082.4M1341.5 1082.9V1082.3M1341.9 1082.9V1082.8M1342.2 1082.9V1079.9M1342.6 1082.9V1081.6M1342.9 1082.9V1080.3M1343.3 1082.9V1082.3M1343.7 1082.9V1081.2M1343.8 1082.9V1081.0M1344.1 1082.9V1073.9M1344.3 1082.9V1081.2M1344.5 1082.9V1082.1M1345.0 1082.9V1082.0M1345.4 1082.9V1081.5M1345.7 1082.9V1063.4M1345.9 1082.9V1079.4M1346.1 1082.9V1077.2M1346.4 1082.9V1078.2M1346.8 1082.9V1079.4M1347.3 1082.9V1077.9M1347.8 1082.9V1076.9M1348.2 1082.9V1072.8M1348.3 1082.9V1082.7M1348.8 1082.9V1081.2M1349.3 1082.9V1082.6M1349.5 1082.9V1082.8M1349.8 1082.9V1079.7M1349.9 1082.9V1074.2M1350.2 1082.9V1078.0M1350.5 1082.9V1081.3M1350.8 1082.9V1075.0M1351.1 1082.9V1076.6M1351.6 1082.9V1081.8M1352.0 1082.9V1080.8M1352.2 1082.9V1079.6M1352.5 1082.9V1082.7M1352.6 1082.9V1079.1M1352.8 1082.9V1080.9M1353.1 1082.9V1076.8M1353.5 1082.9V1076.9M1353.9 1082.9V1078.1M1354.0 1082.9V1078.7M1354.5 1082.9V1062.8M1354.8 1082.9V1081.3M1355.0 1082.9V1079.9M1355.5 1082.9V1082.8M1355.7 1082.9V1079.1M1356.2 1082.9V1081.9M1356.6 1082.9V1081.5M1356.9 1082.9V1076.2M1357.0 1082.9V1078.7M1357.4 1082.9V1078.9M1357.7 1082.9V1082.7M1358.1 1082.9V1078.4M1358.2 1082.9V1080.5M1358.6 1082.9V1081.7M1358.9 1082.9V1080.7M1359.3 1082.9V1075.6M1359.6 1082.9V1079.2M1360.0 1082.9V1074.0M1360.3 1082.9V1073.8M1360.7 1082.9V1081.0M1360.9 1082.9V1082.3M1361.4 1082.9V1080.1M1361.7 1082.9V1082.4M1362.0 1082.9V1075.8M1362.5 1082.9V1079.6M1362.7 1082.9V1082.2M1363.1 1082.9V1082.5M1363.3 1082.9V1069.8M1363.6 1082.9V1082.5M1364.1 1082.9V1079.8M1364.3 1082.9V1082.8M1364.7 1082.9V1082.3M1365.2 1082.9V1076.2M1365.7 1082.9V1082.3M1366.1 1082.9V1072.5M1366.5 1082.9V1078.4M1367.0 1082.9V1081.6M1367.3 1082.9V1079.3M1367.6 1082.9V1079.8M1367.8 1082.9V1074.8M1368.2 1082.9V1081.9M1368.6 1082.9V1075.5M1368.9 1082.9V1082.7M1369.2 1082.9V1082.2M1369.4 1082.9V1079.4M1369.5 1082.9V1081.9M1369.7 1082.9V1082.6M1370.0 1082.9V1078.6M1370.4 1082.9V1080.0M1370.9 1082.9V1078.0M1371.1 1082.9V1081.3M1371.3 1082.9V1082.7M1371.7 1082.9V1077.9M1372.0 1082.9V1081.0M1372.4 1082.9V1080.9M1372.6 1082.9V1080.6M1372.8 1082.9V1082.8M1373.1 1082.9V1080.7M1373.5 1082.9V1082.1M1373.9 1082.9V1079.4M1374.2 1082.9V1078.0M1374.6 1082.9V1082.9M1375.0 1082.9V1079.2M1375.4 1082.9V1080.3M1375.7 1082.9V1081.2M1376.0 1082.9V1074.7M1376.4 1082.9V1082.1M1376.7 1082.9V1082.1M1377.0 1082.9V1065.8M1377.4 1082.9V1077.7M1377.9 1082.9V1082.7M1378.4 1082.9V1081.9M1378.5 1082.9V1081.4M1378.9 1082.9V1081.7M1379.2 1082.9V1075.1M1379.4 1082.9V1082.1M1379.6 1082.9V1078.0M1379.9 1082.9V1082.3M1380.2 1082.9V1079.9M1380.6 1082.9V1072.2M1380.8 1082.9V1080.6M1381.2 1082.9V1080.1M1381.4 1082.9V1078.2M1381.8 1082.9V1082.9M1382.0 1082.9V1082.2M1382.3 1082.9V1080.6M1382.8 1082.9V1080.1M1383.0 1082.9V1080.5M1383.4 1082.9V1080.8M1383.8 1082.9V1074.5M1384.0 1082.9V1082.1M1384.4 1082.9V1081.6M1384.6 1082.9V1082.0M1385.1 1082.9V1078.9M1385.3 1082.9V1082.6M1385.5 1082.9V1079.7M1385.8 1082.9V1070.0M1386.1 1082.9V1066.8M1386.4 1082.9V1081.7M1386.6 1082.9V1079.0M1386.9 1082.9V1082.5M1387.2 1082.9V1073.4M1387.6 1082.9V1082.9M1387.8 1082.9V1082.4M1388.1 1082.9V1081.0M1388.3 1082.9V1078.8M1388.6 1082.9V1082.1M1388.9 1082.9V1080.7M1389.2 1082.9V1081.4M1389.5 1082.9V1082.2M1390.0 1082.9V1080.9M1390.4 1082.9V1082.5M1390.7 1082.9V1082.5M1391.0 1082.9V1061.1M1391.3 1082.9V1080.6M1391.6 1082.9V1078.9M1391.9 1082.9V1073.4M1392.2 1082.9V1078.2M1392.6 1082.9V1079.0M1392.8 1082.9V1082.1M1393.1 1082.9V1082.5M1393.6 1082.9V1082.0M1393.8 1082.9V1074.3M1394.1 1082.9V1081.2M1394.4 1082.9V1080.7M1394.9 1082.9V1080.1M1395.1 1082.9V1075.0M1395.6 1082.9V1081.8M1395.8 1082.9V1082.4M1396.2 1082.9V1080.1M1396.4 1082.9V1079.8M1396.9 1082.9V1081.8M1397.1 1082.9V1079.8M1397.6 1082.9V1079.4M1398.1 1082.9V1073.1M1398.3 1082.9V1080.9M1398.6 1082.9V1075.5M1399.0 1082.9V1074.0M1399.5 1082.9V1074.5M1399.8 1082.9V1082.1M1400.3 1082.9V1081.5M1400.7 1082.9V1082.3M1401.1 1082.9V1080.7M1401.3 1082.9V1082.2M1401.4 1082.9V1081.4M1401.7 1082.9V1078.4M1402.2 1082.9V1082.0M1402.6 1082.9V1075.9M1402.9 1082.9V1064.3M1403.2 1082.9V1077.7M1403.6 1082.9V1080.9M1403.9 1082.9V1082.3M1404.4 1082.9V1082.7M1404.8 1082.9V1078.0M1405.1 1082.9V1082.0M1405.3 1082.9V1077.5M1405.6 1082.9V1070.0M1406.0 1082.9V1081.2M1406.2 1082.9V1081.2M1406.4 1082.9V1081.1M1406.7 1082.9V1079.8M1407.0 1082.9V1076.5M1407.3 1082.9V1075.4M1407.8 1082.9V1078.3M1408.3 1082.9V1081.4M1408.7 1082.9V1082.1M1408.9 1082.9V1075.4M1409.2 1082.9V1078.3M1409.4 1082.9V1080.9M1409.9 1082.9V1076.7M1410.4 1082.9V1081.5M1410.8 1082.9V1082.3M1411.3 1082.9V1078.6M1411.7 1082.9V1078.4M1412.0 1082.9V1077.3M1412.4 1082.9V1078.1M1412.7 1082.9V1082.8M1413.0 1082.9V1079.5M1413.5 1082.9V1082.3M1413.8 1082.9V1069.5M1414.1 1082.9V1081.1M1414.4 1082.9V1082.7M1414.6 1082.9V1080.2M1414.8 1082.9V1069.6M1415.0 1082.9V1078.7M1415.3 1082.9V1081.0M1415.6 1082.9V1080.2M1416.0 1082.9V1076.5M1416.4 1082.9V1079.0M1416.6 1082.9V1080.0M1417.0 1082.9V1077.0M1417.2 1082.9V1082.4M1417.6 1082.9V1081.3M1417.9 1082.9V1078.4M1418.3 1082.9V1082.9M1418.5 1082.9V1082.0M1418.9 1082.9V1082.1M1419.2 1082.9V1082.4M1419.6 1082.9V1081.7M1419.9 1082.9V1078.9M1420.2 1082.9V1082.2M1420.6 1082.9V1082.1M1421.0 1082.9V1079.7M1421.4 1082.9V1075.5M1421.6 1082.9V1082.7M1422.1 1082.9V1080.3M1422.6 1082.9V1073.8M1422.9 1082.9V1082.4M1423.1 1082.9V1079.1M1423.5 1082.9V1081.9M1423.8 1082.9V1074.3M1424.2 1082.9V1081.7M1424.4 1082.9V1082.7M1424.8 1082.9V1081.6M1425.0 1082.9V1074.9M1425.5 1082.9V1080.2M1425.9 1082.9V1081.8M1426.2 1082.9V1081.6M1426.6 1082.9V1080.8M1426.9 1082.9V1081.8M1427.2 1082.9V1064.5M1427.7 1082.9V1080.7M1427.9 1082.9V1076.6M1428.4 1082.9V1080.6M1428.8 1082.9V1082.9M1428.9 1082.9V1082.8M1429.1 1082.9V1079.2M1429.5 1082.9V1082.6M1430.0 1082.9V1077.0M1430.5 1082.9V1081.7M1430.9 1082.9V1080.0M1431.3 1082.9V1080.2M1431.7 1082.9V1078.6M1432.1 1082.9V1080.6M1432.3 1082.9V1079.2M1432.7 1082.9V1080.7M1433.0 1082.9V1082.6M1433.5 1082.9V1082.0M1433.7 1082.9V1082.9M1434.1 1082.9V1075.9M1434.3 1082.9V1081.9M1434.6 1082.9V1082.6M1435.0 1082.9V1079.8M1435.5 1082.9V1080.4M1436.0 1082.9V1082.6M1436.2 1082.9V1080.8M1436.5 1082.9V1081.2M1436.8 1082.9V1081.9M1436.9 1082.9V1063.7M1437.1 1082.9V1066.0M1437.4 1082.9V1082.2M1437.6 1082.9V1075.2M1438.1 1082.9V1079.4M1438.6 1082.9V1067.6M1439.1 1082.9V1067.3M1439.5 1082.9V1081.3M1439.9 1082.9V1082.8M1440.2 1082.9V1074.2M1440.3 1082.9V1073.5M1440.5 1082.9V1076.4M1440.8 1082.9V1081.3M1441.3 1082.9V1065.3M1441.4 1082.9V1077.8M1441.7 1082.9V1082.0M1442.1 1082.9V1081.8M1442.4 1082.9V1081.6M1442.9 1082.9V1080.4M1443.2 1082.9V1067.6M1443.5 1082.9V1081.2M1443.8 1082.9V1071.8M1444.2 1082.9V1082.2M1444.7 1082.9V1080.7M1445.2 1082.9V1082.7M1445.4 1082.9V1079.1M1445.7 1082.9V1077.2M1446.0 1082.9V1080.2M1446.3 1082.9V1078.2M1446.6 1082.9V1080.4M1447.1 1082.9V1081.5M1447.3 1082.9V1080.4M1447.7 1082.9V1079.9M1448.0 1082.9V1081.9M1448.5 1082.9V1081.6M1448.7 1082.9V1081.4M1449.1 1082.9V1082.8M1449.2 1082.9V1081.9M1449.6 1082.9V1080.3M1450.0 1082.9V1080.9M1450.2 1082.9V1082.7M1450.4 1082.9V1076.0M1450.5 1082.9V1079.1M1451.0 1082.9V1077.9M1451.5 1082.9V1081.3M1451.9 1082.9V1082.7M1452.3 1082.9V1081.5M1452.5 1082.9V1082.7M1452.7 1082.9V1063.8M1453.2 1082.9V1082.6M1453.6 1082.9V1082.1M1453.8 1082.9V1078.5M1454.1 1082.9V1082.7M1454.5 1082.9V1082.4M1455.0 1082.9V1075.4M1455.4 1082.9V1080.2M1455.7 1082.9V1080.5M1456.0 1082.9V1081.4M1456.4 1082.9V1078.4M1456.7 1082.9V1082.6M1457.0 1082.9V1081.2M1457.4 1082.9V1082.0M1457.7 1082.9V1081.0M1458.1 1082.9V1081.2M1458.4 1082.9V1082.6M1458.8 1082.9V1076.7M1459.0 1082.9V1082.7M1459.3 1082.9V1080.4M1459.4 1082.9V1082.0M1459.8 1082.9V1082.8M1460.0 1082.9V1071.4M1460.4 1082.9V1082.4M1460.8 1082.9V1069.3M1461.0 1082.9V1081.8M1461.3 1082.9V1074.7M1461.5 1082.9V1077.8M1461.7 1082.9V1077.6M1462.1 1082.9V1079.8M1462.6 1082.9V1077.5M1463.0 1082.9V1063.8M1463.4 1082.9V1081.8M1463.8 1082.9V1080.2M1464.2 1082.9V1078.8M1464.7 1082.9V1081.7M1464.9 1082.9V1080.0M1465.3 1082.9V1080.5M1465.7 1082.9V1082.3M1465.9 1082.9V1082.6M1466.1 1082.9V1081.8M1466.6 1082.9V1082.5M1466.9 1082.9V1082.8M1467.3 1082.9V1080.4M1467.4 1082.9V1074.5M1467.7 1082.9V1070.7M1468.0 1082.9V1082.4M1468.5 1082.9V1079.6M1469.0 1082.9V1081.6M1469.3 1082.9V1080.8M1469.5 1082.9V1070.0M1469.9 1082.9V1076.7M1470.3 1082.9V1078.3M1470.6 1082.9V1082.3M1470.8 1082.9V1081.2M1471.0 1082.9V1082.7M1471.5 1082.9V1082.7M1471.7 1082.9V1077.5M1472.1 1082.9V1082.1M1472.5 1082.9V1081.4M1472.7 1082.9V1080.7M1473.2 1082.9V1080.5M1473.6 1082.9V1081.0M1473.8 1082.9V1081.8M1474.3 1082.9V1076.9M1474.7 1082.9V1075.4M1474.8 1082.9V1078.7M1475.3 1082.9V1082.2M1475.8 1082.9V1075.0M1476.3 1082.9V1075.6M1476.4 1082.9V1082.5M1476.7 1082.9V1079.6M1476.9 1082.9V1082.4M1477.2 1082.9V1078.8M1477.7 1082.9V1080.1M1477.8 1082.9V1082.5M1478.2 1082.9V1078.5M1478.7 1082.9V1077.2M1478.8 1082.9V1069.4M1479.0 1082.9V1082.9M1479.3 1082.9V1077.4M1479.7 1082.9V1075.8M1479.9 1082.9V1072.9M1480.3 1082.9V1082.5M1480.7 1082.9V1073.3M1481.1 1082.9V1077.5M1481.5 1082.9V1082.1M1481.8 1082.9V1078.4M1482.1 1082.9V1078.1M1482.4 1082.9V1080.0M1482.5 1082.9V1080.0M1483.0 1082.9V1082.2M1483.4 1082.9V1079.7M1483.9 1082.9V1081.8M1484.2 1082.9V1079.2M1484.4 1082.9V1080.1M1484.9 1082.9V1074.4M1485.1 1082.9V1082.4M1485.4 1082.9V1081.4M1485.8 1082.9V1078.3M1486.2 1082.9V1077.8M1486.4 1082.9V1082.7M1486.8 1082.9V1080.2M1487.3 1082.9V1078.3M1487.4 1082.9V1073.8M1487.6 1082.9V1078.6M1487.9 1082.9V1082.6M1488.2 1082.9V1081.5M1488.6 1082.9V1082.8M1488.8 1082.9V1081.2M1489.3 1082.9V1080.6M1489.6 1082.9V1076.7M1490.0 1082.9V1082.7M1490.4 1082.9V1077.8M1490.6 1082.9V1080.0M1490.8 1082.9V1075.4M1491.0 1082.9V1080.4M1491.5 1082.9V1082.3M1491.9 1082.9V1072.4M1492.1 1082.9V1080.0M1492.2 1082.9V1068.0M1492.6 1082.9V1079.3M1493.0 1082.9V1068.4M1493.3 1082.9V1061.7M1493.5 1082.9V1080.8M1493.7 1082.9V1080.9M1494.2 1082.9V1078.4M1494.3 1082.9V1081.8M1494.7 1082.9V1081.9M1495.0 1082.9V1075.3M1495.2 1082.9V1080.2M1495.6 1082.9V1080.8M1495.9 1082.9V1062.3M1496.1 1082.9V1064.4M1496.3 1082.9V1082.4M1496.8 1082.9V1078.0M1497.0 1082.9V1082.7M1497.4 1082.9V1078.2M1497.9 1082.9V1081.8M1498.0 1082.9V1082.9M1498.2 1082.9V1082.6M1498.5 1082.9V1075.2M1499.0 1082.9V1078.8M1499.3 1082.9V1078.2M1499.5 1082.9V1082.2M1499.8 1082.9V1079.1M1500.2 1082.9V1079.3M1500.7 1082.9V1081.2M1501.0 1082.9V1073.0M1501.4 1082.9V1080.4M1501.9 1082.9V1078.9M1502.2 1082.9V1077.5M1502.7 1082.9V1076.1M1503.1 1082.9V1080.1M1503.4 1082.9V1080.7M1503.5 1082.9V1082.2M1504.1 1082.9V1082.1M1504.5 1082.9V1082.3M1505.0 1082.9V1080.8M1505.3 1082.9V1078.6M1505.6 1082.9V1081.5M1505.9 1082.9V1072.9M1506.2 1082.9V1079.9M1506.4 1082.9V1079.3M1506.8 1082.9V1080.9M1507.2 1082.9V1060.1M1507.4 1082.9V1080.0M1507.8 1082.9V1082.3M1508.0 1082.9V1075.4M1508.4 1082.9V1080.2M1508.8 1082.9V1082.5M1508.9 1082.9V1080.5M1509.3 1082.9V1078.8M1509.8 1082.9V1064.1M1510.0 1082.9V1082.7M1510.3 1082.9V1081.8M1510.5 1082.9V1081.1M1510.7 1082.9V1079.0M1510.9 1082.9V1066.7M1511.3 1082.9V1079.6M1511.6 1082.9V1079.7M1511.9 1082.9V1075.4M1512.4 1082.9V1070.7M1512.7 1082.9V1080.7M1513.2 1082.9V1080.1M1513.6 1082.9V1080.5M1513.8 1082.9V1082.0M1514.3 1082.9V1080.7M1514.6 1082.9V1068.6M1515.1 1082.9V1080.5M1515.4 1082.9V1075.9M1515.7 1082.9V1078.1M1515.9 1082.9V1076.6M1516.2 1082.9V1081.2M1516.6 1082.9V1081.6M1517.1 1082.9V1082.7M1517.6 1082.9V1068.1M1518.0 1082.9V1082.7M1518.1 1082.9V1080.7M1518.6 1082.9V1079.3M1519.1 1082.9V1077.1M1519.3 1082.9V1080.9M1519.6 1082.9V1080.7M1520.0 1082.9V1076.3M1520.5 1082.9V1078.7M1520.6 1082.9V1082.0M1521.1 1082.9V1075.9M1521.3 1082.9V1082.3M1521.6 1082.9V1079.3M1521.8 1082.9V1082.4M1522.0 1082.9V1081.5M1522.4 1082.9V1082.5M1522.9 1082.9V1081.3M1523.2 1082.9V1081.2M1523.4 1082.9V1066.5M1523.7 1082.9V1080.6M1524.0 1082.9V1082.6M1524.2 1082.9V1080.5M1524.5 1082.9V1079.5M1525.0 1082.9V1080.4M1525.3 1082.9V1079.9M1525.6 1082.9V1072.0M1526.0 1082.9V1082.2M1526.3 1082.9V1081.9M1526.6 1082.9V1078.2M1526.9 1082.9V1069.6M1527.2 1082.9V1081.4M1527.7 1082.9V1068.4M1528.0 1082.9V1082.2M1528.5 1082.9V1076.4M1528.9 1082.9V1080.2M1529.4 1082.9V1081.0M1529.8 1082.9V1079.7M1530.1 1082.9V1081.7M1530.4 1082.9V1080.1M1530.9 1082.9V1082.1M1531.1 1082.9V1079.4M1531.6 1082.9V1079.2M1532.0 1082.9V1080.1M1532.2 1082.9V1081.5M1532.4 1082.9V1072.0M1532.7 1082.9V1077.4M1533.0 1082.9V1081.2M1533.4 1082.9V1079.2M1533.9 1082.9V1081.6M1534.3 1082.9V1079.6M1534.6 1082.9V1082.6M1535.0 1082.9V1082.3M1535.3 1082.9V1082.6M1535.9 1082.9V1082.3M1536.2 1082.9V1081.6M1536.5 1082.9V1077.6M1536.9 1082.9V1082.5M1537.0 1082.9V1081.3M1537.3 1082.9V1080.3M1537.6 1082.9V1071.9M1537.8 1082.9V1080.6M1538.3 1082.9V1063.6M1538.8 1082.9V1082.7M1539.1 1082.9V1079.2M1539.4 1082.9V1078.2M1539.9 1082.9V1066.5M1540.2 1082.9V1073.5M1540.5 1082.9V1074.7M1541.0 1082.9V1082.4M1541.2 1082.9V1082.3M1541.6 1082.9V1082.2M1541.8 1082.9V1078.5M1542.0 1082.9V1079.9M1542.2 1082.9V1075.3M1542.5 1082.9V1080.2M1542.8 1082.9V1082.7M1543.0 1082.9V1080.0M1543.2 1082.9V1081.1M1543.8 1082.9V1082.4M1544.1 1082.9V1082.0M1544.5 1082.9V1082.4M1544.8 1082.9V1082.8M1545.3 1082.9V1076.9M1545.6 1082.9V1081.1M1545.9 1082.9V1081.3M1546.3 1082.9V1079.5M1546.7 1082.9V1078.0M1547.0 1082.9V1080.9M1547.2 1082.9V1081.4M1547.4 1082.9V1081.5M1548.0 1082.9V1066.5M1548.4 1082.9V1082.5M1548.9 1082.9V1077.3M1549.2 1082.9V1079.2M1549.7 1082.9V1078.4M1550.1 1082.9V1065.7M1550.5 1082.9V1081.4M1550.8 1082.9V1077.7M1551.1 1082.9V1075.9M1551.5 1082.9V1079.8M1551.8 1082.9V1080.1M1552.0 1082.9V1081.7M1552.4 1082.9V1081.3M1552.8 1082.9V1078.6M1553.1 1082.9V1078.9M1553.6 1082.9V1076.3M1553.8 1082.9V1081.8M1554.3 1082.9V1082.2M1554.7 1082.9V1081.9M1554.9 1082.9V1071.7M1555.4 1082.9V1081.9M1555.7 1082.9V1081.0M1556.2 1082.9V1081.0M1556.6 1082.9V1077.6M1556.8 1082.9V1077.5M1557.1 1082.9V1082.7M1557.3 1082.9V1081.9M1557.6 1082.9V1079.3M1557.8 1082.9V1075.8M1558.1 1082.9V1073.7M1558.3 1082.9V1082.8M1558.5 1082.9V1080.3M1559.0 1082.9V1079.1M1559.1 1082.9V1081.3M1559.4 1082.9V1079.4M1559.9 1082.9V1072.2M1560.1 1082.9V1082.6M1560.3 1082.9V1078.9M1560.8 1082.9V1082.1M1561.2 1082.9V1078.9M1561.4 1082.9V1082.8M1561.6 1082.9V1079.8M1561.8 1082.9V1078.5M1562.2 1082.9V1082.4M1562.5 1082.9V1079.9M1563.0 1082.9V1081.9M1563.4 1082.9V1082.0M1563.8 1082.9V1080.7M1564.2 1082.9V1080.3M1564.5 1082.9V1081.4M1565.0 1082.9V1082.2M1565.4 1082.9V1079.6M1565.6 1082.9V1073.9M1565.9 1082.9V1081.8M1566.2 1082.9V1078.9M1566.6 1082.9V1082.2M1567.0 1082.9V1068.3M1567.4 1082.9V1080.0M1567.7 1082.9V1082.5M1567.9 1082.9V1082.6M1568.1 1082.9V1082.0M1568.6 1082.9V1082.4M1568.8 1082.9V1079.7M1569.1 1082.9V1080.3M1569.3 1082.9V1074.1M1569.5 1082.9V1079.3M1569.8 1082.9V1079.6M1570.0 1082.9V1076.8M1570.2 1082.9V1073.9M1570.7 1082.9V1082.2M1571.2 1082.9V1081.5M1571.5 1082.9V1080.5M1571.8 1082.9V1082.1M1572.2 1082.9V1082.5M1572.4 1082.9V1080.0M1572.8 1082.9V1076.5M1573.2 1082.9V1082.4M1573.5 1082.9V1079.5M1573.8 1082.9V1082.3M1574.1 1082.9V1077.4M1574.6 1082.9V1082.2M1574.9 1082.9V1078.6M1575.1 1082.9V1082.0M1575.5 1082.9V1081.9M1575.8 1082.9V1082.6M1576.0 1082.9V1076.1M1576.3 1082.9V1082.7M1576.6 1082.9V1081.2M1576.9 1082.9V1082.5M1577.3 1082.9V1078.2M1577.5 1082.9V1082.7M1577.9 1082.9V1082.7M1578.3 1082.9V1080.3M1578.8 1082.9V1082.1M1579.0 1082.9V1081.2M1579.2 1082.9V1079.5M1579.6 1082.9V1074.1M1579.9 1082.9V1070.5M1580.2 1082.9V1078.9M1580.5 1082.9V1080.4M1580.7 1082.9V1080.4M1581.1 1082.9V1066.6M1581.5 1082.9V1081.1M1581.8 1082.9V1073.7M1582.1 1082.9V1077.7M1582.3 1082.9V1067.9M1582.8 1082.9V1082.5M1582.9 1082.9V1081.0M1583.3 1082.9V1081.5M1583.6 1082.9V1072.0M1584.1 1082.9V1081.5M1584.2 1082.9V1078.5M1584.4 1082.9V1080.3M1584.8 1082.9V1077.2M1584.9 1082.9V1077.0M1585.4 1082.9V1073.9M1585.9 1082.9V1068.3M1586.3 1082.9V1082.9M1586.8 1082.9V1081.1M1587.0 1082.9V1082.0M1587.5 1082.9V1078.3M1588.0 1082.9V1079.9M1588.4 1082.9V1082.6M1588.7 1082.9V1082.4M1588.9 1082.9V1081.9M1589.2 1082.9V1078.4M1589.5 1082.9V1070.6M1590.0 1082.9V1080.2M1590.4 1082.9V1073.9M1590.8 1082.9V1082.3M1591.0 1082.9V1080.7M1591.3 1082.9V1082.5M1591.8 1082.9V1077.4M1592.3 1082.9V1082.6M1592.6 1082.9V1082.4M1592.9 1082.9V1081.7M1593.2 1082.9V1081.5M1593.6 1082.9V1080.5M1594.1 1082.9V1080.3M1594.3 1082.9V1081.5M1594.6 1082.9V1080.3M1594.8 1082.9V1082.6M1595.2 1082.9V1081.2M1595.6 1082.9V1080.3M1596.2 1082.9V1081.8M1596.5 1082.9V1079.2M1596.8 1082.9V1080.2M1597.3 1082.9V1082.7M1597.4 1082.9V1081.0M1597.7 1082.9V1082.5M1598.0 1082.9V1080.5M1598.3 1082.9V1079.9M1598.6 1082.9V1080.6M1599.0 1082.9V1069.6M1599.1 1082.9V1078.4M1599.4 1082.9V1081.6M1599.8 1082.9V1082.8M1600.0 1082.9V1082.7M1600.3 1082.9V1078.6M1600.7 1082.9V1081.6M1601.1 1082.9V1081.0M1601.5 1082.9V1077.6M1601.8 1082.9V1071.5M1602.0 1082.9V1081.8M1602.5 1082.9V1080.9M1602.8 1082.9V1073.6M1603.2 1082.9V1080.3M1603.5 1082.9V1080.6M1603.8 1082.9V1078.2M1604.0 1082.9V1080.5M1604.5 1082.9V1081.8M1604.7 1082.9V1076.7M1605.2 1082.9V1082.0M1605.5 1082.9V1081.5M1606.0 1082.9V1080.9M1606.3 1082.9V1082.5M1606.7 1082.9V1075.5M1606.9 1082.9V1082.4M1607.3 1082.9V1079.2M1607.5 1082.9V1080.7M1607.8 1082.9V1079.2M1608.3 1082.9V1080.8M1608.8 1082.9V1081.8M1609.1 1082.9V1082.3M1609.5 1082.9V1058.6M1609.7 1082.9V1079.6M1609.9 1082.9V1080.6M1610.2 1082.9V1078.9M1610.5 1082.9V1075.2M1610.6 1082.9V1076.4M1611.1 1082.9V1078.4M1611.5 1082.9V1078.2M1611.9 1082.9V1073.1M1612.4 1082.9V1077.5M1612.8 1082.9V1072.2M1613.0 1082.9V1080.4M1613.3 1082.9V1081.8M1613.8 1082.9V1079.3M1614.0 1082.9V1070.1M1614.4 1082.9V1080.8M1614.9 1082.9V1082.4M1615.2 1082.9V1072.7M1615.6 1082.9V1069.4M1615.8 1082.9V1065.0M1616.1 1082.9V1080.5M1616.3 1082.9V1082.4M1616.5 1082.9V1078.5M1616.8 1082.9V1079.3M1617.2 1082.9V1076.8M1617.5 1082.9V1080.2M1617.9 1082.9V1082.4M1618.1 1082.9V1081.0M1618.4 1082.9V1079.1M1618.5 1082.9V1078.6M1618.8 1082.9V1081.0M1619.1 1082.9V1075.3M1619.4 1082.9V1082.8M1619.9 1082.9V1080.5M1620.3 1082.9V1082.1M1620.7 1082.9V1073.4M1620.9 1082.9V1072.1M1621.4 1082.9V1079.4M1621.9 1082.9V1075.9M1622.1 1082.9V1082.0M1622.6 1082.9V1082.8M1623.1 1082.9V1082.8M1623.5 1082.9V1081.7M1623.9 1082.9V1078.4M1624.0 1082.9V1061.6M1624.3 1082.9V1079.1M1624.8 1082.9V1076.3M1625.2 1082.9V1082.5M1625.4 1082.9V1081.2M1625.8 1082.9V1075.7M1626.2 1082.9V1082.3M1626.7 1082.9V1071.5M1626.9 1082.9V1081.0M1627.4 1082.9V1081.4M1627.5 1082.9V1078.4M1627.8 1082.9V1068.5M1628.0 1082.9V1082.7M1628.3 1082.9V1079.2M1628.6 1082.9V1082.4M1629.1 1082.9V1082.9M1629.3 1082.9V1079.8M1629.7 1082.9V1079.5M1630.1 1082.9V1082.7M1630.5 1082.9V1082.7M1630.7 1082.9V1081.0M1631.0 1082.9V1081.2M1631.3 1082.9V1079.1M1631.5 1082.9V1078.6M1631.8 1082.9V1076.4M1632.1 1082.9V1082.4M1632.5 1082.9V1082.3M1632.8 1082.9V1082.8M1633.1 1082.9V1063.0M1633.3 1082.9V1080.6M1633.9 1082.9V1075.0M1634.1 1082.9V1080.0M1634.5 1082.9V1072.5M1634.9 1082.9V1075.2M1635.0 1082.9V1080.1M1635.4 1082.9V1081.6M1635.7 1082.9V1082.9M1636.1 1082.9V1078.0M1636.4 1082.9V1070.0M1636.8 1082.9V1081.4M1637.0 1082.9V1082.1M1637.2 1082.9V1082.5M1637.4 1082.9V1081.7M1637.9 1082.9V1076.6M1638.1 1082.9V1078.6M1638.3 1082.9V1081.3M1638.7 1082.9V1080.0M1639.2 1082.9V1064.3M1639.4 1082.9V1081.2M1639.8 1082.9V1080.1M1640.3 1082.9V1080.0M1640.8 1082.9V1080.2M1641.1 1082.9V1078.7M1641.5 1082.9V1081.7M1641.8 1082.9V1079.2M1642.1 1082.9V1081.4M1642.4 1082.9V1066.3M1642.9 1082.9V1079.1M1643.1 1082.9V1079.5M1643.3 1082.9V1076.1M1643.7 1082.9V1079.7M1644.0 1082.9V1075.5M1644.4 1082.9V1082.8M1644.5 1082.9V1072.9M1644.7 1082.9V1068.8M1645.1 1082.9V1077.8M1645.5 1082.9V1078.3M1645.7 1082.9V1082.6M1645.9 1082.9V1081.7M1646.3 1082.9V1073.6M1646.7 1082.9V1082.8M1646.9 1082.9V1075.1M1647.2 1082.9V1082.2M1647.4 1082.9V1082.7M1647.9 1082.9V1078.9M1648.4 1082.9V1082.1M1648.7 1082.9V1080.6M1649.1 1082.9V1080.9M1649.5 1082.9V1080.5M1649.7 1082.9V1078.9M1650.0 1082.9V1080.1M1650.5 1082.9V1077.0M1650.8 1082.9V1080.2M1651.3 1082.9V1082.5M1651.5 1082.9V1081.2M1651.9 1082.9V1082.5M1652.1 1082.9V1078.0M1652.3 1082.9V1077.5M1652.5 1082.9V1082.3M1652.9 1082.9V1072.5M1653.2 1082.9V1082.6M1653.4 1082.9V1070.4M1653.9 1082.9V1065.7M1654.3 1082.9V1076.0M1654.6 1082.9V1081.9M1654.8 1082.9V1079.8M1655.3 1082.9V1079.4M1655.6 1082.9V1077.8M1655.9 1082.9V1082.3M1656.2 1082.9V1070.2M1656.5 1082.9V1076.1M1656.7 1082.9V1080.4M1657.2 1082.9V1077.9M1657.5 1082.9V1076.0M1658.1 1082.9V1080.9M1658.4 1082.9V1079.6M1658.7 1082.9V1080.2M1659.2 1082.9V1082.2M1659.6 1082.9V1073.2M1660.0 1082.9V1080.3M1660.2 1082.9V1079.4M1660.7 1082.9V1081.2M1661.2 1082.9V1082.2M1661.5 1082.9V1062.3M1661.8 1082.9V1074.1M1662.2 1082.9V1081.7M1662.6 1082.9V1078.8M1663.0 1082.9V1082.1M1663.3 1082.9V1082.2M1663.7 1082.9V1082.5M1664.0 1082.9V1079.6M1664.2 1082.9V1075.2M1664.4 1082.9V1075.1M1664.9 1082.9V1080.7M1665.3 1082.9V1068.3M1665.8 1082.9V1079.0M1666.3 1082.9V1082.0M1666.5 1082.9V1082.8M1667.0 1082.9V1080.5M1667.3 1082.9V1082.1M1667.8 1082.9V1068.8M1668.0 1082.9V1079.4M1668.3 1082.9V1081.6M1668.6 1082.9V1080.9M1668.9 1082.9V1077.5M1669.2 1082.9V1071.5M1669.4 1082.9V1082.7M1669.7 1082.9V1078.5M1670.0 1082.9V1079.3M1670.5 1082.9V1082.9M1671.0 1082.9V1082.2M1671.4 1082.9V1080.9M1671.8 1082.9V1082.6M1671.9 1082.9V1078.9M1672.1 1082.9V1082.3M1672.3 1082.9V1081.6M1672.6 1082.9V1082.6M1673.1 1082.9V1080.1M1673.6 1082.9V1079.5M1674.0 1082.9V1076.1M1674.5 1082.9V1081.3M1674.9 1082.9V1078.5M1675.4 1082.9V1079.4M1675.7 1082.9V1082.3M1676.1 1082.9V1078.7M1676.6 1082.9V1073.6M1676.8 1082.9V1082.6M1677.1 1082.9V1080.9M1677.5 1082.9V1080.5M1677.9 1082.9V1079.3M1678.2 1082.9V1079.4M1678.5 1082.9V1082.7M1679.0 1082.9V1068.0M1679.3 1082.9V1078.9M1679.6 1082.9V1082.1M1680.1 1082.9V1080.1M1680.2 1082.9V1082.8M1680.6 1082.9V1082.5M1681.1 1082.9V1080.9M1681.5 1082.9V1076.1M1681.7 1082.9V1082.5M1682.2 1082.9V1081.5M1682.6 1082.9V1078.0M1683.1 1082.9V1078.3M1683.6 1082.9V1080.4M1683.9 1082.9V1079.1M1684.1 1082.9V1082.0M1684.2 1082.9V1081.4M1684.5 1082.9V1081.4M1684.7 1082.9V1081.2M1685.2 1082.9V1081.8M1685.4 1082.9V1073.2M1685.9 1082.9V1082.2M1686.4 1082.9V1078.0M1686.8 1082.9V1081.8M1687.0 1082.9V1068.8M1687.2 1082.9V1082.6M1687.7 1082.9V1082.6M1688.2 1082.9V1081.9M1688.4 1082.9V1082.8M1688.8 1082.9V1082.2M1689.0 1082.9V1080.3M1689.4 1082.9V1079.4M1689.8 1082.9V1077.3M1690.3 1082.9V1080.3M1690.7 1082.9V1078.3M1691.2 1082.9V1080.1M1691.5 1082.9V1081.7M1691.8 1082.9V1079.0M1692.3 1082.9V1081.0M1692.6 1082.9V1079.9M1692.9 1082.9V1081.6M1693.3 1082.9V1078.5M1693.8 1082.9V1079.9M1693.9 1082.9V1076.8M1694.5 1082.9V1082.2M1694.7 1082.9V1081.0M1694.8 1082.9V1080.7M1695.3 1082.9V1075.6M1695.6 1082.9V1079.1M1696.0 1082.9V1081.9M1696.2 1082.9V1081.5M1696.5 1082.9V1078.3M1696.8 1082.9V1080.3M1697.3 1082.9V1079.7M1697.5 1082.9V1080.5M1697.8 1082.9V1082.0M1698.1 1082.9V1080.9M1698.4 1082.9V1078.0M1698.7 1082.9V1079.6M1698.9 1082.9V1082.5M1699.2 1082.9V1080.2M1699.4 1082.9V1077.1M1699.6 1082.9V1081.0M1700.0 1082.9V1079.3M1700.6 1082.9V1081.8M1700.8 1082.9V1076.6M1701.0 1082.9V1079.5M1701.4 1082.9V1082.8M1701.8 1082.9V1079.8M1702.2 1082.9V1082.6M1702.5 1082.9V1081.5M1703.0 1082.9V1078.2M1703.3 1082.9V1070.4M1703.6 1082.9V1079.6M1703.7 1082.9V1079.5M1704.2 1082.9V1080.3M1704.5 1082.9V1082.2M1704.8 1082.9V1076.0M1705.1 1082.9V1081.2M1705.3 1082.9V1080.3M1705.6 1082.9V1075.6M1706.0 1082.9V1081.4M1706.5 1082.9V1079.9M1706.9 1082.9V1080.2M1707.2 1082.9V1079.3M1707.4 1082.9V1080.5M1707.9 1082.9V1081.0M1708.1 1082.9V1082.4M1708.6 1082.9V1081.3M1708.8 1082.9V1078.0M1709.0 1082.9V1070.7M1709.3 1082.9V1082.7M1709.8 1082.9V1082.3M1710.1 1082.9V1071.9M1710.5 1082.9V1082.8M1710.7 1082.9V1074.0M1711.1 1082.9V1081.8M1711.4 1082.9V1076.0M1711.7 1082.9V1082.1M1712.2 1082.9V1082.0M1712.4 1082.9V1082.5M1712.8 1082.9V1078.8M1713.3 1082.9V1080.3M1713.4 1082.9V1069.2M1713.7 1082.9V1077.5M1713.9 1082.9V1081.5M1714.2 1082.9V1080.8M1714.6 1082.9V1075.3M1715.1 1082.9V1078.9M1715.6 1082.9V1080.7M1715.9 1082.9V1082.2M1716.1 1082.9V1080.7M1716.4 1082.9V1082.6M1716.8 1082.9V1078.8M1717.2 1082.9V1077.2M1717.7 1082.9V1080.6M1718.1 1082.9V1080.1M1718.5 1082.9V1063.1M1718.7 1082.9V1079.2M1719.2 1082.9V1082.3M1719.4 1082.9V1080.0M1719.9 1082.9V1082.7M1720.3 1082.9V1076.7M1720.6 1082.9V1077.3M1721.0 1082.9V1082.6M1721.4 1082.9V1080.0M1721.7 1082.9V1079.1M1722.2 1082.9V1081.9M1722.3 1082.9V1080.6M1722.8 1082.9V1082.6M1723.1 1082.9V1081.8M1723.6 1082.9V1082.3M1723.9 1082.9V1082.8M1724.4 1082.9V1070.4M1724.6 1082.9V1079.8M1724.8 1082.9V1079.3M1725.2 1082.9V1082.2M1725.5 1082.9V1078.7M1725.9 1082.9V1077.8M1726.0 1082.9V1068.8M1726.3 1082.9V1071.2M1726.8 1082.9V1082.7M1727.1 1082.9V1081.9M1727.5 1082.9V1081.9M1728.0 1082.9V1082.5M1728.2 1082.9V1081.0M1728.7 1082.9V1081.9M1729.0 1082.9V1082.0M1729.4 1082.9V1082.4M1729.7 1082.9V1082.6M1729.9 1082.9V1080.8M1730.3 1082.9V1063.9M1730.6 1082.9V1066.9M1730.8 1082.9V1079.5M1731.0 1082.9V1073.1M1731.4 1082.9V1079.8M1731.6 1082.9V1068.9M1732.0 1082.9V1082.8M1732.1 1082.9V1081.3M1732.3 1082.9V1081.3M1732.7 1082.9V1079.4M1733.0 1082.9V1071.4M1733.4 1082.9V1079.6M1733.7 1082.9V1075.3M1734.0 1082.9V1080.6M1734.2 1082.9V1082.6M1734.3 1082.9V1079.3M1734.5 1082.9V1081.7M1735.0 1082.9V1080.0M1735.2 1082.9V1082.6M1735.5 1082.9V1057.7M1735.7 1082.9V1076.1M1736.0 1082.9V1081.0M1736.2 1082.9V1070.1M1736.6 1082.9V1079.8M1737.0 1082.9V1081.2M1737.3 1082.9V1076.0M1737.5 1082.9V1076.1M1737.7 1082.9V1080.2M1738.1 1082.9V1081.6M1738.6 1082.9V1081.6M1738.9 1082.9V1082.0M1739.1 1082.9V1075.9M1739.5 1082.9V1079.7M1740.0 1082.9V1077.9M1740.5 1082.9V1082.2M1740.8 1082.9V1082.5M1741.1 1082.9V1081.3M1741.5 1082.9V1080.1M1741.7 1082.9V1082.2M1742.0 1082.9V1079.3M1742.2 1082.9V1080.5M1742.6 1082.9V1079.1M1743.0 1082.9V1081.5M1743.3 1082.9V1080.8M1743.7 1082.9V1076.7M1744.2 1082.9V1079.3M1744.5 1082.9V1081.9M1744.8 1082.9V1079.4M1744.9 1082.9V1081.1M1745.1 1082.9V1071.9M1745.3 1082.9V1082.0M1745.6 1082.9V1077.4M1745.8 1082.9V1082.9M1746.1 1082.9V1082.0M1746.3 1082.9V1063.2M1746.6 1082.9V1081.6M1747.0 1082.9V1076.9M1747.2 1082.9V1081.3M1747.7 1082.9V1079.0M1748.1 1082.9V1082.2M1748.3 1082.9V1081.6M1748.5 1082.9V1082.4M1748.7 1082.9V1078.9M1749.2 1082.9V1078.1M1749.7 1082.9V1082.8M1749.9 1082.9V1078.3M1750.4 1082.9V1080.7M1750.9 1082.9V1074.5M1751.2 1082.9V1078.2M1751.7 1082.9V1069.9M1752.2 1082.9V1082.3M1752.4 1082.9V1082.1M1752.6 1082.9V1075.5M1753.0 1082.9V1080.5M1753.3 1082.9V1075.5M1753.5 1082.9V1077.3M1753.7 1082.9V1081.6M1754.2 1082.9V1080.4M1754.6 1082.9V1077.8M1754.9 1082.9V1081.7M1755.2 1082.9V1076.7M1755.5 1082.9V1077.6M1755.6 1082.9V1069.9M1756.1 1082.9V1076.0M1756.3 1082.9V1082.5M1756.7 1082.9V1071.9M1757.1 1082.9V1066.8M1757.3 1082.9V1082.9M1757.7 1082.9V1080.5M1757.9 1082.9V1081.7M1758.0 1082.9V1074.0M1758.2 1082.9V1082.0M1758.5 1082.9V1078.2M1758.7 1082.9V1081.8M1759.0 1082.9V1073.7M1759.3 1082.9V1079.9M1759.7 1082.9V1072.8M1759.9 1082.9V1081.1M1760.3 1082.9V1082.1M1760.5 1082.9V1075.4M1761.0 1082.9V1082.1M1761.3 1082.9V1081.0M1761.5 1082.9V1078.8M1761.7 1082.9V1082.6M1762.0 1082.9V1079.2M1762.4 1082.9V1082.3M1762.9 1082.9V1080.0M1763.3 1082.9V1080.2M1763.8 1082.9V1076.5M1764.0 1082.9V1079.2M1764.3 1082.9V1082.4M1764.7 1082.9V1082.8M1764.9 1082.9V1078.6M1765.4 1082.9V1082.7M1765.6 1082.9V1076.5M1765.9 1082.9V1081.8M1766.4 1082.9V1072.9M1766.8 1082.9V1079.4M1767.0 1082.9V1077.6M1767.2 1082.9V1079.1M1767.5 1082.9V1080.3M1767.7 1082.9V1078.1M1768.2 1082.9V1081.0M1768.5 1082.9V1076.7M1768.6 1082.9V1082.5M1769.0 1082.9V1081.8M1769.2 1082.9V1082.7M1769.7 1082.9V1078.3M1770.1 1082.9V1069.3M1770.4 1082.9V1081.0M1770.5 1082.9V1080.1M1770.8 1082.9V1082.4M1771.0 1082.9V1082.9M1771.3 1082.9V1074.5M1771.6 1082.9V1078.0M1772.1 1082.9V1081.9M1772.5 1082.9V1080.9M1772.9 1082.9V1068.1M1773.3 1082.9V1082.7M1773.6 1082.9V1077.5M1773.8 1082.9V1082.2M1774.2 1082.9V1073.6M1774.3 1082.9V1080.9M1774.5 1082.9V1079.7M1774.9 1082.9V1078.9M1775.1 1082.9V1082.6M1775.4 1082.9V1078.2M1775.9 1082.9V1079.1M1776.4 1082.9V1082.4M1776.6 1082.9V1081.8M1776.8 1082.9V1063.3M1777.0 1082.9V1080.8M1777.3 1082.9V1071.2M1777.6 1082.9V1076.7M1778.1 1082.9V1073.7M1778.3 1082.9V1081.5M1778.8 1082.9V1066.3M1779.1 1082.9V1081.6M1779.4 1082.9V1080.8M1779.7 1082.9V1082.3M1780.1 1082.9V1082.0M1780.5 1082.9V1073.8M1780.8 1082.9V1081.4M1781.3 1082.9V1082.7M1781.7 1082.9V1078.4M1781.9 1082.9V1079.1M1782.1 1082.9V1076.1M1782.6 1082.9V1073.5M1782.9 1082.9V1082.7M1783.1 1082.9V1081.2M1783.5 1082.9V1057.7M1783.9 1082.9V1077.1M1784.1 1082.9V1079.2M1784.6 1082.9V1079.2M1785.1 1082.9V1073.7M1785.3 1082.9V1078.8M1785.5 1082.9V1081.2M1786.1 1082.9V1068.5M1786.5 1082.9V1079.3M1786.6 1082.9V1082.9M1787.0 1082.9V1080.9M1787.5 1082.9V1068.0M1787.9 1082.9V1079.3M1788.0 1082.9V1080.5M1788.5 1082.9V1075.7M1789.0 1082.9V1082.1M1789.2 1082.9V1081.8M1789.6 1082.9V1082.5M1790.0 1082.9V1080.7M1790.2 1082.9V1081.0M1790.4 1082.9V1082.7M1790.8 1082.9V1081.9M1791.1 1082.9V1080.9M1791.4 1082.9V1082.9M1791.6 1082.9V1081.5M1791.7 1082.9V1078.9M1792.0 1082.9V1082.6M1792.2 1082.9V1079.6M1792.5 1082.9V1064.7M1792.8 1082.9V1081.0M1793.1 1082.9V1082.1M1793.6 1082.9V1081.0M1793.9 1082.9V1079.4M1794.1 1082.9V1076.9M1794.6 1082.9V1078.1M1795.0 1082.9V1077.6M1795.4 1082.9V1082.6M1795.6 1082.9V1082.3M1796.1 1082.9V1079.0M1796.5 1082.9V1079.4M1796.9 1082.9V1076.5M1797.4 1082.9V1082.1M1797.8 1082.9V1081.2M1797.9 1082.9V1082.6M1798.4 1082.9V1081.9M1798.9 1082.9V1078.9M1799.1 1082.9V1082.1M1799.4 1082.9V1080.2M1799.7 1082.9V1081.6M1800.0 1082.9V1073.5M1800.5 1082.9V1075.1M1800.8 1082.9V1082.6M1801.2 1082.9V1081.0M1801.7 1082.9V1082.2M1802.1 1082.9V1081.6M1802.3 1082.9V1069.5M1802.7 1082.9V1080.1M1803.0 1082.9V1080.4M1803.2 1082.9V1080.7M1803.4 1082.9V1073.3M1803.9 1082.9V1079.8M1804.4 1082.9V1082.5M1804.8 1082.9V1072.7M1805.2 1082.9V1057.7M1805.6 1082.9V1063.6M1806.0 1082.9V1082.4M1806.5 1082.9V1080.1M1806.8 1082.9V1078.3M1807.2 1082.9V1080.7M1807.4 1082.9V1082.5M1807.7 1082.9V1082.1M1808.1 1082.9V1082.7M1808.5 1082.9V1070.6M1809.0 1082.9V1079.7M1809.3 1082.9V1082.3M1809.5 1082.9V1081.0M1809.9 1082.9V1080.4M1810.4 1082.9V1079.5M1810.6 1082.9V1078.1M1810.9 1082.9V1080.0M1811.4 1082.9V1076.4M1811.7 1082.9V1080.3M1812.2 1082.9V1081.6M1812.7 1082.9V1080.9M1812.9 1082.9V1081.6M1813.1 1082.9V1082.7M1813.4 1082.9V1076.0M1813.5 1082.9V1081.6M1813.9 1082.9V1081.3M1814.1 1082.9V1081.8M1814.5 1082.9V1082.7M1814.8 1082.9V1082.4M1815.2 1082.9V1070.0M1815.6 1082.9V1081.5M1816.0 1082.9V1080.4M1816.5 1082.9V1080.1M1816.8 1082.9V1081.8M1817.0 1082.9V1082.2M1817.3 1082.9V1079.7M1817.6 1082.9V1079.8M1818.0 1082.9V1077.3M1818.5 1082.9V1072.1M1818.9 1082.9V1078.9M1819.1 1082.9V1082.7M1819.4 1082.9V1080.4M1819.7 1082.9V1075.8M1820.1 1082.9V1078.8M1820.6 1082.9V1081.9M1820.9 1082.9V1081.1M1821.0 1082.9V1082.0M1821.2 1082.9V1081.3M1821.6 1082.9V1077.7M1821.9 1082.9V1082.6M1822.1 1082.9V1082.6M1822.3 1082.9V1060.0M1822.6 1082.9V1080.4M1822.9 1082.9V1078.6M1823.3 1082.9V1081.3M1823.6 1082.9V1076.4M1824.0 1082.9V1075.1M1824.3 1082.9V1078.7M1824.6 1082.9V1082.4M1825.0 1082.9V1081.9M1825.3 1082.9V1079.8M1825.5 1082.9V1076.5M1825.8 1082.9V1079.7M1826.2 1082.9V1081.5M1826.7 1082.9V1073.2M1827.2 1082.9V1074.4M1827.6 1082.9V1078.9M1827.9 1082.9V1081.7M1828.2 1082.9V1081.8M1828.5 1082.9V1080.3M1828.8 1082.9V1073.0M1829.3 1082.9V1078.0M1829.5 1082.9V1074.8M1829.9 1082.9V1080.8M1830.2 1082.9V1064.6M1830.6 1082.9V1076.2M1830.8 1082.9V1079.8M1831.3 1082.9V1081.2M1831.6 1082.9V1079.8M1832.1 1082.9V1080.9M1832.6 1082.9V1079.7M1833.1 1082.9V1077.2M1833.6 1082.9V1080.2M1834.1 1082.9V1079.0M1834.3 1082.9V1080.9M1834.7 1082.9V1079.6M1835.2 1082.9V1081.0M1835.5 1082.9V1078.5M1836.0 1082.9V1081.5M1836.3 1082.9V1068.4M1836.8 1082.9V1064.8M1837.1 1082.9V1082.3M1837.3 1082.9V1079.3M1837.5 1082.9V1081.1M1837.8 1082.9V1077.4M1838.0 1082.9V1074.0M1838.5 1082.9V1081.5M1838.7 1082.9V1072.9M1838.9 1082.9V1078.1M1839.2 1082.9V1082.3M1839.4 1082.9V1077.5M1839.9 1082.9V1082.7M1840.3 1082.9V1069.6M1840.5 1082.9V1080.9M1840.8 1082.9V1065.5M1841.3 1082.9V1081.3M1841.6 1082.9V1080.8M1841.8 1082.9V1081.4M1842.0 1082.9V1082.4M1842.4 1082.9V1082.6M1842.6 1082.9V1081.0M1843.1 1082.9V1077.8M1843.4 1082.9V1081.2M1843.9 1082.9V1081.5M1844.1 1082.9V1072.4M1844.3 1082.9V1080.5M1844.5 1082.9V1082.6M1845.0 1082.9V1081.2M1845.2 1082.9V1074.8M1845.4 1082.9V1079.1M1845.9 1082.9V1074.7M1846.4 1082.9V1071.8M1846.6 1082.9V1082.2M1846.8 1082.9V1082.9M1847.0 1082.9V1080.7M1847.2 1082.9V1080.5M1847.6 1082.9V1076.2M1847.8 1082.9V1082.7M1848.2 1082.9V1081.0M1848.6 1082.9V1079.8M1849.1 1082.9V1081.8M1849.4 1082.9V1078.4M1849.6 1082.9V1080.4M1849.8 1082.9V1081.1M1850.3 1082.9V1079.9M1850.5 1082.9V1078.4M1850.9 1082.9V1081.9M1851.3 1082.9V1078.2M1851.7 1082.9V1080.6M1852.3 1082.9V1079.5M1852.6 1082.9V1082.9M1853.0 1082.9V1065.9M1853.3 1082.9V1082.2M1853.7 1082.9V1082.8M1854.1 1082.9V1081.3M1854.6 1082.9V1076.9M1854.8 1082.9V1082.5M1855.0 1082.9V1082.2M1855.1 1082.9V1082.7M1855.6 1082.9V1082.4M1855.9 1082.9V1080.6M1856.4 1082.9V1075.5M1856.9 1082.9V1081.2M1857.4 1082.9V1082.4M1857.6 1082.9V1063.2M1857.9 1082.9V1082.4M1858.3 1082.9V1082.4M1858.8 1082.9V1082.6M1859.1 1082.9V1081.1M1859.5 1082.9V1078.7M1859.9 1082.9V1079.7M1860.2 1082.9V1082.3M1860.4 1082.9V1080.0M1860.8 1082.9V1080.9M1861.1 1082.9V1082.8M1861.3 1082.9V1076.7M1861.7 1082.9V1081.0M1862.1 1082.9V1081.6M1862.5 1082.9V1077.6M1862.7 1082.9V1082.0M1863.0 1082.9V1075.2M1863.2 1082.9V1080.9M1863.5 1082.9V1082.5M1863.9 1082.9V1078.7M1864.2 1082.9V1081.2M1864.7 1082.9V1081.1M1865.0 1082.9V1080.0M1865.3 1082.9V1081.1M1865.9 1082.9V1082.5M1866.2 1082.9V1079.7M1866.5 1082.9V1078.2M1866.8 1082.9V1080.6M1867.0 1082.9V1082.6M1867.2 1082.9V1079.2M1867.7 1082.9V1081.6M1868.1 1082.9V1078.5M1868.4 1082.9V1076.4M1868.9 1082.9V1080.3M1869.2 1082.9V1082.9M1869.6 1082.9V1082.3M1869.8 1082.9V1082.7M1870.0 1082.9V1077.6M1870.3 1082.9V1082.8M1870.5 1082.9V1079.6M1870.7 1082.9V1082.2M1870.8 1082.9V1082.4M1871.3 1082.9V1078.4M1871.8 1082.9V1069.1M1872.0 1082.9V1081.3M1872.4 1082.9V1082.4M1872.8 1082.9V1077.8M1872.9 1082.9V1082.0M1873.4 1082.9V1082.9M1873.8 1082.9V1081.0M1874.0 1082.9V1082.1M1874.3 1082.9V1080.6M1874.9 1082.9V1081.3M1875.1 1082.9V1081.9M1875.5 1082.9V1081.6M1875.8 1082.9V1082.6M1876.2 1082.9V1082.7M1876.5 1082.9V1081.5M1877.0 1082.9V1082.5M1877.4 1082.9V1082.2M1877.9 1082.9V1082.0M1878.2 1082.9V1082.7M1878.5 1082.9V1081.3M1878.7 1082.9V1076.7M1879.3 1082.9V1079.3M1879.8 1082.9V1075.7M1880.2 1082.9V1079.8M1880.5 1082.9V1082.1M1880.9 1082.9V1076.1M1881.2 1082.9V1082.8M1881.5 1082.9V1081.6M1881.9 1082.9V1078.6M1882.2 1082.9V1069.7M1882.5 1082.9V1082.6M1882.9 1082.9V1080.2M1883.3 1082.9V1067.7M1883.8 1082.9V1076.5M1884.2 1082.9V1069.8M1884.7 1082.9V1082.4M1885.2 1082.9V1080.1M1885.4 1082.9V1082.2M1885.6 1082.9V1082.1M1885.7 1082.9V1082.5M1886.0 1082.9V1081.5M1886.5 1082.9V1075.7M1886.9 1082.9V1082.2M1887.3 1082.9V1082.6M1887.5 1082.9V1082.1M1887.8 1082.9V1082.4M1888.3 1082.9V1071.6M1888.6 1082.9V1082.9M1889.0 1082.9V1079.9M1889.1 1082.9V1080.2M1889.3 1082.9V1082.6M1889.7 1082.9V1079.8M1890.0 1082.9V1082.5M1890.4 1082.9V1081.3M1890.9 1082.9V1082.9M1891.2 1082.9V1082.4M1891.5 1082.9V1082.2M1891.9 1082.9V1081.8M1892.1 1082.9V1081.9M1892.4 1082.9V1082.0M1892.6 1082.9V1077.6M1893.0 1082.9V1082.8M1893.2 1082.9V1082.3M1893.4 1082.9V1080.3M1893.9 1082.9V1077.9M1894.1 1082.9V1082.5M1894.3 1082.9V1082.1M1894.6 1082.9V1075.0M1894.9 1082.9V1082.3M1895.3 1082.9V1080.1M1895.6 1082.9V1082.2M1895.8 1082.9V1081.1M1896.1 1082.9V1080.4M1896.3 1082.9V1082.7M1896.5 1082.9V1080.7M1896.8 1082.9V1079.7M1897.2 1082.9V1070.8M1897.5 1082.9V1081.0M1897.9 1082.9V1070.7M1898.1 1082.9V1076.5M1898.5 1082.9V1078.1M1898.8 1082.9V1077.4M1899.2 1082.9V1082.8M1899.8 1082.9V1081.0M1900.0 1082.9V1080.7M1900.5 1082.9V1080.6M1900.7 1082.9V1082.2M1901.2 1082.9V1082.6M1901.3 1082.9V1079.4M1901.7 1082.9V1072.0M1901.9 1082.9V1075.2M1902.1 1082.9V1082.3M1902.4 1082.9V1081.3M1902.7 1082.9V1082.9M1903.0 1082.9V1065.2M1903.4 1082.9V1079.0M1903.9 1082.9V1082.5M1904.0 1082.9V1081.4M1904.4 1082.9V1082.5M1904.7 1082.9V1080.5M1905.2 1082.9V1076.6M1905.7 1082.9V1081.0M1906.1 1082.9V1079.7M1906.5 1082.9V1081.2M1906.7 1082.9V1078.7M1907.1 1082.9V1081.7M1907.4 1082.9V1082.1M1907.9 1082.9V1080.2M1908.2 1082.9V1082.2M1908.7 1082.9V1082.1M1909.0 1082.9V1079.8M1909.4 1082.9V1081.4M1909.6 1082.9V1082.3M1910.0 1082.9V1082.0M1910.5 1082.9V1082.2M1911.0 1082.9V1080.6M1911.5 1082.9V1082.7M1911.8 1082.9V1082.6M1912.1 1082.9V1078.2M1912.3 1082.9V1080.0M1912.5 1082.9V1076.4M1912.9 1082.9V1080.8M1913.4 1082.9V1082.3M1913.7 1082.9V1077.2M1914.0 1082.9V1080.6M1914.2 1082.9V1075.4M1914.6 1082.9V1081.2M1914.8 1082.9V1075.5M1915.1 1082.9V1081.3M1915.6 1082.9V1072.5M1915.8 1082.9V1081.2M1916.2 1082.9V1082.4M1916.4 1082.9V1082.8M1916.6 1082.9V1078.1M1917.1 1082.9V1081.3M1917.5 1082.9V1081.6M1917.9 1082.9V1079.7M1918.2 1082.9V1079.5M1918.6 1082.9V1082.7M1919.0 1082.9V1082.1M1919.2 1082.9V1079.8M1919.6 1082.9V1082.4M1919.8 1082.9V1075.0M1920.1 1082.9V1077.3M1920.4 1082.9V1081.7M1920.7 1082.9V1080.4M1921.0 1082.9V1082.3M1921.4 1082.9V1080.6M1921.7 1082.9V1081.6M1922.1 1082.9V1079.4M1922.4 1082.9V1082.5M1922.8 1082.9V1080.4M1923.2 1082.9V1080.9M1923.5 1082.9V1081.7M1923.6 1082.9V1082.3M1923.9 1082.9V1082.7M1924.3 1082.9V1082.8M1924.7 1082.9V1079.9M1924.9 1082.9V1077.9M1925.3 1082.9V1065.4M1925.7 1082.9V1082.5M1926.2 1082.9V1082.7M1926.3 1082.9V1082.2M1926.7 1082.9V1080.3M1927.0 1082.9V1081.4M1927.3 1082.9V1081.4M1927.5 1082.9V1082.1M1927.7 1082.9V1070.2M1928.0 1082.9V1082.8M1928.5 1082.9V1080.5M1928.9 1082.9V1081.9M1929.3 1082.9V1081.4M1929.6 1082.9V1081.9M1929.8 1082.9V1082.3M1930.0 1082.9V1080.9M1930.3 1082.9V1078.0M1930.4 1082.9V1080.7M1930.8 1082.9V1082.2M1931.3 1082.9V1071.8M1931.6 1082.9V1080.7M1931.8 1082.9V1082.9M1932.0 1082.9V1082.0M1932.5 1082.9V1077.8M1932.7 1082.9V1075.6M1933.1 1082.9V1074.2M1933.2 1082.9V1082.5M1933.5 1082.9V1082.7M1933.6 1082.9V1080.3M1934.0 1082.9V1081.4M1934.3 1082.9V1079.8M1934.4 1082.9V1066.7M1934.6 1082.9V1077.1M1935.0 1082.9V1079.5M1935.3 1082.9V1078.4M1935.6 1082.9V1082.8M1936.0 1082.9V1079.8M1936.3 1082.9V1079.2M1936.8 1082.9V1082.3M1937.1 1082.9V1082.8M1937.6 1082.9V1081.2M1938.0 1082.9V1074.2M1938.4 1082.9V1082.4M1938.7 1082.9V1074.8M1939.0 1082.9V1081.3M1939.2 1082.9V1082.7M1939.6 1082.9V1079.2M1940.1 1082.9V1080.8M1940.5 1082.9V1081.2M1940.9 1082.9V1077.6M1941.3 1082.9V1078.3M1941.7 1082.9V1081.5M1942.0 1082.9V1081.6M1942.4 1082.9V1082.9M1942.6 1082.9V1081.8M1942.8 1082.9V1079.9M1943.2 1082.9V1082.0M1943.6 1082.9V1068.5M1943.9 1082.9V1078.7M1944.2 1082.9V1078.2M1944.4 1082.9V1080.2M1944.9 1082.9V1080.8M1945.1 1082.9V1080.6M1945.4 1082.9V1081.8M1945.9 1082.9V1082.2M1946.3 1082.9V1078.1M1946.8 1082.9V1076.9M1947.0 1082.9V1082.3M1947.4 1082.9V1075.3M1947.6 1082.9V1081.0M1948.0 1082.9V1068.3M1948.5 1082.9V1081.9M1949.0 1082.9V1082.5M1949.2 1082.9V1078.2M1949.5 1082.9V1082.7M1949.9 1082.9V1081.2M1950.3 1082.9V1082.4M1950.7 1082.9V1081.4M1950.9 1082.9V1079.4M1951.2 1082.9V1079.6M1951.5 1082.9V1079.8M1951.7 1082.9V1081.9M1951.8 1082.9V1082.6M1952.0 1082.9V1082.6M1952.2 1082.9V1082.0M1952.5 1082.9V1078.9M1952.7 1082.9V1082.8M1952.9 1082.9V1082.4M1953.1 1082.9V1080.1M1953.5 1082.9V1080.9M1954.0 1082.9V1079.4M1954.5 1082.9V1080.3M1954.9 1082.9V1082.3M1955.4 1082.9V1079.8M1955.9 1082.9V1082.8M1956.4 1082.9V1079.8M1956.7 1082.9V1082.1M1956.8 1082.9V1082.1M1957.3 1082.9V1076.0M1957.5 1082.9V1079.2M1957.7 1082.9V1057.7M1958.0 1082.9V1080.6M1958.4 1082.9V1074.1M1958.5 1082.9V1082.8M1958.8 1082.9V1082.4M1959.2 1082.9V1081.1M1959.5 1082.9V1078.1M1959.7 1082.9V1082.1M1960.2 1082.9V1080.0M1960.3 1082.9V1081.7M1960.7 1082.9V1082.0M1960.9 1082.9V1082.7M1961.3 1082.9V1080.7M1961.4 1082.9V1082.3M1961.7 1082.9V1078.9M1962.1 1082.9V1080.2M1962.5 1082.9V1082.6M1962.7 1082.9V1082.6M1963.1 1082.9V1082.0M1963.5 1082.9V1081.4M1963.8 1082.9V1082.9M1964.3 1082.9V1082.2M1964.8 1082.9V1082.5M1965.2 1082.9V1081.9M1965.4 1082.9V1078.7M1965.8 1082.9V1079.1M1966.1 1082.9V1082.9M1966.3 1082.9V1081.1M1966.8 1082.9V1082.2M1967.0 1082.9V1082.3M1967.5 1082.9V1076.0M1968.0 1082.9V1082.2M1968.2 1082.9V1073.1M1968.4 1082.9V1081.8M1149.8 1082.9V1066.1M1169.2 1082.9V1070.3M1170.9 1082.9V1032.6M1172.7 1082.9V1059.8M1174.4 1082.9V1043.0M1175.6 1082.9V1070.3M1184.4 1082.9V1074.5M1187.9 1082.9V915.9M1189.7 1082.9V1064.0M1190.9 1082.9V1047.2M1199.6 1082.9V1051.4M1202.0 1082.9V1070.3M1205.5 1082.9V1066.1M1207.8 1082.9V1061.9M1212.5 1082.9V1070.3M1220.7 1082.9V999.0M1222.5 1082.9V1061.9M1224.3 1082.9V1066.1M1232.5 1082.9V1066.1M1237.1 1082.9V1070.3M1243.0 1082.9V1053.5M1247.7 1082.9V1066.1M1251.2 1082.9V1049.3M1253.8 1082.9V1007.8M1255.9 1082.9V1053.5M1259.4 1082.9V1061.9M1267.6 1082.9V1053.5M1279.3 1082.9V1061.9M1280.5 1082.9V1057.7M1284.0 1082.9V1057.7M1286.1 1082.9V928.5M1287.0 1082.9V1045.1M1288.7 1082.9V1066.1M1297.2 1082.9V1061.9M1299.3 1082.9V1061.9M1305.1 1082.9V1061.9M1307.5 1082.9V1064.0M1314.5 1082.9V1061.9M1319.2 1082.9V1066.1M1323.9 1082.9V1061.9M1338.3 1082.9V995.2M1339.1 1082.9V1057.7M1349.7 1082.9V1070.3M1353.2 1082.9V1057.7M1356.7 1082.9V1066.1M1371.9 1082.9V1022.5M1373.1 1082.9V1061.9M1375.8 1082.9V1014.5M1380.1 1082.9V1036.8M1382.5 1082.9V1049.3M1384.8 1082.9V1053.5M1387.2 1082.9V1061.9M1392.8 1082.9V825.7M1393.4 1082.9V934.8M1394.2 1082.9V1036.8M1396.5 1082.9V1061.9M1402.7 1082.9V1049.5M1408.3 1082.9V1066.1M1416.5 1082.9V1061.9M1421.2 1082.9V1042.2M1423.5 1082.9V1045.1M1428.2 1082.9V1041.4M1431.7 1082.9V1061.9M1435.2 1082.9V1053.5M1443.4 1082.9V1066.1M1451.4 1082.9V1028.4M1452.8 1082.9V1049.3M1455.1 1082.9V1041.0M1457.5 1082.9V1036.8M1461.0 1082.9V1005.3M1464.3 1082.9V988.9M1465.1 1082.9V1028.4M1470.4 1082.9V1061.9M1478.6 1082.9V1066.1M1485.6 1082.9V1066.1M1491.3 1082.9V1027.5M1492.6 1082.9V1057.7M1495.0 1082.9V1053.5M1497.3 1082.9V1053.5M1505.5 1082.9V1061.9M1510.2 1082.9V1061.9M1513.7 1082.9V1045.1M1519.6 1082.9V1066.1M1525.5 1082.9V1053.5M1529.0 1082.9V1066.1M1532.5 1082.9V1061.9M1547.0 1082.9V1002.4M1547.7 1082.9V1045.1M1554.8 1082.9V1061.9M1560.6 1082.9V1009.1M1561.8 1082.9V1045.1M1566.5 1082.9V1053.5M1574.7 1082.9V1061.9M1584.1 1082.9V1066.1M1589.9 1082.9V1049.3M1593.9 1082.9V967.5M1594.6 1082.9V1041.0M1601.6 1082.9V1061.9M1606.3 1082.9V1057.7M1608.7 1082.9V1025.8M1611.0 1082.9V1049.3M1613.4 1082.9V1031.7M1614.5 1082.9V1045.1M1619.2 1082.9V1061.9M1622.7 1082.9V1061.9M1625.6 1082.9V663.4M1626.7 1082.9V923.9M1627.9 1082.9V1045.1M1629.8 1082.9V1045.1M1634.5 1082.9V1061.9M1641.5 1082.9V1057.7M1643.8 1082.9V1057.7M1647.3 1082.9V1035.1M1649.7 1082.9V1057.7M1656.7 1082.9V1049.3M1660.2 1082.9V1041.0M1663.1 1082.9V1025.8M1668.4 1082.9V1061.9M1677.1 1082.9V997.7M1677.8 1082.9V1049.3M1680.2 1082.9V1053.5M1684.9 1082.9V1049.3M1689.5 1082.9V1061.9M1698.9 1082.9V1061.9M1703.6 1082.9V1049.3M1705.9 1082.9V1057.7M1713.0 1082.9V1061.9M1719.4 1082.9V1012.4M1721.2 1082.9V1053.5M1727.0 1082.9V1061.9M1730.1 1082.9V1014.1M1731.7 1082.9V1041.0M1736.4 1082.9V1066.1M1745.8 1082.9V1066.1M1754.0 1082.9V1061.9M1759.9 1082.9V1066.1M1766.9 1082.9V1070.3M1770.9 1082.9V1031.7M1773.9 1082.9V1041.0M1777.4 1082.9V1049.3M1781.0 1082.9V1045.1M1783.8 1082.9V941.5M1784.9 1082.9V1032.6M1790.3 1082.9V1061.9M1795.6 1082.9V1023.3M1796.2 1082.9V1049.3M1806.2 1082.9V1052.7M1812.6 1082.9V1066.1M1818.5 1082.9V1061.9M1824.3 1082.9V1066.1M1829.0 1082.9V1061.9M1832.5 1082.9V1053.5M1836.0 1082.9V1061.9M1841.9 1082.9V1049.3M1848.9 1082.9V1057.7M1859.0 1082.9V1045.6M1860.1 1082.9V1057.7M1871.2 1082.9V1070.3M1879.4 1082.9V1070.3M1890.0 1082.9V1070.3M1894.6 1082.9V1070.3M1906.4 1082.9V1070.3M1914.6 1082.9V1070.3M1918.6 1082.9V1070.3M1923.9 1082.9V1070.3M1929.8 1082.9V1070.3M1935.7 1082.9V1072.4M1941.5 1082.9V1070.3M1947.4 1082.9V1061.9M1953.2 1082.9V1074.5M1959.1 1082.9V1074.5M1967.7 1082.9V1059.0" stroke="#1a1a1a" stroke-width="1" fill="none"/>
<text transform="translate(1626.9,656.2) scale(0.96,1)" font-family="'Liberation Sans', Arial, sans-serif" font-size="12.3" text-anchor="middle" fill="#2a2a2a">715.4087</text>
<text transform="translate(1394.6,820.3) scale(0.96,1)" font-family="'Liberation Sans', Arial, sans-serif" font-size="12.3" text-anchor="middle" fill="#2a2a2a">516.8009</text>
<text transform="translate(1190.0,910.1) scale(0.96,1)" font-family="'Liberation Sans', Arial, sans-serif" font-size="12.3" text-anchor="middle" fill="#2a2a2a">341.9498</text>
<text transform="translate(1287.5,922.6) scale(0.96,1)" font-family="'Liberation Sans', Arial, sans-serif" font-size="12.3" text-anchor="middle" fill="#2a2a2a">425.7662</text>
<text transform="translate(1648.1,918.4) scale(0.96,1)" font-family="'Liberation Sans', Arial, sans-serif" font-size="12.3" text-anchor="middle" fill="#2a2a2a">716.4122</text>
<text transform="translate(1785.6,935.7) scale(0.96,1)" font-family="'Liberation Sans', Arial, sans-serif" font-size="12.3" text-anchor="middle" fill="#2a2a2a">850.4288</text>
<text transform="translate(1596.0,960.8) scale(0.96,1)" font-family="'Liberation Sans', Arial, sans-serif" font-size="12.3" text-anchor="middle" fill="#2a2a2a">688.4054</text>
<text transform="translate(1222.0,993.3) scale(0.96,1)" font-family="'Liberation Sans', Arial, sans-serif" font-size="12.3" text-anchor="middle" fill="#2a2a2a">369.9447</text>
<text transform="translate(1264.9,1000.3) scale(0.96,1)" font-family="'Liberation Sans', Arial, sans-serif" font-size="12.3" text-anchor="middle" fill="#2a2a2a">398.2396</text>
<text transform="translate(1339.5,988.4) scale(0.96,1)" font-family="'Liberation Sans', Arial, sans-serif" font-size="12.3" text-anchor="middle" fill="#2a2a2a">470.3334</text>
<text transform="translate(1373.1,1008.1) scale(0.96,1)" font-family="'Liberation Sans', Arial, sans-serif" font-size="12.3" text-anchor="middle" fill="#2a2a2a">502.3230</text>
<text transform="translate(1417.8,1001.2) scale(0.96,1)" font-family="'Liberation Sans', Arial, sans-serif" font-size="12.3" text-anchor="middle" fill="#2a2a2a">525.2556</text>
<text transform="translate(1466.5,982.1) scale(0.96,1)" font-family="'Liberation Sans', Arial, sans-serif" font-size="12.3" text-anchor="middle" fill="#2a2a2a">577.8113</text>
<text transform="translate(1440.7,1022.7) scale(0.96,1)" font-family="'Liberation Sans', Arial, sans-serif" font-size="12.3" text-anchor="middle" fill="#2a2a2a">566.7667</text>
<text transform="translate(1493.7,1021.4) scale(0.96,1)" font-family="'Liberation Sans', Arial, sans-serif" font-size="12.3" text-anchor="middle" fill="#2a2a2a">600.8217</text>
<text transform="translate(1549.1,994.9) scale(0.96,1)" font-family="'Liberation Sans', Arial, sans-serif" font-size="12.3" text-anchor="middle" fill="#2a2a2a">648.4070</text>
<text transform="translate(1679.0,991.7) scale(0.96,1)" font-family="'Liberation Sans', Arial, sans-serif" font-size="12.3" text-anchor="middle" fill="#2a2a2a">759.3694</text>
<text transform="translate(1655.5,1019.8) scale(0.96,1)" font-family="'Liberation Sans', Arial, sans-serif" font-size="12.3" text-anchor="middle" fill="#2a2a2a">747.4391</text>
<text transform="translate(1720.9,1005.8) scale(0.96,1)" font-family="'Liberation Sans', Arial, sans-serif" font-size="12.3" text-anchor="middle" fill="#2a2a2a">795.4714</text>
<text transform="translate(1763.4,1027.2) scale(0.96,1)" font-family="'Liberation Sans', Arial, sans-serif" font-size="12.3" text-anchor="middle" fill="#2a2a2a">839.4499</text>
<text transform="translate(1808.7,1018.1) scale(0.96,1)" font-family="'Liberation Sans', Arial, sans-serif" font-size="12.3" text-anchor="middle" fill="#2a2a2a">860.4675</text>
<text transform="translate(1818.6,1046.1) scale(0.96,1)" font-family="'Liberation Sans', Arial, sans-serif" font-size="12.3" text-anchor="middle" fill="#2a2a2a">869.5077</text>
<text transform="translate(1860.6,1038.7) scale(0.96,1)" font-family="'Liberation Sans', Arial, sans-serif" font-size="12.3" text-anchor="middle" fill="#2a2a2a">914.5656</text>
<text transform="translate(1313.0,1055.3) scale(0.96,1)" font-family="'Liberation Sans', Arial, sans-serif" font-size="12.3" text-anchor="middle" fill="#2a2a2a">435.2712</text>
<text transform="translate(1914.2,1062.6) scale(0.96,1)" font-family="'Liberation Sans', Arial, sans-serif" font-size="12.3" text-anchor="middle" fill="#2a2a2a">965.4709</text>
<text transform="translate(1958.7,1053.5) scale(0.96,1)" font-family="'Liberation Sans', Arial, sans-serif" font-size="12.3" text-anchor="middle" fill="#2a2a2a">1007.5001</text>
<path d="M1253.9 1007.8L1256.0 1006.8L1261.8 1006.8M1375.1 1014.5L1373.0 1012.8L1371.1 1012.7M1402.6 1049.0L1416.1 1006.6M1451.4 1028.4L1449.0 1027.2L1440.5 1027.0M1626.8 924.3L1629.0 923.2L1647.2 922.7M1663.2 1026.1L1660.0 1024.6L1654.6 1024.4M1770.3 1031.8L1768.0 1030.9L1762.1 1031.0M1795.5 1023.6L1798.0 1022.6L1806.2 1022.4M1806.7 1052.9L1809.0 1051.0L1816.9 1050.3M1967.7 1059.0L1965.0 1057.9L1957.0 1057.7" stroke="#7aa87a" stroke-width="1" fill="none"/>
<rect x="895.1" y="1194.5" width="429.8" height="26.3" fill="#c4c3c7"/>
<rect x="1410.8" y="1194.5" width="532.9" height="26.3" fill="#c4c3c7"/>
<rect x="448.2" y="1329.2" width="601.7" height="26.3" fill="#c4c3c7"/>
<rect x="1204.6" y="1329.2" width="739.2" height="26.3" fill="#c4c3c7"/>
<rect x="448.2" y="1483.1" width="240.7" height="26.3" fill="#c4c3c7"/>
<rect x="757.6" y="1483.1" width="361.0" height="26.3" fill="#c4c3c7"/>
<rect x="1221.8" y="1483.1" width="722.0" height="26.3" fill="#c4c3c7"/>
<rect x="448.2" y="1604.3" width="429.8" height="26.3" fill="#c4c3c7"/>
<text transform="translate(415,1216.0) scale(1,0.9)" font-family="'Liberation Mono', 'Courier New', monospace" font-size="28.65" text-anchor="end" fill="#8a8a8a">1</text>
<text transform="translate(448.20,1216.5) scale(1,0.9)" font-family="'Liberation Mono', 'Courier New', monospace" font-size="28.65" font-weight="normal" fill="#505050">MKAAVLTLAV</text>
<text transform="translate(637.29,1216.5) scale(1,0.9)" font-family="'Liberation Mono', 'Courier New', monospace" font-size="28.65" font-weight="normal" fill="#505050">LFLTGSQARH</text>
<text transform="translate(826.38,1216.5) scale(1,0.9)" font-family="'Liberation Mono', 'Courier New', monospace" font-size="28.65" font-weight="normal" fill="#505050">FWQQ</text>
<text transform="translate(895.14,1216.5) scale(1,0.9)" font-family="'Liberation Mono', 'Courier New', monospace" font-size="28.65" font-weight="bold" fill="#0a0a0a">DEPPQS</text>
<text transform="translate(1015.47,1216.5) scale(1,0.9)" font-family="'Liberation Mono', 'Courier New', monospace" font-size="28.65" font-weight="bold" fill="#0a0a0a">PWDRVKDLAT</text>
<text transform="translate(1204.56,1216.5) scale(1,0.9)" font-family="'Liberation Mono', 'Courier New', monospace" font-size="28.65" font-weight="bold" fill="#0a0a0a">VYVDVLK</text>
<text transform="translate(1324.89,1216.5) scale(1,0.9)" font-family="'Liberation Mono', 'Courier New', monospace" font-size="28.65" font-weight="normal" fill="#505050">DSG</text>
<text transform="translate(1393.65,1216.5) scale(1,0.9)" font-family="'Liberation Mono', 'Courier New', monospace" font-size="28.65" font-weight="normal" fill="#505050">R</text>
<text transform="translate(1410.84,1216.5) scale(1,0.9)" font-family="'Liberation Mono', 'Courier New', monospace" font-size="28.65" font-weight="bold" fill="#0a0a0a">DYVSQFEGS</text>
<text transform="translate(1582.74,1216.5) scale(1,0.9)" font-family="'Liberation Mono', 'Courier New', monospace" font-size="28.65" font-weight="bold" fill="#0a0a0a">ALGKQLNLKL</text>
<text transform="translate(1771.83,1216.5) scale(1,0.9)" font-family="'Liberation Mono', 'Courier New', monospace" font-size="28.65" font-weight="bold" fill="#0a0a0a">LDNWDSVTST</text>
<text transform="translate(415,1350.7) scale(1,0.9)" font-family="'Liberation Mono', 'Courier New', monospace" font-size="28.65" text-anchor="end" fill="#8a8a8a">81</text>
<text transform="translate(448.20,1351.2) scale(1,0.9)" font-family="'Liberation Mono', 'Courier New', monospace" font-size="28.65" font-weight="bold" fill="#0a0a0a">FSKLREQLGP</text>
<text transform="translate(637.29,1351.2) scale(1,0.9)" font-family="'Liberation Mono', 'Courier New', monospace" font-size="28.65" font-weight="bold" fill="#0a0a0a">VTQEFWDNLE</text>
<text transform="translate(826.38,1351.2) scale(1,0.9)" font-family="'Liberation Mono', 'Courier New', monospace" font-size="28.65" font-weight="bold" fill="#0a0a0a">KETEGLRQEM</text>
<text transform="translate(1015.47,1351.2) scale(1,0.9)" font-family="'Liberation Mono', 'Courier New', monospace" font-size="28.65" font-weight="bold" fill="#0a0a0a">SK</text>
<text transform="translate(1049.85,1351.2) scale(1,0.9)" font-family="'Liberation Mono', 'Courier New', monospace" font-size="28.65" font-weight="normal" fill="#505050">DLEEVKAK</text>
<text transform="translate(1204.56,1351.2) scale(1,0.9)" font-family="'Liberation Mono', 'Courier New', monospace" font-size="28.65" font-weight="bold" fill="#0a0a0a">VQPYLDDFQK</text>
<text transform="translate(1393.65,1351.2) scale(1,0.9)" font-family="'Liberation Mono', 'Courier New', monospace" font-size="28.65" font-weight="bold" fill="#0a0a0a">KWQEEMELYR</text>
<text transform="translate(1582.74,1351.2) scale(1,0.9)" font-family="'Liberation Mono', 'Courier New', monospace" font-size="28.65" font-weight="bold" fill="#0a0a0a">QKVEPLRAEL</text>
<text transform="translate(1771.83,1351.2) scale(1,0.9)" font-family="'Liberation Mono', 'Courier New', monospace" font-size="28.65" font-weight="bold" fill="#0a0a0a">QEGARQKLHE</text>
<text transform="translate(415,1504.6) scale(1,0.9)" font-family="'Liberation Mono', 'Courier New', monospace" font-size="28.65" text-anchor="end" fill="#8a8a8a">161</text>
<text transform="translate(448.20,1505.1) scale(1,0.9)" font-family="'Liberation Mono', 'Courier New', monospace" font-size="28.65" font-weight="bold" fill="#0a0a0a">LQEKLSPLGE</text>
<text transform="translate(637.29,1505.1) scale(1,0.9)" font-family="'Liberation Mono', 'Courier New', monospace" font-size="28.65" font-weight="bold" fill="#0a0a0a">EMR</text>
<text transform="translate(688.86,1505.1) scale(1,0.9)" font-family="'Liberation Mono', 'Courier New', monospace" font-size="28.65" font-weight="normal" fill="#505050">DRAR</text>
<text transform="translate(757.62,1505.1) scale(1,0.9)" font-family="'Liberation Mono', 'Courier New', monospace" font-size="28.65" font-weight="bold" fill="#0a0a0a">AHV</text>
<text transform="translate(826.38,1505.1) scale(1,0.9)" font-family="'Liberation Mono', 'Courier New', monospace" font-size="28.65" font-weight="bold" fill="#0a0a0a">DALRTHLAPY</text>
<text transform="translate(1015.47,1505.1) scale(1,0.9)" font-family="'Liberation Mono', 'Courier New', monospace" font-size="28.65" font-weight="bold" fill="#0a0a0a">SDELRQ</text>
<text transform="translate(1118.61,1505.1) scale(1,0.9)" font-family="'Liberation Mono', 'Courier New', monospace" font-size="28.65" font-weight="normal" fill="#505050">RLAA</text>
<text transform="translate(1204.56,1505.1) scale(1,0.9)" font-family="'Liberation Mono', 'Courier New', monospace" font-size="28.65" font-weight="normal" fill="#505050">R</text>
<text transform="translate(1221.75,1505.1) scale(1,0.9)" font-family="'Liberation Mono', 'Courier New', monospace" font-size="28.65" font-weight="bold" fill="#0a0a0a">LEALKENGG</text>
<text transform="translate(1393.65,1505.1) scale(1,0.9)" font-family="'Liberation Mono', 'Courier New', monospace" font-size="28.65" font-weight="bold" fill="#0a0a0a">ARLAEYHAKA</text>
<text transform="translate(1582.74,1505.1) scale(1,0.9)" font-family="'Liberation Mono', 'Courier New', monospace" font-size="28.65" font-weight="bold" fill="#0a0a0a">TEHLSTLSEK</text>
<text transform="translate(1771.83,1505.1) scale(1,0.9)" font-family="'Liberation Mono', 'Courier New', monospace" font-size="28.65" font-weight="bold" fill="#0a0a0a">AKPALEDLRQ</text>
<text transform="translate(415,1625.8) scale(1,0.9)" font-family="'Liberation Mono', 'Courier New', monospace" font-size="28.65" text-anchor="end" fill="#8a8a8a">241</text>
<text transform="translate(448.20,1626.3) scale(1,0.9)" font-family="'Liberation Mono', 'Courier New', monospace" font-size="28.65" font-weight="bold" fill="#0a0a0a">GLLPVLESFK</text>
<text transform="translate(637.29,1626.3) scale(1,0.9)" font-family="'Liberation Mono', 'Courier New', monospace" font-size="28.65" font-weight="bold" fill="#0a0a0a">VSFLSALEEY</text>
<text transform="translate(826.38,1626.3) scale(1,0.9)" font-family="'Liberation Mono', 'Courier New', monospace" font-size="28.65" font-weight="bold" fill="#0a0a0a">TKK</text>
<text transform="translate(877.95,1626.3) scale(1,0.9)" font-family="'Liberation Mono', 'Courier New', monospace" font-size="28.65" font-weight="normal" fill="#505050">LNTQ</text>
<rect x="895.2" y="1229.6" width="342.4" height="5.4" fill="#4a8ef0"/>
<rect x="1408.4" y="1229.6" width="535.5" height="5.4" fill="#4a8ef0"/>
<rect x="895.2" y="1248.7" width="429.8" height="5.4" fill="#4a8ef0"/>
<rect x="1408.4" y="1248.7" width="241.5" height="5.4" fill="#4a8ef0"/>
<rect x="1118.6" y="1267.8" width="206.4" height="5.4" fill="#4a8ef0"/>
<rect x="448.8" y="1364.2" width="498.5" height="5.4" fill="#4a8ef0"/>
<rect x="1202.5" y="1364.2" width="363.5" height="5.4" fill="#4a8ef0"/>
<rect x="1580.0" y="1364.2" width="122.4" height="5.4" fill="#4a8ef0"/>
<rect x="1856.2" y="1364.2" width="87.5" height="5.4" fill="#4a8ef0"/>
<rect x="465.1" y="1383.3" width="188.9" height="5.4" fill="#4a8ef0"/>
<rect x="842.3" y="1383.3" width="207.1" height="5.4" fill="#4a8ef0"/>
<rect x="1202.5" y="1383.3" width="174.8" height="5.4" fill="#4a8ef0"/>
<rect x="1390.8" y="1383.3" width="175.2" height="5.4" fill="#4a8ef0"/>
<rect x="1580.0" y="1383.3" width="122.4" height="5.4" fill="#4a8ef0"/>
<rect x="1855.7" y="1383.3" width="88.0" height="5.4" fill="#4a8ef0"/>
<rect x="534.6" y="1402.4" width="307.7" height="5.4" fill="#4a8ef0"/>
<rect x="1202.5" y="1402.4" width="174.8" height="5.4" fill="#4a8ef0"/>
<rect x="1408.4" y="1402.4" width="179.6" height="5.4" fill="#4a8ef0"/>
<rect x="1890.7" y="1402.4" width="53.0" height="5.4" fill="#4a8ef0"/>
<rect x="1307.0" y="1421.5" width="259.0" height="5.4" fill="#4a8ef0"/>
<rect x="1580.0" y="1421.5" width="275.7" height="5.4" fill="#4a8ef0"/>
<rect x="1890.7" y="1421.5" width="53.0" height="5.4" fill="#4a8ef0"/>
<rect x="448.8" y="1518.3" width="240.2" height="5.4" fill="#4a8ef0"/>
<rect x="758.2" y="1518.3" width="342.8" height="5.4" fill="#4a8ef0"/>
<rect x="1220.0" y="1518.3" width="534.6" height="5.4" fill="#4a8ef0"/>
<rect x="1768.5" y="1518.3" width="175.3" height="5.4" fill="#4a8ef0"/>
<rect x="448.8" y="1537.4" width="240.2" height="5.4" fill="#4a8ef0"/>
<rect x="929.8" y="1537.4" width="188.9" height="5.4" fill="#4a8ef0"/>
<rect x="1684.7" y="1537.4" width="188.9" height="5.4" fill="#4a8ef0"/>
<rect x="448.8" y="1556.5" width="69.0" height="5.4" fill="#4a8ef0"/>
<rect x="1821.3" y="1556.5" width="122.0" height="5.4" fill="#4a8ef0"/>
<rect x="448.8" y="1575.6" width="69.0" height="5.4" fill="#4a8ef0"/>
<rect x="1838.9" y="1575.6" width="86.8" height="5.4" fill="#4a8ef0"/>
<rect x="448.8" y="1638.5" width="173.7" height="5.4" fill="#4a8ef0"/>
<rect x="636.8" y="1638.5" width="241.3" height="5.4" fill="#4a8ef0"/>
<rect x="482.2" y="1657.6" width="140.3" height="5.4" fill="#4a8ef0"/>
<rect x="636.8" y="1657.6" width="223.5" height="5.4" fill="#4a8ef0"/>
<path d="M895.2 1226.1V1238.5M1237.6 1226.1V1238.5M1083.4 1226.1V1238.5M1408.4 1226.1V1238.5M1649.9 1226.1V1238.5M1737.1 1226.1V1238.5M895.2 1245.2V1257.6M1325.0 1245.2V1257.6M1083.4 1245.2V1257.6M1408.4 1245.2V1257.6M1649.9 1245.2V1257.6M1118.6 1264.3V1276.7M1325.0 1264.3V1276.7M947.3 1360.7V1373.1M499.7 1360.7V1373.1M842.3 1360.7V1373.1M1202.5 1360.7V1373.1M1566.0 1360.7V1373.1M1408.4 1360.7V1373.1M1580.0 1360.7V1373.1M1702.4 1360.7V1373.1M1856.2 1360.7V1373.1M465.1 1379.8V1392.2M654.0 1379.8V1392.2M842.3 1379.8V1392.2M1049.4 1379.8V1392.2M1202.5 1379.8V1392.2M1377.3 1379.8V1392.2M1390.8 1379.8V1392.2M1566.0 1379.8V1392.2M1580.0 1379.8V1392.2M1702.4 1379.8V1392.2M1855.7 1379.8V1392.2M534.6 1398.9V1411.3M842.3 1398.9V1411.3M1202.5 1398.9V1411.3M1377.3 1398.9V1411.3M1408.4 1398.9V1411.3M1588.0 1398.9V1411.3M1890.7 1398.9V1411.3M1307.0 1418.0V1430.4M1566.0 1418.0V1430.4M1408.4 1418.0V1430.4M1580.0 1418.0V1430.4M1855.7 1418.0V1430.4M1890.7 1418.0V1430.4M689.0 1514.8V1527.2M517.8 1514.8V1527.2M758.2 1514.8V1527.2M1101.0 1514.8V1527.2M894.9 1514.8V1527.2M1220.0 1514.8V1527.2M1754.6 1514.8V1527.2M1426.4 1514.8V1527.2M1548.4 1514.8V1527.2M1768.5 1514.8V1527.2M1925.7 1514.8V1527.2M689.0 1533.9V1546.3M517.8 1533.9V1546.3M929.8 1533.9V1546.3M1118.7 1533.9V1546.3M1684.7 1533.9V1546.3M1873.6 1533.9V1546.3M517.8 1553.0V1565.4M1821.3 1553.0V1565.4M517.8 1572.1V1584.5M1838.9 1572.1V1584.5M1925.7 1572.1V1584.5M622.5 1635.0V1647.4M636.8 1635.0V1647.4M878.1 1635.0V1647.4M482.2 1654.1V1666.5M622.5 1654.1V1666.5M636.8 1654.1V1666.5M860.3 1654.1V1666.5" stroke="#5a7cc0" stroke-width="1.3" fill="none"/>
<rect x="965.6" y="1242.4" width="15.6" height="18.0" fill="#f4a41c"/><text x="973.4" y="1256.0" font-family="'Liberation Sans', Arial, sans-serif" font-size="16" text-anchor="middle" fill="#222">d</text>
<rect x="1479.3" y="1242.4" width="15.6" height="18.0" fill="#f4a41c"/><text x="1487.1" y="1256.0" font-family="'Liberation Sans', Arial, sans-serif" font-size="16" text-anchor="middle" fill="#222">d</text>
<rect x="1479.6" y="1357.9" width="15.6" height="18.0" fill="#8585f2"/><text x="1487.4" y="1371.5" font-family="'Liberation Sans', Arial, sans-serif" font-size="16" text-anchor="middle" fill="#141450">o</text>
<rect x="1856.2" y="1357.9" width="15.6" height="18.0" fill="#3ec4cf"/><text x="1864.0" y="1372.1" font-family="'Liberation Sans', Arial, sans-serif" font-size="15" text-anchor="middle" fill="#0c2c34">P</text>
<rect x="1580.6" y="1377.0" width="15.6" height="18.0" fill="#3ec4cf"/><text x="1588.4" y="1391.2" font-family="'Liberation Sans', Arial, sans-serif" font-size="15" text-anchor="middle" fill="#0c2c34">P</text>
<rect x="1343.0" y="1396.1" width="15.6" height="18.0" fill="#f4a41c"/><text x="1350.8" y="1409.7" font-family="'Liberation Sans', Arial, sans-serif" font-size="16" text-anchor="middle" fill="#222">d</text>
<rect x="1581.8" y="1396.9" width="14.0" height="16.4" fill="#fff" stroke="#111" stroke-width="1.6"/><text x="1588.8" y="1410.3" font-family="'Liberation Sans', Arial, sans-serif" font-size="15" text-anchor="middle" fill="#111">K</text>
<rect x="655.0" y="1531.1" width="15.6" height="18.0" fill="#8585f2"/><text x="662.8" y="1544.7" font-family="'Liberation Sans', Arial, sans-serif" font-size="16" text-anchor="middle" fill="#141450">o</text>
<rect x="466.3" y="1569.3" width="15.6" height="18.0" fill="#f4a41c"/><text x="474.1" y="1582.9" font-family="'Liberation Sans', Arial, sans-serif" font-size="16" text-anchor="middle" fill="#222">d</text>
<rect x="1325.6" y="1512.0" width="15.6" height="18.0" fill="#f4a41c"/><text x="1333.4" y="1525.6" font-family="'Liberation Sans', Arial, sans-serif" font-size="16" text-anchor="middle" fill="#222">d</text>
<rect x="553.2" y="1651.3" width="15.6" height="18.0" fill="#2b7d8a"/><text x="561.0" y="1664.9" font-family="'Liberation Sans', Arial, sans-serif" font-size="16" text-anchor="middle" fill="#ffffff">c</text>
<rect x="965.6" y="1173.5" width="15.6" height="18.0" fill="#f4a41c"/><text x="973.4" y="1187.1" font-family="'Liberation Sans', Arial, sans-serif" font-size="16" text-anchor="middle" fill="#222">d</text>
<text x="973.4" y="1171.0" font-family="'Liberation Sans', Arial, sans-serif" font-size="13" text-anchor="middle" fill="#222">29</text>
<rect x="1479.6" y="1308.2" width="15.6" height="18.0" fill="#8585f2"/><text x="1487.4" y="1321.8" font-family="'Liberation Sans', Arial, sans-serif" font-size="16" text-anchor="middle" fill="#141450">o</text>
<text x="1487.4" y="1305.7" font-family="'Liberation Sans', Arial, sans-serif" font-size="13" text-anchor="middle" fill="#222">136</text>
<rect x="1581.8" y="1309.0" width="14.0" height="16.4" fill="#fff" stroke="#111" stroke-width="1.6"/><text x="1588.8" y="1322.4" font-family="'Liberation Sans', Arial, sans-serif" font-size="15" text-anchor="middle" fill="#111">K</text>
<text x="1588.8" y="1305.7" font-family="'Liberation Sans', Arial, sans-serif" font-size="13" text-anchor="middle" fill="#222">141</text>
<rect x="466.3" y="1462.1" width="15.6" height="18.0" fill="#f4a41c"/><text x="474.1" y="1475.7" font-family="'Liberation Sans', Arial, sans-serif" font-size="16" text-anchor="middle" fill="#222">d</text>
<text x="474.1" y="1459.6" font-family="'Liberation Sans', Arial, sans-serif" font-size="13" text-anchor="middle" fill="#222">162</text>
<rect x="655.0" y="1462.1" width="15.6" height="18.0" fill="#8585f2"/><text x="662.8" y="1475.7" font-family="'Liberation Sans', Arial, sans-serif" font-size="16" text-anchor="middle" fill="#141450">o</text>
<text x="662.8" y="1459.6" font-family="'Liberation Sans', Arial, sans-serif" font-size="13" text-anchor="middle" fill="#222">172</text>
<rect x="1325.6" y="1462.1" width="15.6" height="18.0" fill="#f4a41c"/><text x="1333.4" y="1475.7" font-family="'Liberation Sans', Arial, sans-serif" font-size="16" text-anchor="middle" fill="#222">d</text>
<text x="1333.4" y="1459.6" font-family="'Liberation Sans', Arial, sans-serif" font-size="13" text-anchor="middle" fill="#222">208</text>
</svg></body></html>
